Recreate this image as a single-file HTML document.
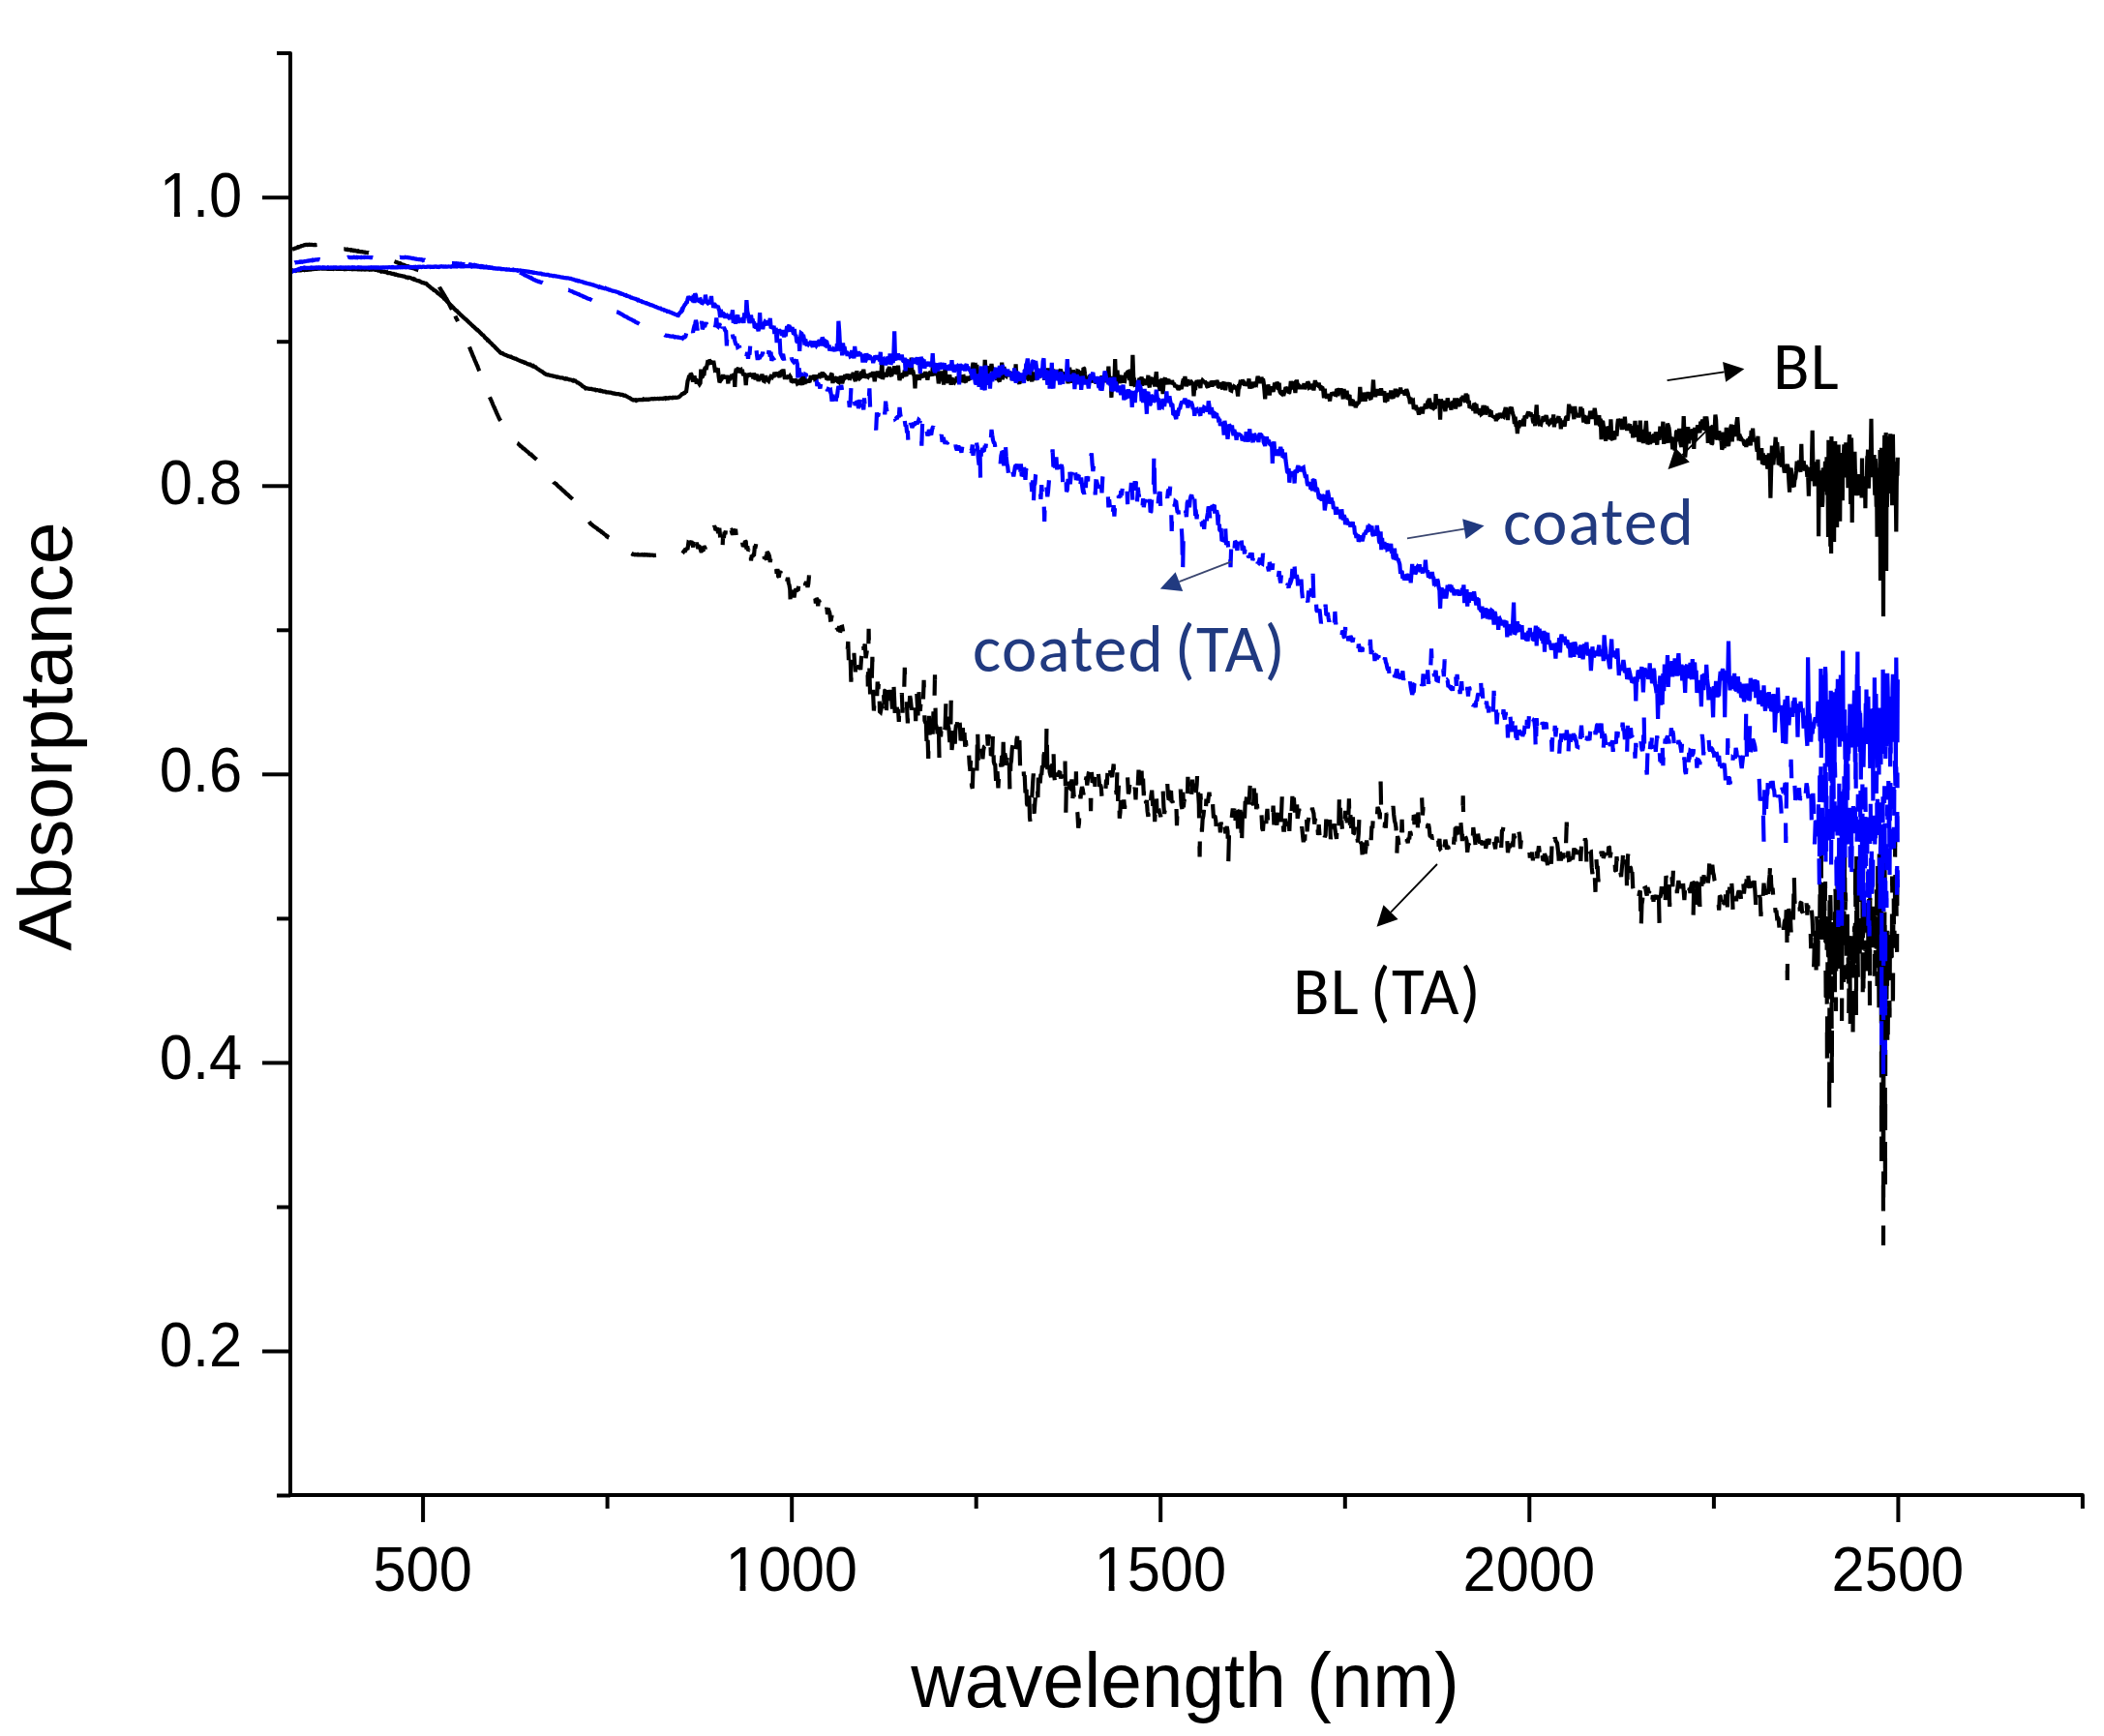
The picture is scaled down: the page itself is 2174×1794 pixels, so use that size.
<!DOCTYPE html>
<html><head><meta charset="utf-8"><title>Absorptance vs wavelength</title><style>
html,body{margin:0;padding:0;background:#fff;}
body{width:2174px;height:1794px;overflow:hidden;}
svg{display:block;filter:blur(0.6px);}
.lib{font-family:"Liberation Sans",Arial,sans-serif;}
.cal{font-family:Carlito,Calibri,"Liberation Sans",sans-serif;letter-spacing:1.3px;word-spacing:-6.3px;font-kerning:normal;}
</style></head><body>
<svg xmlns="http://www.w3.org/2000/svg" width="2174" height="1794" viewBox="0 0 2174 1794">
<rect width="2174" height="1794" fill="#fff"/>
<path d="M301.0,258.0 L301.8,257.9 L302.5,257.6 L303.3,257.1 L304.0,256.9 L304.8,256.6 L305.6,256.5 L306.3,256.1 L307.1,255.9 L307.8,255.3 L308.6,255.5 L309.4,255.0 L310.1,254.8 L310.9,254.5 L311.6,254.1 L312.4,254.0 L313.2,253.8 L313.9,253.4 L314.7,253.1 L315.4,253.1 L316.2,252.9 L317.0,252.8 L317.7,253.1 L318.5,252.9 L319.2,252.7 L320.0,252.9 L320.8,252.9 L321.5,252.8 L322.3,252.8 L323.0,253.0 L323.8,253.1 L324.6,253.0 L325.3,252.9 L326.1,253.1 L326.8,253.1 L327.6,253.0 L328.4,253.1 L329.1,253.2 L329.9,253.0 L330.6,253.0 L331.4,253.3 L332.2,253.4 L332.9,253.7 L333.7,253.4 L334.4,253.6 L335.2,253.7 L336.0,253.7 L336.7,254.1 L337.5,254.3 L338.2,254.3 L339.0,254.7 L339.8,254.7 L340.5,254.8 L341.3,254.9 L342.0,255.2 L342.8,254.9 L343.6,255.4 L344.3,255.5 L345.1,255.2 L345.8,255.7 L346.6,255.7 L347.4,256.0 L348.1,256.0 L348.9,256.1 L349.6,256.3 L350.4,256.3 L351.2,256.6 L351.9,256.6 L352.7,256.9 L353.4,256.8 L354.2,257.2 L355.0,257.3 L355.7,257.3 L356.5,257.5 L357.2,257.7 L358.0,257.9 L358.8,257.6 L359.5,258.1 L360.3,258.1 L361.0,258.2 L361.8,258.1 L362.6,258.6 L363.3,258.3 L364.1,258.7 L364.8,259.0 L365.6,258.7 L366.4,259.0 L367.1,258.9 L367.9,259.3 L368.6,259.6 L369.4,259.8 L370.2,259.4 L370.9,259.7 L371.7,260.0 L372.4,260.2 L373.2,260.2 L374.0,260.1 L374.7,260.4 L375.5,260.5 L376.2,260.6 L377.0,260.6 L377.8,260.9 L378.5,261.0 L379.3,261.1 L380.0,261.2 L380.8,261.1 L381.6,261.4 L382.3,261.8 L383.1,261.7 L383.8,261.6 L384.6,262.1 L385.4,262.2 L386.1,262.7 L386.9,262.7 L387.6,262.9 L388.4,263.0 L389.2,263.7 L389.9,264.2 L390.7,264.0 L391.4,264.3 L392.2,264.7 L393.0,264.8 L393.7,265.2 L394.5,265.4 L395.2,265.8 L396.0,266.2 L396.8,266.3 L397.5,266.8 L398.3,266.8 L399.0,267.2 L399.8,267.1 L400.6,267.5 L401.3,268.1 L402.1,268.2 L402.8,268.7 L403.6,268.9 L404.4,269.3 L405.1,269.5 L405.9,269.8 L406.6,270.0 L407.4,270.1 L408.2,270.4 L408.9,270.7 L409.7,270.9 L410.4,271.3 L411.2,271.6 L412.0,272.0 L412.7,272.2 L413.5,272.2 L414.2,272.8 L415.0,273.1 L415.8,273.5 L416.5,273.7 L417.3,273.8 L418.0,274.1 L418.8,274.8 L419.6,274.8 L420.3,275.3 L421.1,275.6 L421.8,275.4 L422.6,275.9 L423.4,276.2 L424.1,276.5 L424.9,276.7 L425.6,276.9 L426.4,277.2 L427.2,277.2 L427.9,277.6 L428.7,277.8 L429.4,278.2 L430.2,278.3 L431.0,278.7 L431.7,279.0 L432.5,279.2 L433.2,279.5 L434.0,279.7 L434.8,279.9 L435.5,280.1 L436.3,280.4 L437.0,280.7 L437.8,280.9 L438.6,281.5 L439.3,281.8 L440.1,282.7 L440.8,283.0 L441.6,283.6 L442.4,284.2 L443.1,284.8 L443.9,285.5 L444.6,285.9 L445.4,286.4 L446.2,287.0 L446.9,287.9 L447.7,288.3 L448.4,288.7 L449.2,289.4 L450.0,289.7 L450.7,291.5 L451.5,292.2 L452.2,293.8 L453.0,295.1 L453.8,296.0 L454.5,297.6 L455.3,298.9 L456.0,300.1 L456.8,301.4 L457.6,302.7 L458.3,303.9 L459.1,305.2 L459.8,306.4 L460.6,307.8 L461.4,308.8 L462.1,310.4 L462.9,311.7 L463.6,313.1 L464.4,314.9 L465.2,316.6 L465.9,318.0 L466.7,319.3 L467.4,321.0 L468.2,322.3 L469.0,323.9 L469.7,325.5 L470.5,326.6" fill="none" stroke="#000" stroke-width="4.2" stroke-linejoin="miter" stroke-miterlimit="2" stroke-dasharray="27 29" stroke-dashoffset="54.98"/>
<path d="M470.5,326.6 L471.2,328.5 L472.0,329.8 L472.8,331.6 L473.5,333.1 L474.3,334.7 L475.0,336.5 L475.8,338.4 L476.6,340.2 L477.3,341.6 L478.1,343.4 L478.8,344.9 L479.6,346.3 L480.4,348.3 L481.1,350.0 L481.9,351.5 L482.6,353.3 L483.4,355.0 L484.2,356.6 L484.9,358.3 L485.7,360.3 L486.4,362.1 L487.2,363.9 L488.0,365.9 L488.7,367.8 L489.5,369.3 L490.2,371.2 L491.0,373.1 L491.8,374.8 L492.5,376.7 L493.3,378.2 L494.0,380.2 L494.8,382.3 L495.6,384.1 L496.3,385.8 L497.1,388.0 L497.8,390.0 L498.6,391.8 L499.4,393.6 L500.1,395.8 L500.9,397.4 L501.6,399.6 L502.4,401.4 L503.2,403.2 L503.9,405.5 L504.7,407.3 L505.4,409.0 L506.2,411.0 L507.0,412.6 L507.7,414.1 L508.5,416.0 L509.2,417.8 L510.0,419.6 L510.8,421.2 L511.5,422.9 L512.3,424.7 L513.0,426.3 L513.8,428.2 L514.6,429.8 L515.3,431.5 L516.1,433.2 L516.8,434.0 L517.6,435.1 L518.4,436.4 L519.1,437.3 L519.9,438.2 L520.6,439.3 L521.4,440.2 L522.2,441.4 L522.9,442.3 L523.7,443.4 L524.4,444.2 L525.2,445.6 L526.0,446.4 L526.7,447.2 L527.5,448.5 L528.2,449.5 L529.0,450.6 L529.8,451.4 L530.5,452.7 L531.3,454.2 L532.0,454.5 L532.8,455.8 L533.6,456.7 L534.3,457.8 L535.1,458.2 L535.8,458.9 L536.6,459.8 L537.4,460.4 L538.1,461.3 L538.9,461.6 L539.6,462.3 L540.4,463.4 L541.2,463.5 L541.9,464.1 L542.7,464.8 L543.4,465.5 L544.2,466.2 L545.0,466.8 L545.7,467.3 L546.5,468.1 L547.2,469.1 L548.0,469.5 L548.8,469.5 L549.5,470.6 L550.3,471.1 L551.0,471.9 L551.8,472.5 L552.6,473.4 L553.3,473.9 L554.1,474.5 L554.8,475.1 L555.6,475.7 L556.4,476.5 L557.1,477.7 L557.9,478.7 L558.6,479.6 L559.4,480.9 L560.2,481.7 L560.9,482.8 L561.7,483.7 L562.4,484.8 L563.2,485.8 L564.0,486.5 L564.7,488.1 L565.5,489.1 L566.2,490.0 L567.0,491.3 L567.8,492.2 L568.5,493.3 L569.3,493.9 L570.0,495.3 L570.8,496.4 L571.6,497.6 L572.3,498.6 L573.1,499.2 L573.8,499.5 L574.6,500.0 L575.4,501.1 L576.1,501.7 L576.9,502.6 L577.6,503.1 L578.4,503.8 L579.2,504.3 L579.9,505.2 L580.7,505.8 L581.4,506.6 L582.2,507.3 L583.0,507.9 L583.7,508.7 L584.5,509.3 L585.2,510.1 L586.0,510.7 L586.8,511.3 L587.5,512.0 L588.3,513.0 L589.0,513.4 L589.8,514.3 L590.6,514.9 L591.3,515.4 L592.1,516.1 L592.8,516.9 L593.6,517.9 L594.4,519.0 L595.1,519.8 L595.9,521.0 L596.6,522.1 L597.4,523.5 L598.2,523.9 L598.9,525.4 L599.7,526.3 L600.4,527.6 L601.2,528.5 L602.0,529.7 L602.7,531.0 L603.5,531.8 L604.2,532.9 L605.0,534.0 L605.8,534.9 L606.5,536.2 L607.3,537.1 L608.0,538.1 L608.8,539.3 L609.6,540.3 L610.3,541.4 L611.1,541.8 L611.8,542.3 L612.6,543.2 L613.4,543.7 L614.1,544.3 L614.9,544.8 L615.6,545.3 L616.4,545.8 L617.2,546.4 L617.9,547.2 L618.7,547.6 L619.4,548.0 L620.2,548.8 L621.0,549.1 L621.7,550.0 L622.5,550.3 L623.2,550.9 L624.0,551.7 L624.8,552.2 L625.5,552.6 L626.3,553.5 L627.0,554.3 L627.8,554.3 L628.6,555.4 L629.3,555.6 L630.1,556.2 L630.8,556.9 L631.6,557.2 L632.4,558.1 L633.1,558.5 L633.9,558.9 L634.6,559.5 L635.4,559.8 L636.2,560.5 L636.9,561.3 L637.7,561.4 L638.4,562.1 L639.2,562.7 L640.0,563.4 L640.7,564.0 L641.5,564.2 L642.2,564.7 L643.0,565.4 L643.8,565.8 L644.5,566.4 L645.3,567.1 L646.0,567.7 L646.8,568.0 L647.6,568.5 L648.3,569.1 L649.1,569.3 L649.8,570.1 L650.6,570.5 L651.4,571.5 L652.1,571.8 L652.9,572.2 L653.6,572.7 L654.4,572.6 L655.2,573.1 L655.9,573.3 L656.7,573.0 L657.4,573.2 L658.2,573.3 L659.0,572.9 L659.7,573.3 L660.5,573.4 L661.2,573.3 L662.0,573.3 L662.8,573.4 L663.5,573.1 L664.3,573.4 L665.0,573.6 L665.8,573.2 L666.6,573.6 L667.3,573.4 L668.1,573.2 L668.8,573.5 L669.6,573.4 L670.4,573.6 L671.1,573.4 L671.9,573.8 L672.6,573.6 L673.4,573.7 L674.2,573.6 L674.9,573.7 L675.7,574.0 L676.4,573.8 L677.2,573.8 L678.0,573.7 L678.7,574.1 L679.5,574.0 L680.2,573.9 L681.0,574.0 L681.8,573.8 L682.5,573.8 L683.3,573.9 L684.0,574.1 L684.8,574.0 L685.6,573.9 L686.3,574.1 L687.1,574.1 L687.8,574.0 L688.6,574.2 L689.4,574.0 L690.1,574.0 L690.9,574.1 L691.6,574.0 L692.4,574.1 L693.2,573.8 L693.9,574.2 L694.7,573.9 L695.4,574.0 L696.2,573.8 L697.0,574.1 L697.7,574.2 L698.5,574.2 L699.2,574.1 L700.0,573.8 L700.8,573.9 L701.5,573.9 L702.3,573.9 L703.0,574.1 L703.8,573.2 L704.6,572.4 L705.3,571.7 L706.1,570.3 L706.8,569.4 L707.6,568.3 L708.4,568.7 L709.1,567.5 L709.9,566.8 L710.6,566.6 L711.4,560.8 L712.2,561.2 L712.9,562.1 L713.7,560.1 L714.4,559.3 L715.2,562.1 L716.0,562.0 L716.7,574.1 L717.5,559.7 L718.2,559.6 L719.0,563.2 L719.8,560.9 L720.5,563.6 L721.3,567.0 L722.0,564.4 L722.8,564.9 L723.6,567.2 L724.3,569.3 L725.1,569.3 L725.8,568.7 L726.6,569.5 L727.4,564.4 L728.1,565.5 L728.9,567.0 L729.6,563.3 L730.4,560.7 L731.2,558.8 L731.9,557.0 L732.7,556.1 L733.4,551.7 L734.2,552.4 L735.0,554.0 L735.7,550.1 L736.5,550.3 L737.2,547.1 L738.0,543.5 L738.8,545.0 L739.5,548.1 L740.3,546.8 L741.0,545.4 L741.8,549.4 L742.6,549.4 L743.3,545.8 L744.1,554.5 L744.8,558.4 L745.6,554.7 L746.4,570.0 L747.1,552.7 L747.9,556.0 L748.6,549.7 L749.4,552.3 L750.2,545.1 L750.9,541.5 L751.7,543.5 L752.4,551.6 L753.2,545.4 L754.0,549.4 L754.7,548.4 L755.5,548.0 L756.2,550.3 L757.0,552.6 L757.8,546.4 L758.5,550.7 L759.3,550.4 L760.0,546.7 L760.8,554.3 L761.6,555.8 L762.3,550.1 L763.1,557.5 L763.8,554.9 L764.6,555.6 L765.4,560.7 L766.1,558.8 L766.9,559.9 L767.6,563.5 L768.4,563.7 L769.2,563.6 L769.9,559.2 L770.7,559.9 L771.4,567.6 L772.2,564.5 L773.0,568.9 L773.7,568.2 L774.5,572.4 L775.2,561.8 L776.0,579.4 L776.8,573.6 L777.5,575.3 L778.3,573.7 L779.0,574.6 L779.8,565.5 L780.6,565.4 L781.3,562.0 L782.1,561.4 L782.8,563.1 L783.6,557.3 L784.4,559.4 L785.1,559.0 L785.9,562.3 L786.6,562.6 L787.4,563.1 L788.2,566.5 L788.9,569.3 L789.7,575.7 L790.4,575.6 L791.2,577.3 L792.0,578.0 L792.7,570.3 L793.5,571.3 L794.2,572.6 L795.0,575.0 L795.8,580.9 L796.5,576.0 L797.3,578.1 L798.0,575.1 L798.8,571.8 L799.6,574.5 L800.3,584.9 L801.1,585.6 L801.8,584.7 L802.6,592.7 L803.4,588.0 L804.1,595.4 L804.9,596.5 L805.6,591.2 L806.4,590.3 L807.2,595.1 L807.9,591.1 L808.7,596.9 L809.4,593.5 L810.2,599.8 L811.0,598.7 L811.7,597.9 L812.5,597.3 L813.2,600.7 L814.0,596.8 L814.8,602.4 L815.5,604.4 L816.3,609.5 L817.0,630.7 L817.8,616.0 L818.6,612.0 L819.3,610.0 L820.1,615.6 L820.8,615.6 L821.6,610.5 L822.4,608.6 L823.1,610.9 L823.9,609.4 L824.6,610.4 L825.4,603.4 L826.2,604.0 L826.9,608.7 L827.7,607.2 L828.4,604.0 L829.2,604.2 L830.0,595.9 L830.7,598.5 L831.5,599.3 L832.2,605.0 L833.0,600.8 L833.8,603.5 L834.5,606.9 L835.3,603.3 L836.0,594.5 L836.8,608.1 L837.6,605.9 L838.3,608.6 L839.1,612.4 L839.8,613.0 L840.6,613.1 L841.4,615.2 L842.1,616.5 L842.9,623.4 L843.6,618.3 L844.4,619.3 L845.2,626.2 L845.9,620.1 L846.7,621.8 L847.4,625.2 L848.2,622.0 L849.0,619.5 L849.7,625.1 L850.5,626.9 L851.2,629.0 L852.0,628.1 L852.8,632.0 L853.5,633.3 L854.3,627.9 L855.0,634.7 L855.8,632.4 L856.6,631.6 L857.3,633.5 L858.1,640.6 L858.8,640.5 L859.6,636.0 L860.4,643.5 L861.1,645.8 L861.9,648.4 L862.6,649.5 L863.4,647.7 L864.2,656.0 L864.9,649.1 L865.7,650.3 L866.4,651.8 L867.2,647.1 L868.0,653.3 L868.7,652.1 L869.5,647.9 L870.2,647.7 L871.0,651.8 L871.8,661.9 L872.5,660.3 L873.3,664.3 L874.0,664.5 L874.8,668.2 L875.6,674.1 L876.3,663.0 L877.1,688.1 L877.8,673.5 L878.6,676.7 L879.4,704.6 L880.1,686.2 L880.9,688.1 L881.6,682.2 L882.4,674.9 L883.2,687.5 L883.9,694.4 L884.7,678.3 L885.4,683.0 L886.2,677.5 L887.0,681.4 L887.7,691.4 L888.5,687.7 L889.2,692.1 L890.0,679.8 L890.8,674.8 L891.5,658.4 L892.3,668.6 L893.0,668.2 L893.8,665.6 L894.6,680.2 L895.3,675.9 L896.1,670.4 L896.8,709.4 L897.6,649.9 L898.4,693.7 L899.1,718.5 L899.9,723.5 L900.6,710.8 L901.4,678.7 L902.2,717.9 L902.9,734.5 L903.7,722.6 L904.4,716.4 L905.2,719.3 L906.0,725.7 L906.7,704.6 L907.5,712.0 L908.2,701.3 L909.0,735.4 L909.8,736.1 L910.5,732.6 L911.3,726.6 L912.0,733.4 L912.8,711.9 L913.6,728.2 L914.3,713.7 L915.1,713.2 L915.8,738.9 L916.6,713.1 L917.4,718.6 L918.1,708.3 L918.9,716.8 L919.6,709.5 L920.4,723.9 L921.2,720.5 L921.9,732.7 L922.7,719.1 L923.4,706.8 L924.2,724.9 L925.0,745.0 L925.7,732.5 L926.5,727.5 L927.2,735.7 L928.0,732.9 L928.8,745.9 L929.5,724.7 L930.3,727.7 L931.0,725.8 L931.8,716.2 L932.6,736.7 L933.3,715.4 L934.1,719.2 L934.8,689.8 L935.6,713.5 L936.4,713.9 L937.1,730.6 L937.9,747.4 L938.6,722.4 L939.4,731.3 L940.2,719.2 L940.9,723.0 L941.7,731.1 L942.4,738.2 L943.2,730.2 L944.0,732.9 L944.7,733.2 L945.5,725.7 L946.2,745.3 L947.0,710.2 L947.8,727.1 L948.5,739.4 L949.3,710.5 L950.0,730.2 L950.8,734.8 L951.6,724.3 L952.3,736.1 L953.1,735.2 L953.8,728.5 L954.6,702.9 L955.4,744.7 L956.1,746.6 L956.9,747.8 L957.6,770.5 L958.4,755.5 L959.2,784.0 L959.9,739.9 L960.7,760.8 L961.4,753.2 L962.2,751.9 L963.0,744.1 L963.7,758.6 L964.5,735.4 L965.2,741.6 L966.0,697.2 L966.8,748.1 L967.5,750.5 L968.3,754.4 L969.0,762.3 L969.8,746.6 L970.6,786.7 L971.3,751.0 L972.1,761.5 L972.8,749.5 L973.6,749.2 L974.4,753.8 L975.1,762.7 L975.9,754.9 L976.6,751.9 L977.4,726.5 L978.2,743.4 L978.9,736.2 L979.7,750.3 L980.4,752.8 L981.2,765.1 L982.0,772.3 L982.7,723.8 L983.5,775.0 L984.2,768.3 L985.0,762.9 L985.8,759.3 L986.5,774.1 L987.3,755.1 L988.0,748.8 L988.8,750.9 L989.6,737.1 L990.3,749.1 L991.1,744.1 L991.8,748.2 L992.6,765.4 L993.4,743.6 L994.1,765.6 L994.9,752.2 L995.6,770.1 L996.4,754.4 L997.2,771.7 L997.9,765.2 L998.7,774.4 L999.4,772.5 L1000.2,764.9 L1001.0,776.9 L1001.7,789.5 L1002.5,796.8 L1003.2,783.2 L1004.0,812.0 L1004.8,814.8 L1005.5,794.0 L1006.3,790.3 L1007.0,788.1 L1007.8,799.3 L1008.6,798.7 L1009.3,803.3 L1010.1,749.7 L1010.8,786.8 L1011.6,783.3 L1012.4,772.9 L1013.1,781.4 L1013.9,781.0 L1014.6,773.8 L1015.4,784.3 L1016.2,775.1 L1016.9,771.6 L1017.7,770.9 L1018.4,765.5 L1019.2,750.5 L1020.0,758.2 L1020.7,770.6 L1021.5,759.3 L1022.2,766.9 L1023.0,756.9 L1023.8,779.4 L1024.5,779.6 L1025.3,778.8 L1026.0,756.1 L1026.8,787.1 L1027.6,789.8 L1028.3,790.5 L1029.1,807.3 L1029.8,787.9 L1030.6,798.4 L1031.4,814.4 L1032.1,802.0 L1032.9,805.7 L1033.6,786.0 L1034.4,792.6 L1035.2,781.0 L1035.9,801.4 L1036.7,766.7 L1037.4,795.6 L1038.2,778.4 L1039.0,782.4 L1039.7,790.7 L1040.5,783.3 L1041.2,789.6 L1042.0,776.5 L1042.8,788.4 L1043.5,820.7 L1044.3,789.6 L1045.0,786.1 L1045.8,773.2 L1046.6,768.6 L1047.3,770.1 L1048.1,767.4 L1048.8,774.4 L1049.6,782.2 L1050.4,764.4 L1051.1,760.9 L1051.9,778.9 L1052.6,784.6 L1053.4,765.0 L1054.2,797.4 L1054.9,796.6 L1055.7,791.0 L1056.4,794.3 L1057.2,789.5 L1058.0,801.9 L1058.7,801.1 L1059.5,819.3 L1060.2,801.5 L1061.0,830.7 L1061.8,832.9 L1062.5,808.1 L1063.3,818.0 L1064.0,845.1 L1064.8,850.9 L1065.6,825.0 L1066.3,823.7 L1067.1,809.8 L1067.8,799.4 L1068.6,840.9 L1069.4,829.1 L1070.1,821.2 L1070.9,806.6 L1071.6,807.5 L1072.4,824.2 L1073.2,789.6 L1073.9,804.3 L1074.7,809.4 L1075.4,800.0 L1076.2,800.9 L1077.0,791.1 L1077.7,807.6 L1078.5,780.6 L1079.2,777.6 L1080.0,790.0 L1080.8,798.8 L1081.5,746.9 L1082.3,795.2 L1083.0,782.7 L1083.8,777.5 L1084.6,797.6 L1085.3,800.7 L1086.1,803.2 L1086.8,791.7 L1087.6,789.4 L1088.4,769.9 L1089.1,800.2 L1089.9,806.7 L1090.6,805.7 L1091.4,790.1 L1092.2,801.1 L1092.9,798.7 L1093.7,802.6 L1094.4,797.9 L1095.2,797.2 L1096.0,804.4 L1096.7,802.2 L1097.5,804.1 L1098.2,797.8 L1099.0,806.0 L1099.8,801.9 L1100.5,786.6 L1101.3,840.5 L1102.0,801.5 L1102.8,812.0 L1103.6,806.2 L1104.3,809.2 L1105.1,814.1 L1105.8,814.8 L1106.6,813.6 L1107.4,805.4 L1108.1,834.6 L1108.9,810.9 L1109.6,822.3 L1110.4,831.8 L1111.2,831.6 L1111.9,797.4 L1112.7,836.7 L1113.4,840.4 L1114.2,855.7 L1115.0,850.4 L1115.7,818.8 L1116.5,825.3 L1117.2,817.8 L1118.0,813.1 L1118.8,816.0 L1119.5,821.5 L1120.3,801.9 L1121.0,798.7 L1121.8,806.5 L1122.6,802.6 L1123.3,811.6 L1124.1,804.1 L1124.8,798.9 L1125.6,796.7 L1126.4,803.4 L1127.1,838.3 L1127.9,796.9 L1128.6,808.7 L1129.4,807.6 L1130.2,806.3 L1130.9,803.0 L1131.7,817.0 L1132.4,808.1 L1133.2,809.4 L1134.0,798.7 L1134.7,797.5 L1135.5,805.8 L1136.2,812.7 L1137.0,810.8 L1137.8,813.8 L1138.5,823.5 L1139.3,819.0 L1140.0,809.4 L1140.8,813.4 L1141.6,811.4 L1142.3,817.0 L1143.1,805.7 L1143.8,811.2 L1144.6,793.9 L1145.4,807.1 L1146.1,804.5 L1146.9,796.3 L1147.6,799.6 L1148.4,800.8 L1149.2,803.0 L1149.9,796.3 L1150.7,789.6 L1151.4,813.4 L1152.2,809.4 L1153.0,815.6 L1153.7,820.9 L1154.5,793.3 L1155.2,828.0 L1156.0,810.2 L1156.8,845.7 L1157.5,839.4 L1158.3,814.5 L1159.0,833.2 L1159.8,833.4 L1160.6,835.5 L1161.3,826.4 L1162.1,835.8 L1162.8,825.3 L1163.6,823.5 L1164.4,820.4 L1165.1,803.4 L1165.9,820.4 L1166.6,818.3 L1167.4,809.0 L1168.2,816.2 L1168.9,813.9 L1169.7,806.9 L1170.4,809.9 L1171.2,810.3 L1172.0,816.1 L1172.7,813.8 L1173.5,826.4 L1174.2,807.2 L1175.0,820.6 L1175.8,810.1 L1176.5,795.6 L1177.3,823.4 L1178.0,817.0 L1178.8,813.4 L1179.6,796.6 L1180.3,823.6 L1181.1,804.6 L1181.8,822.2 L1182.6,808.1 L1183.4,820.7 L1184.1,830.3 L1184.9,827.0 L1185.6,838.2 L1186.4,844.0 L1187.2,830.3 L1187.9,838.3 L1188.7,835.2 L1189.4,822.4 L1190.2,816.7 L1191.0,829.6 L1191.7,845.6 L1192.5,829.4 L1193.2,849.2 L1194.0,832.8 L1194.8,819.2 L1195.5,839.7 L1196.3,837.6 L1197.0,838.5 L1197.8,838.0 L1198.6,841.2 L1199.3,844.2 L1200.1,829.9 L1200.8,824.8 L1201.6,815.5 L1202.4,833.1 L1203.1,841.0 L1203.9,836.3 L1204.6,831.7 L1205.4,825.4 L1206.2,809.3 L1206.9,822.0 L1207.7,826.6 L1208.4,811.0 L1209.2,831.3 L1210.0,817.0 L1210.7,829.1 L1211.5,827.7 L1212.2,831.3 L1213.0,827.2 L1213.8,826.7 L1214.5,833.4 L1215.3,826.8 L1216.0,853.2 L1216.8,831.6 L1217.6,829.8 L1218.3,830.6 L1219.1,826.4 L1219.8,815.7 L1220.6,831.9 L1221.4,836.0 L1222.1,810.0 L1222.9,834.4 L1223.6,825.9 L1224.4,835.2 L1225.2,838.1 L1225.9,838.5 L1226.7,837.2 L1227.4,802.9 L1228.2,823.0 L1229.0,826.0 L1229.7,830.2 L1230.5,831.0 L1231.2,821.3 L1232.0,805.7 L1232.8,823.6 L1233.5,808.4 L1234.3,808.3 L1235.0,805.4 L1235.8,819.1 L1236.6,811.2 L1237.3,795.8 L1238.1,819.3 L1238.8,831.5 L1239.6,885.5 L1240.4,820.1 L1241.1,830.5 L1241.9,859.7 L1242.6,846.7 L1243.4,843.1 L1244.2,835.4 L1244.9,848.0 L1245.7,844.1 L1246.4,825.7 L1247.2,828.7 L1248.0,829.4 L1248.7,823.9 L1249.5,818.7 L1250.2,826.4 L1251.0,825.0 L1251.8,822.0 L1252.5,816.0 L1253.3,834.9 L1254.0,845.4 L1254.8,843.6 L1255.6,844.1 L1256.3,848.2 L1257.1,862.7 L1257.8,865.1 L1258.6,858.3 L1259.4,861.7 L1260.1,850.6 L1260.9,860.3 L1261.6,849.6 L1262.4,854.9 L1263.2,855.8 L1263.9,854.2 L1264.7,842.8 L1265.4,852.9 L1266.2,861.4 L1267.0,857.6 L1267.7,854.0 L1268.5,859.0 L1269.2,892.9 L1270.0,860.5 L1270.8,847.5 L1271.5,852.8 L1272.3,848.7 L1273.0,842.6 L1273.8,835.5 L1274.6,843.5 L1275.3,835.7 L1276.1,857.2 L1276.8,840.1 L1277.6,839.6 L1278.4,839.2 L1279.1,857.1 L1279.9,836.5 L1280.6,842.3 L1281.4,837.2 L1282.2,841.0 L1282.9,877.9 L1283.7,847.1 L1284.4,826.5 L1285.2,835.2 L1286.0,845.7 L1286.7,828.1 L1287.5,828.9 L1288.2,821.7 L1289.0,809.1 L1289.8,823.5 L1290.5,831.2 L1291.3,817.5 L1292.0,806.6 L1292.8,822.7 L1293.6,822.3 L1294.3,830.6 L1295.1,831.3 L1295.8,814.6 L1296.6,829.3 L1297.4,813.5 L1298.1,836.2 L1298.9,830.8 L1299.6,840.3 L1300.4,844.0 L1301.2,838.7 L1301.9,845.1 L1302.7,844.7 L1303.4,839.6 L1304.2,856.2 L1305.0,858.6 L1305.7,847.9 L1306.5,859.0 L1307.2,852.0 L1308.0,856.9 L1308.8,843.0 L1309.5,835.9 L1310.3,856.3 L1311.0,856.6 L1311.8,852.4 L1312.6,850.5 L1313.3,851.0 L1314.1,850.5 L1314.8,845.7 L1315.6,832.7 L1316.4,852.5 L1317.1,835.4 L1317.9,845.0 L1318.6,846.7 L1319.4,852.6 L1320.2,839.7 L1320.9,861.1 L1321.7,856.4 L1322.4,855.9 L1323.2,858.1 L1324.0,841.4 L1324.7,823.3 L1325.5,849.4 L1326.2,857.6 L1327.0,857.6 L1327.8,846.0 L1328.5,850.3 L1329.3,853.7 L1330.0,838.0 L1330.8,845.8 L1331.6,844.5 L1332.3,858.9 L1333.1,839.4 L1333.8,852.9 L1334.6,838.2 L1335.4,822.8 L1336.1,849.8 L1336.9,824.4 L1337.6,835.8 L1338.4,844.4 L1339.2,828.9 L1339.9,825.8 L1340.7,845.8 L1341.4,841.9 L1342.2,835.8 L1343.0,840.5 L1343.7,848.9 L1344.5,861.7 L1345.2,854.3 L1346.0,862.5 L1346.8,870.2 L1347.5,866.7 L1348.3,866.7 L1349.0,844.7 L1349.8,840.1 L1350.6,859.4 L1351.3,850.9 L1352.1,845.9 L1352.8,837.4 L1353.6,832.7 L1354.4,835.5 L1355.1,843.4 L1355.9,834.8 L1356.6,838.0 L1357.4,840.5 L1358.2,851.6 L1358.9,846.3 L1359.7,849.7 L1360.4,863.3 L1361.2,853.5 L1362.0,862.7 L1362.7,852.1 L1363.5,863.6 L1364.2,862.5 L1365.0,862.8 L1365.8,857.5 L1366.5,852.5 L1367.3,857.1 L1368.0,854.9 L1368.8,865.2 L1369.6,863.3 L1370.3,846.7 L1371.1,860.1 L1371.8,851.8 L1372.6,859.5 L1373.4,853.4 L1374.1,847.2 L1374.9,867.1 L1375.6,863.9 L1376.4,851.9 L1377.2,847.0 L1377.9,856.9 L1378.7,851.4 L1379.4,856.4 L1380.2,862.3 L1381.0,866.8 L1381.7,851.0 L1382.5,861.6 L1383.2,857.7 L1384.0,816.0 L1384.8,832.6 L1385.5,850.4 L1386.3,848.0 L1387.0,858.5 L1387.8,854.5 L1388.6,850.1 L1389.3,857.6 L1390.1,837.8 L1390.8,847.8 L1391.6,845.0 L1392.4,860.7 L1393.1,852.2 L1393.9,825.3 L1394.6,858.7 L1395.4,842.1 L1396.2,855.9 L1396.9,848.3 L1397.7,834.4 L1398.4,861.8 L1399.2,861.2 L1400.0,854.7 L1400.7,873.9 L1401.5,867.3 L1402.2,864.6 L1403.0,870.4 L1403.8,861.5 L1404.5,843.8 L1405.3,868.8 L1406.0,870.8 L1406.8,871.7 L1407.6,883.3 L1408.3,862.0 L1409.1,858.5 L1409.8,874.7 L1410.6,882.3 L1411.4,875.8 L1412.1,868.4 L1412.9,875.7 L1413.6,876.7 L1414.4,876.3 L1415.2,862.4 L1415.9,858.3 L1416.7,868.1 L1417.4,853.6 L1418.2,856.0 L1419.0,841.4 L1419.7,848.9 L1420.5,850.2 L1421.2,845.4 L1422.0,847.3 L1422.8,844.2 L1423.5,834.0 L1424.3,836.0 L1425.0,837.7 L1425.8,846.4 L1426.6,807.6 L1427.3,847.3 L1428.1,849.3 L1428.8,851.4 L1429.6,857.4 L1430.4,857.5 L1431.1,849.8 L1431.9,855.6 L1432.6,840.4 L1433.4,841.6 L1434.2,842.9 L1434.9,839.3 L1435.7,844.5 L1436.4,847.4 L1437.2,840.3 L1438.0,839.9 L1438.7,840.0 L1439.5,833.0 L1440.2,841.7 L1441.0,848.3 L1441.8,851.0 L1442.5,855.3 L1443.3,884.5 L1444.0,864.0 L1444.8,867.0 L1445.6,876.8 L1446.3,870.1 L1447.1,874.5 L1447.8,871.3 L1448.6,846.9 L1449.4,869.2 L1450.1,867.8 L1450.9,871.5 L1451.6,868.5 L1452.4,868.5 L1453.2,874.7 L1453.9,867.1 L1454.7,871.3 L1455.4,865.8 L1456.2,867.2 L1457.0,859.3 L1457.7,861.2 L1458.5,870.4 L1459.2,859.8 L1460.0,857.8 L1460.8,842.1 L1461.5,852.1 L1462.3,841.9 L1463.0,843.4 L1463.8,850.3 L1464.6,863.4 L1465.3,839.5 L1466.1,850.4 L1466.8,848.7 L1467.6,847.6 L1468.4,840.8 L1469.1,823.0 L1469.9,842.5 L1470.6,834.6 L1471.4,838.6 L1472.2,841.4 L1472.9,841.5 L1473.7,849.4 L1474.4,859.9 L1475.2,853.0 L1476.0,851.5 L1476.7,855.4 L1477.5,863.5 L1478.2,864.8 L1479.0,862.5 L1479.8,866.9 L1480.5,866.1 L1481.3,865.4 L1482.0,871.1 L1482.8,861.6 L1483.6,865.3 L1484.3,866.2 L1485.1,865.1 L1485.8,863.5 L1486.6,874.9 L1487.4,866.8 L1488.1,877.3 L1488.9,878.8 L1489.6,879.4 L1490.4,875.0 L1491.2,879.4 L1491.9,866.3 L1492.7,875.2 L1493.4,867.6 L1494.2,872.4 L1495.0,877.8 L1495.7,874.8 L1496.5,875.6 L1497.2,882.0 L1498.0,879.9 L1498.8,879.9 L1499.5,879.5 L1500.3,886.5 L1501.0,880.1 L1501.8,876.0 L1502.6,865.0 L1503.3,869.7 L1504.1,840.2 L1504.8,863.1 L1505.6,853.8 L1506.4,866.0 L1507.1,856.5 L1507.9,861.6 L1508.6,860.4 L1509.4,850.3 L1510.2,859.2 L1510.9,869.1 L1511.7,822.3 L1512.4,859.3 L1513.2,866.0 L1514.0,864.3 L1514.7,866.0 L1515.5,868.8 L1516.2,880.8 L1517.0,873.7 L1517.8,872.1 L1518.5,870.9 L1519.3,873.8 L1520.0,871.7 L1520.8,861.6 L1521.6,869.4 L1522.3,855.0 L1523.1,862.3 L1523.8,865.2 L1524.6,874.2 L1525.4,853.9 L1526.1,858.3 L1526.9,865.2 L1527.6,864.7 L1528.4,869.5 L1529.2,871.0 L1529.9,868.7 L1530.7,871.0 L1531.4,872.6 L1532.2,868.6 L1533.0,876.2 L1533.7,860.6 L1534.5,865.8 L1535.2,876.8 L1536.0,872.2 L1536.8,867.2 L1537.5,871.4 L1538.3,872.6 L1539.0,866.4 L1539.8,872.6 L1540.6,869.2 L1541.3,870.4 L1542.1,872.0 L1542.8,878.6 L1543.6,869.5 L1544.4,873.2 L1545.1,877.4 L1545.9,867.9 L1546.6,864.7 L1547.4,872.7 L1548.2,868.6 L1548.9,866.4 L1549.7,866.3 L1550.4,859.9 L1551.2,876.0 L1552.0,857.3 L1552.7,858.9 L1553.5,854.2 L1554.2,859.2 L1555.0,869.2 L1555.8,864.6 L1556.5,869.8 L1557.3,867.9 L1558.0,881.1 L1558.8,876.1 L1559.6,871.5 L1560.3,881.5 L1561.1,876.5 L1561.8,880.1 L1562.6,867.0 L1563.4,875.4 L1564.1,861.6 L1564.9,866.1 L1565.6,861.8 L1566.4,871.9 L1567.2,866.5 L1567.9,868.4 L1568.7,865.5 L1569.4,859.3 L1570.2,863.8 L1571.0,877.1 L1571.7,868.9 L1572.5,872.4 L1573.2,869.1 L1574.0,874.5 L1574.8,875.8 L1575.5,876.5 L1576.3,876.6 L1577.0,873.3 L1577.8,873.0 L1578.6,875.3 L1579.3,877.4 L1580.1,876.5 L1580.8,886.5 L1581.6,881.5 L1582.4,883.1 L1583.1,880.8 L1583.9,889.3 L1584.6,880.2 L1585.4,877.2 L1586.2,879.3 L1586.9,885.6 L1587.7,876.8 L1588.4,887.1 L1589.2,880.8 L1590.0,874.2 L1590.7,880.3 L1591.5,890.0 L1592.2,878.8 L1593.0,877.3 L1593.8,885.9 L1594.5,889.6 L1595.3,888.3 L1596.0,882.2 L1596.8,884.7 L1597.6,885.6 L1598.3,889.7 L1599.1,894.2 L1599.8,883.5 L1600.6,888.7 L1601.4,879.4 L1602.1,881.2 L1602.9,892.8 L1603.6,869.6 L1604.4,872.9 L1605.2,864.9 L1605.9,872.3 L1606.7,865.2 L1607.4,869.0 L1608.2,870.0 L1609.0,871.5 L1609.7,877.2 L1610.5,885.6 L1611.2,899.2 L1612.0,879.9 L1612.8,889.0 L1613.5,886.8 L1614.3,882.3 L1615.0,887.2 L1615.8,879.6 L1616.6,882.6 L1617.3,889.1 L1618.1,871.5 L1618.8,849.6 L1619.6,886.4 L1620.4,879.7 L1621.1,888.8 L1621.9,888.6 L1622.6,885.1 L1623.4,893.6 L1624.2,879.2 L1624.9,888.8 L1625.7,882.6 L1626.4,876.4 L1627.2,879.7 L1628.0,877.4 L1628.7,883.1 L1629.5,870.4 L1630.2,878.3 L1631.0,878.1 L1631.8,872.6 L1632.5,877.2 L1633.3,889.8 L1634.0,874.0 L1634.8,884.5 L1635.6,880.2 L1636.3,881.4 L1637.1,874.1 L1637.8,866.5 L1638.6,868.8 L1639.4,893.2 L1640.1,874.2 L1640.9,875.2 L1641.6,874.6 L1642.4,878.9 L1643.2,880.8 L1643.9,880.5 L1644.7,896.2 L1645.4,903.2 L1646.2,889.6 L1647.0,898.5 L1647.7,903.5 L1648.5,921.8 L1649.2,884.3 L1650.0,896.4 L1650.8,896.5 L1651.5,911.4 L1652.3,889.5 L1653.0,886.1 L1653.8,887.5 L1654.6,879.6 L1655.3,885.1 L1656.1,879.8 L1656.8,886.8 L1657.6,884.4 L1658.4,881.3 L1659.1,875.0 L1659.9,891.0 L1660.6,886.9 L1661.4,884.5 L1662.2,874.9 L1662.9,875.7 L1663.7,886.3 L1664.4,881.4 L1665.2,873.5 L1666.0,880.2 L1666.7,883.2 L1667.5,884.3 L1668.2,883.7 L1669.0,899.5 L1669.8,900.3 L1670.5,885.1 L1671.3,893.8 L1672.0,901.1 L1672.8,905.0 L1673.6,909.3 L1674.3,900.8 L1675.1,906.2 L1675.8,897.7 L1676.6,889.5 L1677.4,875.2 L1678.1,881.7 L1678.9,878.3 L1679.6,884.7 L1680.4,887.0 L1681.2,926.8 L1681.9,885.2 L1682.7,881.1 L1683.4,903.3 L1684.2,895.7 L1685.0,896.8 L1685.7,901.8 L1686.5,901.0 L1687.2,917.1 L1688.0,920.0 L1688.8,929.9 L1689.5,929.3 L1690.3,929.1 L1691.0,931.6 L1691.8,923.5 L1692.6,923.3 L1693.3,926.7 L1694.1,922.0 L1694.8,920.5 L1695.6,962.5 L1696.4,934.7 L1697.1,930.5 L1697.9,919.5 L1698.6,929.5 L1699.4,917.8 L1700.2,917.5 L1700.9,922.4 L1701.7,925.6 L1702.4,917.1 L1703.2,920.4 L1704.0,923.1 L1704.7,915.2 L1705.5,924.2 L1706.2,925.5 L1707.0,934.1 L1707.8,925.2 L1708.5,931.7 L1709.3,925.1 L1710.0,928.2 L1710.8,929.2 L1711.6,923.8 L1712.3,929.6 L1713.1,925.4 L1713.8,917.1 L1714.6,955.5 L1715.4,926.2 L1716.1,925.2 L1716.9,916.3 L1717.6,920.8 L1718.4,923.7 L1719.2,914.8 L1719.9,936.1 L1720.7,933.6 L1721.4,905.2 L1722.2,907.7 L1723.0,902.1 L1723.7,910.1 L1724.5,904.6 L1725.2,937.0 L1726.0,906.0 L1726.8,905.2 L1727.5,906.7 L1728.3,916.2 L1729.0,896.5 L1729.8,899.5 L1730.6,899.1 L1731.3,908.1 L1732.1,907.6 L1732.8,923.1 L1733.6,915.9 L1734.4,910.0 L1735.1,914.7 L1735.9,918.1 L1736.6,912.7 L1737.4,901.0 L1738.2,910.8 L1738.9,910.1 L1739.7,921.0 L1740.4,930.0 L1741.2,917.2 L1742.0,912.7 L1742.7,915.6 L1743.5,910.7 L1744.2,915.3 L1745.0,922.3 L1745.8,917.6 L1746.5,923.1 L1747.3,916.2 L1748.0,913.1 L1748.8,912.8 L1749.6,947.5 L1750.3,912.0 L1751.1,920.9 L1751.8,919.5 L1752.6,909.1 L1753.4,921.6 L1754.1,934.6 L1754.9,934.0 L1755.6,907.3 L1756.4,936.9 L1757.2,924.3 L1757.9,929.0 L1758.7,905.7 L1759.4,911.7 L1760.2,913.2 L1761.0,896.7 L1761.7,890.5 L1762.5,892.4 L1763.2,899.5 L1764.0,904.4 L1764.8,912.4 L1765.5,906.5 L1766.3,890.7 L1767.0,886.9 L1767.8,901.1 L1768.6,907.0 L1769.3,893.6 L1770.1,901.4 L1770.8,904.3 L1771.6,910.0 L1772.4,912.3 L1773.1,919.9 L1773.9,926.6 L1774.6,924.6 L1775.4,931.4 L1776.2,940.6 L1776.9,925.7 L1777.7,926.5 L1778.4,935.5 L1779.2,942.9 L1780.0,933.5 L1780.7,938.3 L1781.5,929.9 L1782.2,935.2 L1783.0,924.5 L1783.8,928.5 L1784.5,948.5 L1785.3,920.0 L1786.0,922.9 L1786.8,920.1 L1787.6,911.5 L1788.3,921.7 L1789.1,910.5 L1789.8,919.8 L1790.6,941.7 L1791.4,932.1 L1792.1,933.5 L1792.9,932.2 L1793.6,939.0 L1794.4,926.0 L1795.2,927.9 L1795.9,922.9 L1796.7,920.4 L1797.4,922.3 L1798.2,920.8 L1799.0,929.2 L1799.7,932.3 L1800.5,921.2 L1801.2,910.1 L1802.0,923.6 L1802.8,915.2 L1803.5,914.0 L1804.3,914.5 L1805.0,904.1 L1805.8,892.2 L1806.6,908.3 L1807.3,911.6 L1808.1,917.9 L1808.8,910.8 L1809.6,916.2 L1810.4,922.4 L1811.1,928.8 L1811.9,913.6 L1812.6,910.2 L1813.4,920.7 L1814.2,935.0 L1814.9,920.7 L1815.7,925.2 L1816.4,922.3 L1817.2,919.5 L1818.0,925.9 L1818.7,928.1 L1819.5,947.0 L1820.2,925.1 L1821.0,919.0 L1821.8,925.7 L1822.5,912.7 L1823.3,920.6 L1824.0,923.0 L1824.8,922.9 L1825.6,912.7 L1826.3,909.5 L1827.1,925.2 L1827.8,911.4 L1828.6,903.7 L1829.4,886.2 L1830.1,912.6 L1830.9,920.9 L1831.6,917.6 L1832.4,928.5 L1833.2,920.8 L1833.9,934.9 L1834.7,943.1 L1835.4,940.6 L1836.2,948.7 L1837.0,948.4 L1837.7,949.7 L1838.5,958.6 L1839.2,951.7 L1840.0,957.4 L1840.8,952.9 L1841.5,956.7 L1842.3,953.5 L1843.0,960.9 L1843.8,953.0 L1844.6,950.0 L1845.3,951.6 L1846.1,929.1 L1846.8,1013.0 L1847.6,925.0 L1848.4,940.1 L1849.1,943.5 L1849.9,945.9 L1850.6,963.5 L1851.4,946.0 L1852.2,951.7 L1852.9,955.0 L1853.7,900.8 L1854.4,931.7 L1855.2,938.5 L1856.0,932.3 L1856.7,931.6 L1857.5,934.7 L1858.2,934.7 L1859.0,929.4 L1859.8,941.7 L1860.5,932.9 L1861.3,932.2 L1862.0,942.1 L1862.8,943.1 L1863.6,933.8 L1864.3,942.4 L1865.1,944.8 L1865.8,940.6 L1866.6,933.5 L1867.4,945.6 L1868.1,935.6 L1868.9,941.1 L1869.6,950.2 L1870.4,948.7 L1871.2,980.3 L1871.9,940.2 L1872.7,951.1 L1873.4,968.5 L1874.2,999.1 L1875.0,966.6 L1875.7,953.7 L1876.5,1010.2 L1877.2,946.8 L1878.0,969.1 L1878.4,1000.7 L1878.8,946.4 L1879.1,947.2 L1879.5,970.2 L1879.9,940.4 L1880.3,949.0 L1880.7,903.4 L1881.0,925.2 L1881.4,890.9 L1881.8,881.7 L1882.2,981.7 L1882.6,942.0 L1882.9,960.2 L1883.3,903.6 L1883.7,937.9 L1884.1,936.2 L1884.5,920.3 L1884.8,967.8 L1885.2,930.5 L1885.6,950.5 L1886.0,911.0 L1886.4,994.0 L1886.7,1045.0 L1887.1,977.4 L1887.5,936.8 L1887.9,1100.0 L1888.3,1010.4 L1888.6,965.8 L1889.0,987.6 L1889.4,988.1 L1889.8,951.8 L1890.2,1149.0 L1890.5,930.5 L1890.9,999.2 L1891.3,925.0 L1891.7,943.6 L1892.1,1003.8 L1892.4,1005.2 L1892.8,1120.0 L1893.2,948.0 L1893.6,981.5 L1894.0,995.3 L1894.3,959.2 L1894.7,1002.0 L1895.1,969.5 L1895.5,963.6 L1895.9,1036.1 L1896.2,915.9 L1896.6,921.8 L1897.0,1045.1 L1897.4,961.5 L1897.8,997.9 L1898.1,990.7 L1898.5,899.9 L1898.9,1002.2 L1899.3,958.0 L1899.7,958.6 L1900.0,930.0 L1900.4,1004.7 L1900.8,961.1 L1901.2,964.9 L1901.6,980.3 L1901.9,980.0 L1902.3,960.4 L1902.7,925.0 L1903.1,1055.1 L1903.5,938.9 L1903.8,949.6 L1904.2,951.4 L1904.6,876.6 L1905.0,1015.0 L1905.4,942.2 L1905.7,927.7 L1906.1,881.5 L1906.5,951.5 L1906.9,922.6 L1907.3,937.3 L1907.6,961.7 L1908.0,1000.4 L1908.4,951.7 L1908.8,936.4 L1909.2,1011.9 L1909.5,978.2 L1909.9,1002.6 L1910.3,1047.0 L1910.7,978.6 L1911.1,970.3 L1911.4,988.0 L1911.8,1059.0 L1912.2,993.0 L1912.6,1009.6 L1913.0,968.9 L1913.3,967.5 L1913.7,1001.4 L1914.1,979.5 L1914.5,1073.2 L1914.9,1010.7 L1915.2,989.2 L1915.6,993.5 L1916.0,958.8 L1916.4,957.3 L1916.8,994.1 L1917.1,889.4 L1917.5,962.1 L1917.9,1051.0 L1918.3,884.4 L1918.7,995.6 L1919.0,890.5 L1919.4,963.9 L1919.8,1009.2 L1920.2,1007.8 L1920.6,930.8 L1920.9,918.8 L1921.3,914.4 L1921.7,985.6 L1922.1,949.1 L1922.5,963.2 L1922.8,973.5 L1923.2,990.6 L1923.6,989.2 L1924.0,979.8 L1924.4,927.2 L1924.7,1033.2 L1925.1,897.9 L1925.5,1030.9 L1925.9,973.6 L1926.3,986.9 L1926.6,974.3 L1927.0,975.9 L1927.4,982.7 L1927.8,968.7 L1928.2,935.8 L1928.5,995.1 L1928.9,943.0 L1929.3,1003.6 L1929.7,952.0 L1930.1,933.1 L1930.4,978.8 L1930.8,987.8 L1931.2,928.9 L1931.6,951.2 L1932.0,1039.0 L1932.3,928.0 L1932.7,932.8 L1933.1,966.4 L1933.5,920.2 L1933.9,878.6 L1934.2,905.8 L1934.6,974.9 L1935.0,985.8 L1935.4,985.6 L1935.8,980.7 L1936.1,928.1 L1936.5,992.9 L1936.9,1008.8 L1937.3,946.4 L1937.7,1000.3 L1938.0,955.7 L1938.4,974.1 L1938.8,980.4 L1939.2,919.1 L1939.6,1018.9 L1939.9,1008.8 L1940.3,892.5 L1940.7,989.8 L1941.1,982.5 L1941.5,1041.2 L1941.8,882.5 L1942.2,1006.2 L1942.6,1028.8 L1943.0,942.0 L1943.4,858.5 L1943.7,946.6 L1944.1,1200.0 L1944.5,981.5 L1944.9,933.0 L1945.3,987.9 L1945.6,1001.2 L1946.0,1287.0 L1946.4,1038.3 L1946.8,946.2 L1947.2,980.2 L1947.5,878.8 L1947.9,1230.0 L1948.3,991.0 L1948.7,1015.6 L1949.1,979.5 L1949.4,1032.8 L1949.8,961.8 L1950.2,1076.8 L1950.6,1086.5 L1951.0,1026.3 L1951.3,1019.7 L1951.7,985.9 L1952.1,967.6 L1952.5,1051.4 L1952.9,961.4 L1953.2,982.8 L1953.6,960.6 L1954.0,990.3 L1954.4,954.8 L1954.8,995.0 L1955.1,905.5 L1955.5,946.8 L1955.9,1048.0 L1956.3,952.9 L1956.7,924.4 L1957.0,969.5 L1957.4,958.2 L1957.8,979.7 L1958.2,866.8 L1958.6,947.4 L1958.9,899.3 L1959.3,912.6 L1959.7,957.4 L1960.1,983.9 L1960.5,892.6 L1960.8,905.2" fill="none" stroke="#000" stroke-width="4.2" stroke-linejoin="miter" stroke-miterlimit="2" stroke-dasharray="27 29" stroke-dashoffset="20.88"/>
<path d="M301.0,272.0 L301.8,272.1 L302.5,271.9 L303.3,271.8 L304.0,271.8 L304.8,271.3 L305.6,271.3 L306.3,271.1 L307.1,271.1 L307.8,271.2 L308.6,270.9 L309.4,270.9 L310.1,270.5 L310.9,270.7 L311.6,270.4 L312.4,270.7 L313.2,270.5 L313.9,270.4 L314.7,270.1 L315.4,270.1 L316.2,270.0 L317.0,269.7 L317.7,269.6 L318.5,269.6 L319.2,269.4 L320.0,269.3 L320.8,269.2 L321.5,269.1 L322.3,269.2 L323.0,268.7 L323.8,269.0 L324.6,268.7 L325.3,268.6 L326.1,268.3 L326.8,268.4 L327.6,268.3 L328.4,268.3 L329.1,268.0 L329.9,268.0 L330.6,268.2 L331.4,268.0 L332.2,267.8 L332.9,267.9 L333.7,267.7 L334.4,267.8 L335.2,267.7 L336.0,267.5 L336.7,267.3 L337.5,267.4 L338.2,267.5 L339.0,267.3 L339.8,267.4 L340.5,267.4 L341.3,267.2 L342.0,267.4 L342.8,267.4 L343.6,267.3 L344.3,267.2 L345.1,267.2 L345.8,267.3 L346.6,266.9 L347.4,266.8 L348.1,266.9 L348.9,266.6 L349.6,266.5 L350.4,266.5 L351.2,266.6 L351.9,266.6 L352.7,266.3 L353.4,266.2 L354.2,266.3 L355.0,266.3 L355.7,266.3 L356.5,266.3 L357.2,266.4 L358.0,266.2 L358.8,266.2 L359.5,265.9 L360.3,265.8 L361.0,266.0 L361.8,266.1 L362.6,266.1 L363.3,266.1 L364.1,266.1 L364.8,266.1 L365.6,265.7 L366.4,265.9 L367.1,266.1 L367.9,266.1 L368.6,265.8 L369.4,266.2 L370.2,265.9 L370.9,266.0 L371.7,266.0 L372.4,266.1 L373.2,265.8 L374.0,266.1 L374.7,266.0 L375.5,265.9 L376.2,266.0 L377.0,265.7 L377.8,265.9 L378.5,266.0 L379.3,265.9 L380.0,266.0 L380.8,266.0 L381.6,266.0 L382.3,266.2 L383.1,266.0 L383.8,266.0 L384.6,266.1 L385.4,266.3 L386.1,265.9 L386.9,266.1 L387.6,265.8 L388.4,266.2 L389.2,266.1 L389.9,266.2 L390.7,266.0 L391.4,265.8 L392.2,266.1 L393.0,266.1 L393.7,265.9 L394.5,265.8 L395.2,266.1 L396.0,266.0 L396.8,266.4 L397.5,265.9 L398.3,265.9 L399.0,266.0 L399.8,265.8 L400.6,265.9 L401.3,266.2 L402.1,266.0 L402.8,265.9 L403.6,265.8 L404.4,266.1 L405.1,266.1 L405.9,266.0 L406.6,265.9 L407.4,266.0 L408.2,266.1 L408.9,265.9 L409.7,266.1 L410.4,265.7 L411.2,265.8 L412.0,266.0 L412.7,266.0 L413.5,265.8 L414.2,266.0 L415.0,266.2 L415.8,266.1 L416.5,266.0 L417.3,266.1 L418.0,266.1 L418.8,265.8 L419.6,266.0 L420.3,266.2 L421.1,266.0 L421.8,266.3 L422.6,266.4 L423.4,266.4 L424.1,266.5 L424.9,266.8 L425.6,266.9 L426.4,267.1 L427.2,266.9 L427.9,267.2 L428.7,267.4 L429.4,267.7 L430.2,267.7 L431.0,267.9 L431.7,268.0 L432.5,268.1 L433.2,268.0 L434.0,268.2 L434.8,268.3 L435.5,268.1 L436.3,268.4 L437.0,269.0 L437.8,268.7 L438.6,268.6 L439.3,269.0 L440.1,269.4 L440.8,269.3 L441.6,269.5 L442.4,269.5 L443.1,269.7 L443.9,270.0 L444.6,270.1 L445.4,270.0 L446.2,270.2 L446.9,270.3 L447.7,270.2 L448.4,270.3 L449.2,270.4 L450.0,270.3 L450.7,270.7 L451.5,270.6 L452.2,270.6 L453.0,270.5 L453.8,270.6 L454.5,271.1 L455.3,270.7 L456.0,271.0 L456.8,271.0 L457.6,271.2 L458.3,271.3 L459.1,271.1 L459.8,271.3 L460.6,271.4 L461.4,271.5 L462.1,271.5 L462.9,271.5 L463.6,271.8 L464.4,271.9 L465.2,271.9 L465.9,271.7 L466.7,272.0 L467.4,272.0 L468.2,272.1 L469.0,272.4 L469.7,272.2 L470.5,272.3 L471.2,272.2 L472.0,272.4 L472.8,272.4 L473.5,272.8 L474.3,272.6 L475.0,272.6 L475.8,273.0 L476.6,272.6 L477.3,273.0 L478.1,273.1 L478.8,273.1 L479.6,273.0 L480.4,273.1" fill="none" stroke="#0000ff" stroke-width="4.2" stroke-linejoin="miter" stroke-miterlimit="2" stroke-dasharray="27 29" stroke-dashoffset="52.25"/>
<path d="M480.4,273.1 L481.1,273.2 L481.9,273.4 L482.6,273.0 L483.4,273.3 L484.2,273.5 L484.9,273.5 L485.7,273.3 L486.4,273.6 L487.2,273.6 L488.0,273.9 L488.7,274.1 L489.5,274.0 L490.2,273.7 L491.0,274.1 L491.8,274.1 L492.5,274.5 L493.3,274.8 L494.0,274.7 L494.8,275.0 L495.6,275.1 L496.3,275.1 L497.1,274.9 L497.8,275.2 L498.6,275.1 L499.4,275.6 L500.1,275.6 L500.9,275.9 L501.6,275.8 L502.4,275.6 L503.2,276.1 L503.9,276.3 L504.7,276.5 L505.4,276.2 L506.2,276.3 L507.0,276.6 L507.7,276.6 L508.5,276.6 L509.2,276.8 L510.0,277.5 L510.8,277.1 L511.5,277.1 L512.3,277.3 L513.0,277.5 L513.8,277.8 L514.6,277.9 L515.3,278.0 L516.1,278.0 L516.8,278.1 L517.6,278.1 L518.4,278.1 L519.1,278.8 L519.9,278.5 L520.6,278.8 L521.4,278.7 L522.2,278.9 L522.9,279.0 L523.7,278.9 L524.4,279.2 L525.2,279.4 L526.0,279.6 L526.7,279.7 L527.5,279.9 L528.2,279.9 L529.0,279.9 L529.8,279.8 L530.5,280.1 L531.3,280.5 L532.0,280.4 L532.8,280.6 L533.6,280.6 L534.3,280.7 L535.1,281.2 L535.8,281.0 L536.6,281.5 L537.4,281.8 L538.1,282.0 L538.9,282.1 L539.6,282.8 L540.4,283.0 L541.2,283.3 L541.9,284.2 L542.7,284.5 L543.4,284.8 L544.2,285.1 L545.0,285.5 L545.7,285.9 L546.5,286.3 L547.2,286.6 L548.0,287.1 L548.8,287.0 L549.5,287.9 L550.3,288.1 L551.0,288.7 L551.8,289.1 L552.6,289.2 L553.3,289.8 L554.1,290.2 L554.8,290.3 L555.6,290.7 L556.4,291.1 L557.1,291.0 L557.9,291.5 L558.6,291.8 L559.4,291.9 L560.2,291.9 L560.9,292.3 L561.7,292.8 L562.4,293.0 L563.2,293.0 L564.0,293.1 L564.7,293.5 L565.5,293.7 L566.2,293.8 L567.0,294.0 L567.8,294.4 L568.5,294.7 L569.3,294.4 L570.0,295.1 L570.8,295.2 L571.6,295.5 L572.3,295.6 L573.1,295.9 L573.8,296.3 L574.6,295.8 L575.4,296.7 L576.1,296.7 L576.9,296.6 L577.6,296.7 L578.4,297.3 L579.2,297.4 L579.9,297.9 L580.7,298.0 L581.4,298.1 L582.2,298.5 L583.0,298.6 L583.7,298.9 L584.5,299.1 L585.2,299.3 L586.0,299.6 L586.8,299.8 L587.5,299.7 L588.3,300.1 L589.0,300.4 L589.8,300.7 L590.6,300.9 L591.3,301.3 L592.1,301.8 L592.8,302.1 L593.6,302.6 L594.4,302.6 L595.1,303.0 L595.9,303.3 L596.6,303.7 L597.4,303.9 L598.2,304.1 L598.9,304.7 L599.7,305.2 L600.4,305.5 L601.2,305.5 L602.0,306.0 L602.7,306.6 L603.5,306.6 L604.2,307.0 L605.0,307.3 L605.8,307.8 L606.5,308.1 L607.3,308.6 L608.0,308.7 L608.8,309.0 L609.6,309.1 L610.3,309.6 L611.1,309.9 L611.8,310.3 L612.6,310.5 L613.4,311.2 L614.1,311.2 L614.9,311.8 L615.6,311.9 L616.4,312.5 L617.2,313.0 L617.9,313.0 L618.7,313.5 L619.4,313.8 L620.2,314.2 L621.0,314.6 L621.7,314.8 L622.5,315.2 L623.2,315.5 L624.0,315.8 L624.8,316.1 L625.5,316.8 L626.3,316.9 L627.0,317.5 L627.8,317.8 L628.6,317.9 L629.3,318.6 L630.1,318.7 L630.8,319.2 L631.6,319.7 L632.4,319.7 L633.1,320.1 L633.9,320.4 L634.6,321.2 L635.4,321.2 L636.2,321.4 L636.9,322.1 L637.7,322.3 L638.4,322.8 L639.2,323.0 L640.0,323.3 L640.7,323.9 L641.5,324.3 L642.2,324.6 L643.0,325.1 L643.8,325.5 L644.5,326.2 L645.3,326.6 L646.0,327.0 L646.8,327.2 L647.6,327.5 L648.3,328.2 L649.1,328.6 L649.8,329.1 L650.6,329.4 L651.4,329.8 L652.1,330.2 L652.9,330.5 L653.6,330.9 L654.4,331.5 L655.2,331.6 L655.9,332.2 L656.7,332.8 L657.4,333.1 L658.2,333.5 L659.0,333.7 L659.7,334.3 L660.5,334.7 L661.2,335.2 L662.0,335.5 L662.8,335.8 L663.5,336.4 L664.3,336.5 L665.0,336.7 L665.8,337.0 L666.6,337.4 L667.3,337.6 L668.1,338.3 L668.8,338.5 L669.6,338.7 L670.4,338.9 L671.1,339.2 L671.9,339.6 L672.6,340.2 L673.4,340.5 L674.2,340.6 L674.9,341.0 L675.7,341.0 L676.4,341.8 L677.2,341.9 L678.0,342.5 L678.7,342.6 L679.5,342.9 L680.2,343.3 L681.0,343.5 L681.8,344.1 L682.5,344.3 L683.3,344.6 L684.0,345.0 L684.8,345.2 L685.6,345.6 L686.3,345.9 L687.1,346.5 L687.8,346.5 L688.6,346.8 L689.4,346.8 L690.1,346.9 L690.9,347.0 L691.6,347.4 L692.4,347.3 L693.2,347.6 L693.9,347.5 L694.7,347.6 L695.4,347.5 L696.2,348.0 L697.0,348.4 L697.7,348.1 L698.5,348.5 L699.2,348.5 L700.0,348.4 L700.8,348.8 L701.5,348.6 L702.3,348.9 L703.0,349.2 L703.8,349.2 L704.6,349.1 L705.3,349.6 L706.1,348.6 L706.8,348.7 L707.6,348.4 L708.4,347.5 L709.1,344.6 L709.9,341.5 L710.6,346.1 L711.4,340.0 L712.2,338.3 L712.9,334.9 L713.7,340.2 L714.4,342.2 L715.2,341.6 L716.0,343.7 L716.7,339.9 L717.5,336.6 L718.2,335.0 L719.0,330.8 L719.8,334.1 L720.5,341.5 L721.3,332.9 L722.0,335.9 L722.8,340.6 L723.6,344.9 L724.3,337.8 L725.1,331.8 L725.8,340.3 L726.6,338.2 L727.4,335.0 L728.1,337.8 L728.9,335.0 L729.6,333.3 L730.4,336.8 L731.2,335.1 L731.9,332.6 L732.7,334.6 L733.4,333.7 L734.2,337.4 L735.0,335.8 L735.7,335.0 L736.5,338.3 L737.2,337.9 L738.0,342.6 L738.8,338.2 L739.5,335.9 L740.3,328.5 L741.0,337.0 L741.8,337.6 L742.6,335.4 L743.3,334.3 L744.1,336.8 L744.8,337.2 L745.6,335.6 L746.4,325.9 L747.1,341.0 L747.9,338.1 L748.6,340.0 L749.4,341.7 L750.2,342.5 L750.9,357.5 L751.7,338.7 L752.4,341.7 L753.2,341.8 L754.0,343.5 L754.7,339.7 L755.5,339.7 L756.2,339.9 L757.0,346.4 L757.8,350.1 L758.5,347.7 L759.3,352.2 L760.0,354.9 L760.8,356.7 L761.6,355.1 L762.3,358.8 L763.1,358.4 L763.8,357.2 L764.6,360.6 L765.4,361.2 L766.1,358.6 L766.9,362.0 L767.6,366.0 L768.4,358.8 L769.2,364.7 L769.9,366.3 L770.7,365.6 L771.4,367.3 L772.2,364.0 L773.0,370.7 L773.7,365.3 L774.5,366.5 L775.2,357.3 L776.0,365.4 L776.8,364.3 L777.5,358.8 L778.3,360.3 L779.0,363.5 L779.8,360.6 L780.6,361.2 L781.3,359.4 L782.1,367.1 L782.8,371.9 L783.6,367.3 L784.4,369.7 L785.1,369.6 L785.9,367.9 L786.6,367.6 L787.4,366.7 L788.2,363.7 L788.9,370.8 L789.7,371.0 L790.4,365.5 L791.2,369.1 L792.0,363.5 L792.7,365.3 L793.5,368.9 L794.2,364.1 L795.0,364.2 L795.8,368.5 L796.5,363.7 L797.3,372.8 L798.0,371.1 L798.8,370.4 L799.6,371.6 L800.3,368.1 L801.1,367.8 L801.8,371.5 L802.6,371.3 L803.4,369.1 L804.1,368.3 L804.9,367.0 L805.6,349.8 L806.4,365.0 L807.2,366.9 L807.9,368.4 L808.7,367.3 L809.4,367.4 L810.2,371.7 L811.0,378.2 L811.7,381.6 L812.5,379.3 L813.2,375.4 L814.0,377.6 L814.8,378.2 L815.5,377.0 L816.3,375.6 L817.0,376.6 L817.8,369.8 L818.6,372.1 L819.3,373.3 L820.1,374.2 L820.8,373.2 L821.6,372.9 L822.4,373.4 L823.1,373.3 L823.9,376.6 L824.6,398.3 L825.4,378.6 L826.2,385.1 L826.9,387.0 L827.7,385.1 L828.4,388.9 L829.2,391.4 L830.0,390.2 L830.7,390.5 L831.5,391.7 L832.2,386.9 L833.0,387.3 L833.8,391.8 L834.5,391.2 L835.3,393.7 L836.0,389.5 L836.8,393.4 L837.6,393.5 L838.3,395.7 L839.1,389.3 L839.8,390.2 L840.6,391.4 L841.4,391.1 L842.1,388.2 L842.9,389.6 L843.6,392.7 L844.4,399.0 L845.2,395.5 L845.9,397.8 L846.7,398.4 L847.4,401.4 L848.2,396.1 L849.0,401.8 L849.7,402.6 L850.5,407.8 L851.2,405.0 L852.0,400.8 L852.8,402.2 L853.5,398.6 L854.3,401.6 L855.0,404.0 L855.8,402.0 L856.6,402.3 L857.3,403.8 L858.1,403.3 L858.8,407.8 L859.6,414.8 L860.4,409.1 L861.1,407.9 L861.9,414.8 L862.6,426.1 L863.4,416.3 L864.2,410.9 L864.9,409.9 L865.7,403.3 L866.4,399.2 L867.2,401.0 L868.0,402.5 L868.7,399.5 L869.5,399.5 L870.2,404.3 L871.0,407.5 L871.8,410.5 L872.5,413.6 L873.3,417.6 L874.0,416.9 L874.8,416.4 L875.6,415.2 L876.3,419.7 L877.1,413.8 L877.8,420.7 L878.6,416.9 L879.4,401.2 L880.1,416.9 L880.9,415.8 L881.6,409.2 L882.4,412.4 L883.2,416.7 L883.9,416.5 L884.7,418.9 L885.4,414.2 L886.2,415.2 L887.0,421.9 L887.7,418.9 L888.5,414.7 L889.2,400.5 L890.0,417.9 L890.8,418.9 L891.5,418.1 L892.3,423.5 L893.0,411.3 L893.8,421.0 L894.6,420.2 L895.3,414.9 L896.1,417.6 L896.8,421.3 L897.6,416.1 L898.4,401.3 L899.1,421.0 L899.9,423.8 L900.6,425.2 L901.4,424.3 L902.2,426.3 L902.9,427.9 L903.7,426.3 L904.4,426.9 L905.2,444.7 L906.0,426.3 L906.7,429.7 L907.5,429.1 L908.2,424.2 L909.0,427.1 L909.8,422.0 L910.5,425.6 L911.3,422.4 L912.0,424.6 L912.8,423.8 L913.6,420.7 L914.3,428.3 L915.1,414.7 L915.8,420.8 L916.6,426.4 L917.4,425.3 L918.1,431.8 L918.9,427.0 L919.6,428.2 L920.4,426.9 L921.2,429.0 L921.9,426.6 L922.7,426.4 L923.4,428.2 L924.2,429.4 L925.0,432.9 L925.7,432.4 L926.5,431.6 L927.2,431.6 L928.0,429.8 L928.8,431.3 L929.5,421.0 L930.3,428.5 L931.0,431.7 L931.8,439.1 L932.6,444.2 L933.3,432.4 L934.1,432.2 L934.8,434.8 L935.6,440.5 L936.4,439.3 L937.1,447.3 L937.9,445.1 L938.6,460.8 L939.4,443.0 L940.2,443.2 L940.9,437.2 L941.7,439.2 L942.4,442.0 L943.2,440.0 L944.0,436.7 L944.7,438.6 L945.5,438.2 L946.2,436.0 L947.0,436.9 L947.8,438.1 L948.5,436.3 L949.3,433.8 L950.0,434.4 L950.8,434.8 L951.6,430.9 L952.3,460.6 L953.1,436.8 L953.8,433.5 L954.6,436.6 L955.4,447.1 L956.1,444.7 L956.9,449.1 L957.6,445.6 L958.4,450.5 L959.2,447.8 L959.9,444.1 L960.7,445.7 L961.4,448.1 L962.2,449.5 L963.0,444.5 L963.7,441.9 L964.5,440.7 L965.2,444.4 L966.0,445.3 L966.8,442.9 L967.5,442.3 L968.3,444.8 L969.0,444.3 L969.8,444.8 L970.6,441.0 L971.3,445.2 L972.1,452.1 L972.8,449.1 L973.6,456.8 L974.4,453.6 L975.1,453.6 L975.9,456.5 L976.6,458.4 L977.4,455.9 L978.2,458.7 L978.9,457.4 L979.7,462.4 L980.4,458.2 L981.2,460.3 L982.0,457.1 L982.7,458.2 L983.5,462.0 L984.2,460.4 L985.0,462.1 L985.8,463.6 L986.5,464.6 L987.3,459.8 L988.0,463.1 L988.8,465.4 L989.6,462.3 L990.3,460.9 L991.1,462.5 L991.8,465.1 L992.6,464.0 L993.4,467.7 L994.1,462.9 L994.9,458.8 L995.6,460.2 L996.4,463.3 L997.2,464.2 L997.9,468.3 L998.7,464.8 L999.4,466.0 L1000.2,461.7 L1001.0,461.0 L1001.7,465.5 L1002.5,466.0 L1003.2,465.6 L1004.0,465.9 L1004.8,459.6 L1005.5,470.9 L1006.3,463.2 L1007.0,469.4 L1007.8,468.8 L1008.6,452.3 L1009.3,459.4 L1010.1,463.1 L1010.8,473.2 L1011.6,480.4 L1012.4,457.1 L1013.1,497.2 L1013.9,465.2 L1014.6,466.7 L1015.4,462.9 L1016.2,465.7 L1016.9,465.3 L1017.7,460.7 L1018.4,462.8 L1019.2,455.7 L1020.0,452.3 L1020.7,453.9 L1021.5,448.7 L1022.2,448.7 L1023.0,457.8 L1023.8,454.3 L1024.5,443.9 L1025.3,450.0 L1026.0,454.5 L1026.8,457.3 L1027.6,457.9 L1028.3,461.6 L1029.1,458.1 L1029.8,460.4 L1030.6,461.6 L1031.4,471.7 L1032.1,473.3 L1032.9,481.3 L1033.6,480.0 L1034.4,470.9 L1035.2,467.6 L1035.9,467.3 L1036.7,468.5 L1037.4,484.5 L1038.2,463.7 L1039.0,460.4 L1039.7,471.9 L1040.5,479.5 L1041.2,482.0 L1042.0,489.5 L1042.8,482.3 L1043.5,480.7 L1044.3,482.5 L1045.0,476.4 L1045.8,479.0 L1046.6,488.7 L1047.3,492.3 L1048.1,487.4 L1048.8,482.5 L1049.6,480.7 L1050.4,485.0 L1051.1,475.1 L1051.9,490.4 L1052.6,492.8 L1053.4,488.5 L1054.2,489.4 L1054.9,479.4 L1055.7,492.1 L1056.4,490.9 L1057.2,470.2 L1058.0,481.7 L1058.7,487.2 L1059.5,495.8 L1060.2,484.2 L1061.0,491.8 L1061.8,503.4 L1062.5,500.9 L1063.3,499.6 L1064.0,500.0 L1064.8,503.5 L1065.6,498.9 L1066.3,508.2 L1067.1,496.4 L1067.8,523.6 L1068.6,501.5 L1069.4,499.8 L1070.1,490.7 L1070.9,487.6 L1071.6,487.9 L1072.4,486.7 L1073.2,494.1 L1073.9,498.5 L1074.7,506.3 L1075.4,515.8 L1076.2,501.1 L1077.0,510.2 L1077.7,503.5 L1078.5,514.6 L1079.2,539.0 L1080.0,507.3 L1080.8,500.9 L1081.5,504.7 L1082.3,513.2 L1083.0,508.0 L1083.8,497.8 L1084.6,488.5 L1085.3,487.8 L1086.1,479.9 L1086.8,474.0 L1087.6,464.4 L1088.4,482.5 L1089.1,480.9 L1089.9,480.7 L1090.6,497.8 L1091.4,472.4 L1092.2,485.4 L1092.9,477.2 L1093.7,485.2 L1094.4,474.4 L1095.2,484.5 L1096.0,481.9 L1096.7,480.4 L1097.5,483.3 L1098.2,499.5 L1099.0,497.2 L1099.8,493.4 L1100.5,497.9 L1101.3,489.7 L1102.0,508.2 L1102.8,506.0 L1103.6,494.9 L1104.3,497.9 L1105.1,478.0 L1105.8,500.2 L1106.6,491.4 L1107.4,488.5 L1108.1,490.6 L1108.9,474.9 L1109.6,481.1 L1110.4,484.0 L1111.2,488.5 L1111.9,496.1 L1112.7,492.7 L1113.4,489.9 L1114.2,496.5 L1115.0,488.5 L1115.7,507.9 L1116.5,499.3 L1117.2,493.5 L1118.0,501.1 L1118.8,506.8 L1119.5,506.5 L1120.3,510.9 L1121.0,489.8 L1121.8,504.0 L1122.6,492.3 L1123.3,494.9 L1124.1,497.4 L1124.8,479.3 L1125.6,476.3 L1126.4,480.2 L1127.1,471.5 L1127.9,468.4 L1128.6,479.8 L1129.4,486.9 L1130.2,480.4 L1130.9,489.5 L1131.7,511.5 L1132.4,497.3 L1133.2,497.4 L1134.0,500.6 L1134.7,504.7 L1135.5,500.2 L1136.2,503.9 L1137.0,514.2 L1137.8,500.9 L1138.5,509.3 L1139.3,493.6 L1140.0,489.8 L1140.8,489.1 L1141.6,497.7 L1142.3,499.8 L1143.1,506.1 L1143.8,506.6 L1144.6,507.3 L1145.4,524.4 L1146.1,516.3 L1146.9,524.1 L1147.6,514.5 L1148.4,528.3 L1149.2,531.4 L1149.9,528.9 L1150.7,522.1 L1151.4,533.6 L1152.2,521.2 L1153.0,514.2 L1153.7,510.7 L1154.5,516.6 L1155.2,510.2 L1156.0,514.6 L1156.8,511.7 L1157.5,514.1 L1158.3,507.3 L1159.0,512.1 L1159.8,503.7 L1160.6,498.4 L1161.3,497.4 L1162.1,497.5 L1162.8,503.0 L1163.6,497.9 L1164.4,503.6 L1165.1,521.2 L1165.9,494.3 L1166.6,503.8 L1167.4,503.4 L1168.2,508.3 L1168.9,499.0 L1169.7,502.2 L1170.4,517.7 L1171.2,497.2 L1172.0,504.8 L1172.7,497.2 L1173.5,506.8 L1174.2,492.2 L1175.0,518.3 L1175.8,503.7 L1176.5,510.0 L1177.3,514.6 L1178.0,512.5 L1178.8,522.3 L1179.6,530.3 L1180.3,525.8 L1181.1,515.2 L1181.8,524.2 L1182.6,518.9 L1183.4,516.6 L1184.1,518.2 L1184.9,527.6 L1185.6,521.0 L1186.4,525.5 L1187.2,520.7 L1187.9,515.9 L1188.7,529.5 L1189.4,528.6 L1190.2,516.1 L1191.0,522.7 L1191.7,515.8 L1192.5,464.1 L1193.2,506.6 L1194.0,513.8 L1194.8,515.2 L1195.5,512.0 L1196.3,526.5 L1197.0,514.8 L1197.8,510.6 L1198.6,508.2 L1199.3,525.5 L1200.1,514.6 L1200.8,514.4 L1201.6,510.5 L1202.4,508.8 L1203.1,509.4 L1203.9,512.2 L1204.6,512.2 L1205.4,511.1 L1206.2,514.8 L1206.9,507.5 L1207.7,505.6 L1208.4,512.3 L1209.2,502.8 L1210.0,520.8 L1210.7,549.0 L1211.5,522.8 L1212.2,515.3 L1213.0,519.6 L1213.8,523.2 L1214.5,518.0 L1215.3,518.6 L1216.0,525.1 L1216.8,530.0 L1217.6,527.5 L1218.3,539.2 L1219.1,549.0 L1219.8,543.3 L1220.6,542.1 L1221.4,555.3 L1222.1,594.3 L1222.9,545.0 L1223.6,543.0 L1224.4,536.5 L1225.2,527.7 L1225.9,534.2 L1226.7,519.7 L1227.4,517.8 L1228.2,502.1 L1229.0,524.3 L1229.7,516.3 L1230.5,512.8 L1231.2,511.3 L1232.0,515.4 L1232.8,512.7 L1233.5,527.6 L1234.3,515.0 L1235.0,529.8 L1235.8,529.4 L1236.6,536.3 L1237.3,525.7 L1238.1,525.6 L1238.8,527.4 L1239.6,523.1 L1240.4,528.1 L1241.1,534.6 L1241.9,542.4 L1242.6,542.5 L1243.4,538.3 L1244.2,546.8 L1244.9,537.3 L1245.7,529.7 L1246.4,545.0 L1247.2,534.5 L1248.0,529.8 L1248.7,523.6 L1249.5,525.6 L1250.2,535.3 L1251.0,523.8 L1251.8,534.8 L1252.5,521.9 L1253.3,527.7 L1254.0,522.7 L1254.8,521.9 L1255.6,543.9 L1256.3,528.9 L1257.1,527.4 L1257.8,530.8 L1258.6,542.5 L1259.4,522.1 L1260.1,547.2 L1260.9,549.0 L1261.6,545.9 L1262.4,557.7 L1263.2,558.0 L1263.9,547.0 L1264.7,553.4 L1265.4,557.5 L1266.2,546.3 L1267.0,562.8 L1267.7,562.0 L1268.5,559.3 L1269.2,566.4 L1270.0,558.3 L1270.8,563.1 L1271.5,586.3 L1272.3,561.2 L1273.0,564.3 L1273.8,558.4 L1274.6,568.1 L1275.3,569.2 L1276.1,559.2 L1276.8,560.0 L1277.6,562.9 L1278.4,568.9 L1279.1,558.9 L1279.9,556.3 L1280.6,558.9 L1281.4,564.5 L1282.2,552.9 L1282.9,560.5 L1283.7,568.9 L1284.4,564.9 L1285.2,565.7 L1286.0,572.4 L1286.7,564.7 L1287.5,580.3 L1288.2,574.5 L1289.0,571.9 L1289.8,574.8 L1290.5,575.0 L1291.3,574.8 L1292.0,571.4 L1292.8,576.3 L1293.6,571.1 L1294.3,579.1 L1295.1,576.5 L1295.8,579.7 L1296.6,580.9 L1297.4,587.9 L1298.1,584.2 L1298.9,590.0 L1299.6,580.9 L1300.4,581.6 L1301.2,579.0 L1301.9,576.6 L1302.7,581.7 L1303.4,581.9 L1304.2,582.4 L1305.0,571.8 L1305.7,578.8 L1306.5,573.0 L1307.2,573.0 L1308.0,570.8 L1308.8,575.1 L1309.5,582.5 L1310.3,587.2 L1311.0,590.3 L1311.8,581.1 L1312.6,583.2 L1313.3,587.1 L1314.1,586.9 L1314.8,586.9 L1315.6,578.6 L1316.4,584.4 L1317.1,587.2 L1317.9,585.9 L1318.6,584.8 L1319.4,583.3 L1320.2,587.3 L1320.9,595.9 L1321.7,590.1 L1322.4,597.9 L1323.2,602.5 L1324.0,593.5 L1324.7,602.4 L1325.5,603.2 L1326.2,608.0 L1327.0,602.9 L1327.8,603.9 L1328.5,602.8 L1329.3,606.7 L1330.0,605.1 L1330.8,605.6 L1331.6,607.3 L1332.3,603.7 L1333.1,600.5 L1333.8,601.1 L1334.6,598.7 L1335.4,587.8 L1336.1,602.1 L1336.9,594.3 L1337.6,585.2 L1338.4,597.5 L1339.2,595.9 L1339.9,594.1 L1340.7,599.2 L1341.4,610.0 L1342.2,599.0 L1343.0,602.5 L1343.7,608.9 L1344.5,598.5 L1345.2,611.1 L1346.0,618.8 L1346.8,619.0 L1347.5,619.9 L1348.3,618.2 L1349.0,619.2 L1349.8,630.4 L1350.6,619.4 L1351.3,622.4 L1352.1,610.5 L1352.8,615.3 L1353.6,614.9 L1354.4,613.7 L1355.1,604.6 L1355.9,612.5 L1356.6,592.8 L1357.4,619.7 L1358.2,616.8 L1358.9,626.1 L1359.7,618.0 L1360.4,630.6 L1361.2,632.2 L1362.0,630.7 L1362.7,630.9 L1363.5,629.7 L1364.2,636.3 L1365.0,644.3 L1365.8,640.7 L1366.5,638.6 L1367.3,640.3 L1368.0,634.0 L1368.8,638.3 L1369.6,624.6 L1370.3,634.6 L1371.1,635.2 L1371.8,633.1 L1372.6,638.3 L1373.4,642.6 L1374.1,639.2 L1374.9,646.7 L1375.6,643.1 L1376.4,648.2 L1377.2,645.5 L1377.9,648.4 L1378.7,646.6 L1379.4,632.0 L1380.2,645.3 L1381.0,639.5 L1381.7,645.5 L1382.5,647.6 L1383.2,646.1 L1384.0,647.9 L1384.8,653.8 L1385.5,656.3 L1386.3,658.6 L1387.0,651.7 L1387.8,653.0 L1388.6,658.2 L1389.3,658.8 L1390.1,648.0 L1390.8,663.4 L1391.6,660.6 L1392.4,651.8 L1393.1,662.4 L1393.9,657.4 L1394.6,659.7 L1395.4,657.3 L1396.2,658.8 L1396.9,661.2 L1397.7,663.5 L1398.4,659.0 L1399.2,663.5 L1400.0,661.5 L1400.7,663.3 L1401.5,663.2 L1402.2,666.0 L1403.0,676.8 L1403.8,665.7 L1404.5,668.1 L1405.3,673.5 L1406.0,671.7 L1406.8,668.7 L1407.6,673.6 L1408.3,666.3 L1409.1,670.2 L1409.8,673.5 L1410.6,671.8 L1411.4,668.4 L1412.1,669.6 L1412.9,669.8 L1413.6,671.1 L1414.4,670.4 L1415.2,673.2 L1415.9,660.9 L1416.7,676.0 L1417.4,672.6 L1418.2,674.6 L1419.0,660.2 L1419.7,672.0 L1420.5,683.0 L1421.2,678.5 L1422.0,676.2 L1422.8,681.3 L1423.5,678.8 L1424.3,679.6 L1425.0,674.6 L1425.8,679.2 L1426.6,683.1 L1427.3,678.5 L1428.1,680.3 L1428.8,677.2 L1429.6,683.7 L1430.4,681.8 L1431.1,679.5 L1431.9,684.4 L1432.6,686.0 L1433.4,690.1 L1434.2,692.7 L1434.9,689.0 L1435.7,699.8 L1436.4,693.6 L1437.2,687.6 L1438.0,689.9 L1438.7,690.4 L1439.5,691.0 L1440.2,690.0 L1441.0,699.9 L1441.8,698.4 L1442.5,695.2 L1443.3,691.3 L1444.0,695.9 L1444.8,700.9 L1445.6,691.1 L1446.3,709.0 L1447.1,698.7 L1447.8,698.8 L1448.6,701.5 L1449.4,693.3 L1450.1,702.8 L1450.9,699.8 L1451.6,703.6 L1452.4,698.0 L1453.2,706.2 L1453.9,710.3 L1454.7,708.8 L1455.4,707.2 L1456.2,707.2 L1457.0,704.5 L1457.7,709.9 L1458.5,714.3 L1459.2,717.8 L1460.0,715.1 L1460.8,714.5 L1461.5,706.3 L1462.3,704.9 L1463.0,699.1 L1463.8,701.3 L1464.6,698.6 L1465.3,701.5 L1466.1,704.9 L1466.8,701.7 L1467.6,700.9 L1468.4,705.1 L1469.1,708.6 L1469.9,707.1 L1470.6,696.4 L1471.4,710.6 L1472.2,702.3 L1472.9,698.6 L1473.7,703.0 L1474.4,708.0 L1475.2,692.4 L1476.0,706.8 L1476.7,700.6 L1477.5,706.8 L1478.2,690.6 L1479.0,670.4 L1479.8,690.1 L1480.5,699.9 L1481.3,693.1 L1482.0,699.1 L1482.8,696.1 L1483.6,692.8 L1484.3,702.9 L1485.1,703.4 L1485.8,703.6 L1486.6,693.8 L1487.4,694.6 L1488.1,695.7 L1488.9,693.2 L1489.6,692.4 L1490.4,701.4 L1491.2,691.7 L1491.9,699.1 L1492.7,681.3 L1493.4,706.9 L1494.2,703.0 L1495.0,702.5 L1495.7,703.3 L1496.5,709.9 L1497.2,709.0 L1498.0,710.0 L1498.8,708.3 L1499.5,712.2 L1500.3,710.2 L1501.0,713.9 L1501.8,702.7 L1502.6,709.5 L1503.3,704.8 L1504.1,696.6 L1504.8,708.9 L1505.6,696.9 L1506.4,705.0 L1507.1,695.6 L1507.9,709.7 L1508.6,717.0 L1509.4,709.8 L1510.2,704.2 L1510.9,715.3 L1511.7,718.7 L1512.4,717.3 L1513.2,715.1 L1514.0,716.0 L1514.7,712.8 L1515.5,721.0 L1516.2,709.8 L1517.0,719.6 L1517.8,710.1 L1518.5,711.3 L1519.3,725.0 L1520.0,718.1 L1520.8,722.8 L1521.6,727.0 L1522.3,729.6 L1523.1,728.5 L1523.8,727.8 L1524.6,731.1 L1525.4,723.9 L1526.1,724.5 L1526.9,718.5 L1527.6,716.3 L1528.4,720.6 L1529.2,709.7 L1529.9,699.1 L1530.7,715.8 L1531.4,710.8 L1532.2,721.6 L1533.0,713.5 L1533.7,713.6 L1534.5,721.9 L1535.2,731.5 L1536.0,724.6 L1536.8,732.3 L1537.5,729.7 L1538.3,736.4 L1539.0,724.6 L1539.8,728.3 L1540.6,725.1 L1541.3,729.2 L1542.1,727.5 L1542.8,736.7 L1543.6,713.9 L1544.4,734.4 L1545.1,727.1 L1545.9,733.1 L1546.6,748.4 L1547.4,736.1 L1548.2,730.7 L1548.9,737.9 L1549.7,737.2 L1550.4,736.2 L1551.2,737.3 L1552.0,736.5 L1552.7,743.1 L1553.5,733.1 L1554.2,740.0 L1555.0,743.5 L1555.8,735.9 L1556.5,752.4 L1557.3,742.9 L1558.0,762.3 L1558.8,742.0 L1559.6,749.1 L1560.3,737.2 L1561.1,748.0 L1561.8,756.3 L1562.6,747.3 L1563.4,738.4 L1564.1,743.8 L1564.9,754.6 L1565.6,749.1 L1566.4,762.5 L1567.2,756.6 L1567.9,767.0 L1568.7,754.5 L1569.4,747.1 L1570.2,756.9 L1571.0,759.5 L1571.7,758.3 L1572.5,755.6 L1573.2,760.9 L1574.0,758.1 L1574.8,757.4 L1575.5,750.3 L1576.3,744.0 L1577.0,758.3 L1577.8,743.8 L1578.6,752.6 L1579.3,749.8 L1580.1,736.0 L1580.8,737.7 L1581.6,743.3 L1582.4,747.4 L1583.1,739.9 L1583.9,745.8 L1584.6,744.5 L1585.4,745.3 L1586.2,753.0 L1586.9,779.6 L1587.7,742.0 L1588.4,753.8 L1589.2,749.1 L1590.0,748.5 L1590.7,743.3 L1591.5,753.2 L1592.2,750.4 L1593.0,749.5 L1593.8,746.6 L1594.5,747.8 L1595.3,753.6 L1596.0,746.8 L1596.8,748.3 L1597.6,746.8 L1598.3,755.0 L1599.1,753.2 L1599.8,753.5 L1600.6,765.5 L1601.4,760.9 L1602.1,758.7 L1602.9,760.2 L1603.6,776.7 L1604.4,757.2 L1605.2,768.5 L1605.9,762.0 L1606.7,750.0 L1607.4,761.4 L1608.2,752.5 L1609.0,755.6 L1609.7,753.1 L1610.5,758.7 L1611.2,778.6 L1612.0,764.5 L1612.8,766.8 L1613.5,750.9 L1614.3,762.5 L1615.0,765.3 L1615.8,764.3 L1616.6,757.8 L1617.3,763.1 L1618.1,764.1 L1618.8,754.5 L1619.6,760.4 L1620.4,785.1 L1621.1,759.3 L1621.9,760.6 L1622.6,759.7 L1623.4,780.5 L1624.2,760.7 L1624.9,762.2 L1625.7,758.2 L1626.4,760.4 L1627.2,760.9 L1628.0,765.1 L1628.7,765.6 L1629.5,771.5 L1630.2,771.8 L1631.0,760.5 L1631.8,754.1 L1632.5,765.4 L1633.3,757.5 L1634.0,749.7 L1634.8,761.0 L1635.6,763.6 L1636.3,751.2 L1637.1,754.5 L1637.8,758.7 L1638.6,760.6 L1639.4,765.8 L1640.1,760.9 L1640.9,765.4 L1641.6,760.9 L1642.4,765.0 L1643.2,755.3 L1643.9,756.8 L1644.7,756.9 L1645.4,749.8 L1646.2,749.4 L1647.0,743.3 L1647.7,746.4 L1648.5,759.1 L1649.2,755.5 L1650.0,749.6 L1650.8,748.2 L1651.5,750.2 L1652.3,757.3 L1653.0,741.7 L1653.8,754.5 L1654.6,747.6 L1655.3,763.2 L1656.1,749.9 L1656.8,772.8 L1657.6,758.5 L1658.4,760.9 L1659.1,769.8 L1659.9,761.4 L1660.6,765.3 L1661.4,764.3 L1662.2,757.2 L1662.9,764.3 L1663.7,771.1 L1664.4,769.2 L1665.2,769.5 L1666.0,765.2 L1666.7,776.9 L1667.5,765.2 L1668.2,776.5 L1669.0,766.9 L1669.8,768.4 L1670.5,755.9 L1671.3,762.3 L1672.0,754.9 L1672.8,758.1 L1673.6,763.3 L1674.3,755.3 L1675.1,753.5 L1675.8,757.2 L1676.6,746.7 L1677.4,755.3 L1678.1,753.5 L1678.9,764.2 L1679.6,755.9 L1680.4,768.3 L1681.2,777.0 L1681.9,747.3 L1682.7,756.6 L1683.4,748.4 L1684.2,762.9 L1685.0,752.1 L1685.7,760.8 L1686.5,760.4 L1687.2,755.3 L1688.0,753.9 L1688.8,769.5 L1689.5,783.6 L1690.3,767.9 L1691.0,775.2 L1691.8,768.7 L1692.6,768.3 L1693.3,765.7 L1694.1,774.8 L1694.8,769.5 L1695.6,766.6 L1696.4,774.2 L1697.1,775.8 L1697.9,772.1 L1698.6,736.0 L1699.4,786.1 L1700.2,785.4 L1700.9,792.1 L1701.7,800.5 L1702.4,778.6 L1703.2,763.9 L1704.0,773.4 L1704.7,776.3 L1705.5,766.3 L1706.2,773.8 L1707.0,760.1 L1707.8,765.7 L1708.5,768.5 L1709.3,773.5 L1710.0,765.0 L1710.8,776.9 L1711.6,766.1 L1712.3,760.3 L1713.1,771.4 L1713.8,781.5 L1714.6,774.5 L1715.4,787.1 L1716.1,778.8 L1716.9,790.8 L1717.6,768.5 L1718.4,791.3 L1719.2,765.5 L1719.9,773.0 L1720.7,763.5 L1721.4,768.3 L1722.2,762.7 L1723.0,760.3 L1723.7,764.3 L1724.5,765.7 L1725.2,779.3 L1726.0,767.8 L1726.8,752.3 L1727.5,756.5 L1728.3,755.4 L1729.0,759.3 L1729.8,769.0 L1730.6,762.4 L1731.3,761.9 L1732.1,759.5 L1732.8,770.2 L1733.6,773.4 L1734.4,764.9 L1735.1,768.1 L1735.9,768.5 L1736.6,772.6 L1737.4,777.6 L1738.2,765.8 L1738.9,778.1 L1739.7,788.7 L1740.4,782.4 L1741.2,797.1 L1742.0,799.9 L1742.7,788.1 L1743.5,788.9 L1744.2,799.4 L1745.0,781.3 L1745.8,781.8 L1746.5,775.7 L1747.3,776.2 L1748.0,781.2 L1748.8,780.2 L1749.6,778.5 L1750.3,769.8 L1751.1,785.4 L1751.8,780.6 L1752.6,780.7 L1753.4,793.5 L1754.1,785.0 L1754.9,785.3 L1755.6,786.1 L1756.4,790.1 L1757.2,776.3 L1757.9,777.6 L1758.7,758.9 L1759.4,764.7 L1760.2,780.4 L1761.0,771.2 L1761.7,767.4 L1762.5,763.4 L1763.2,761.2 L1764.0,763.0 L1764.8,767.7 L1765.5,763.2 L1766.3,774.4 L1767.0,776.4 L1767.8,772.5 L1768.6,773.3 L1769.3,774.2 L1770.1,777.2 L1770.8,777.6 L1771.6,785.1 L1772.4,767.7 L1773.1,775.8 L1773.9,779.1 L1774.6,782.2 L1775.4,786.6 L1776.2,780.8 L1776.9,790.6 L1777.7,796.9 L1778.4,781.2 L1779.2,793.8 L1780.0,791.7 L1780.7,790.4 L1781.5,789.0 L1782.2,794.4 L1783.0,807.6 L1783.8,800.1 L1784.5,798.5 L1785.3,763.0 L1786.0,811.0 L1786.8,803.1 L1787.6,810.1 L1788.3,806.2 L1789.1,799.6 L1789.8,803.3 L1790.6,782.7 L1791.4,783.2 L1792.1,782.3 L1792.9,783.5 L1793.6,772.8 L1794.4,776.9 L1795.2,787.9 L1795.9,779.6 L1796.7,788.2 L1797.4,783.0 L1798.2,781.2 L1799.0,789.1 L1799.7,794.0 L1800.5,786.9 L1801.2,780.2 L1802.0,783.5 L1802.8,785.5 L1803.5,786.5 L1804.3,731.8 L1805.0,789.9 L1805.8,793.7 L1806.6,786.8 L1807.3,772.4 L1808.1,750.2 L1808.8,778.5 L1809.6,773.8 L1810.4,766.2 L1811.1,763.8 L1811.9,765.8 L1812.6,768.4 L1813.4,771.9 L1814.2,780.1 L1814.9,781.4 L1815.7,786.3 L1816.4,794.4 L1817.2,794.8 L1818.0,810.9 L1818.7,827.5 L1819.5,824.1 L1820.2,818.5 L1821.0,825.8 L1821.8,835.8 L1822.5,870.5 L1823.3,816.2 L1824.0,821.6 L1824.8,841.0 L1825.6,822.3 L1826.3,819.9 L1827.1,798.0 L1827.8,805.5 L1828.6,801.9 L1829.4,801.4 L1830.1,811.9 L1830.9,811.4 L1831.6,807.0 L1832.4,814.7 L1833.2,816.9 L1833.9,824.8 L1834.7,816.2 L1835.4,823.9 L1836.2,817.2 L1837.0,824.1 L1837.7,821.8 L1838.5,823.7 L1839.2,822.1 L1840.0,830.0 L1840.8,842.8 L1841.5,813.7 L1842.3,817.1 L1843.0,816.6 L1843.8,815.5 L1844.6,809.1 L1845.3,871.0 L1846.1,804.2 L1846.8,801.7 L1847.6,807.6 L1848.4,807.5 L1849.1,805.3 L1849.9,804.4 L1850.6,784.9 L1851.4,811.6 L1852.2,804.5 L1852.9,810.0 L1853.7,814.7 L1854.4,811.2 L1855.2,826.9 L1856.0,821.3 L1856.7,811.1 L1857.5,830.7 L1858.2,830.2 L1859.0,814.2 L1859.8,826.8 L1860.5,824.8 L1861.3,825.4 L1862.0,814.7 L1862.8,820.4 L1863.6,821.4 L1864.3,821.1 L1865.1,814.8 L1865.8,819.5 L1866.6,809.3 L1867.4,813.5 L1868.1,822.3 L1868.9,826.4 L1869.6,823.9 L1870.4,809.7 L1871.2,811.6 L1871.9,850.8 L1872.7,849.3 L1873.4,819.8 L1874.2,840.5 L1875.0,872.5 L1875.7,852.1 L1876.5,833.1 L1877.2,848.0 L1878.0,864.3 L1878.4,837.8 L1878.8,828.3 L1879.1,856.2 L1879.5,880.9 L1879.9,914.1 L1880.3,787.1 L1880.7,837.6 L1881.0,833.0 L1881.4,792.2 L1881.8,822.7 L1882.2,810.4 L1882.6,800.8 L1882.9,814.3 L1883.3,887.3 L1883.7,798.5 L1884.1,817.1 L1884.5,829.1 L1884.8,799.4 L1885.2,793.0 L1885.6,782.9 L1886.0,816.0 L1886.4,895.5 L1886.7,788.2 L1887.1,879.8 L1887.5,817.9 L1887.9,817.3 L1888.3,878.0 L1888.6,869.9 L1889.0,872.4 L1889.4,848.8 L1889.8,878.9 L1890.2,825.1 L1890.5,858.4 L1890.9,878.4 L1891.3,793.6 L1891.7,804.8 L1892.1,893.5 L1892.4,822.1 L1892.8,791.6 L1893.2,766.2 L1893.6,866.9 L1894.0,841.5 L1894.3,779.5 L1894.7,826.4 L1895.1,838.7 L1895.5,855.0 L1895.9,787.8 L1896.2,801.1 L1896.6,862.6 L1897.0,866.5 L1897.4,893.0 L1897.8,928.4 L1898.1,846.5 L1898.5,860.5 L1898.9,883.0 L1899.3,958.0 L1899.7,883.4 L1900.0,930.0 L1900.4,802.5 L1900.8,887.9 L1901.2,905.5 L1901.6,916.9 L1901.9,836.1 L1902.3,931.4 L1902.7,828.2 L1903.1,958.5 L1903.5,917.1 L1903.8,850.4 L1904.2,813.8 L1904.6,924.7 L1905.0,854.6 L1905.4,794.4 L1905.7,854.3 L1906.1,798.8 L1906.5,894.0 L1906.9,803.1 L1907.3,764.6 L1907.6,875.7 L1908.0,829.3 L1908.4,852.7 L1908.8,863.2 L1909.2,780.1 L1909.5,833.4 L1909.9,870.3 L1910.3,876.2 L1910.7,859.1 L1911.1,834.7 L1911.4,845.6 L1911.8,896.5 L1912.2,883.7 L1912.6,829.7 L1913.0,842.6 L1913.3,905.0 L1913.7,859.6 L1914.1,840.2 L1914.5,856.8 L1914.9,827.7 L1915.2,866.4 L1915.6,862.1 L1916.0,869.3 L1916.4,870.8 L1916.8,869.0 L1917.1,822.0 L1917.5,768.5 L1917.9,859.1 L1918.3,841.9 L1918.7,869.7 L1919.0,838.9 L1919.4,849.2 L1919.8,820.7 L1920.2,868.6 L1920.6,860.5 L1920.9,935.0 L1921.3,878.4 L1921.7,926.6 L1922.1,846.8 L1922.5,815.5 L1922.8,912.5 L1923.2,891.3 L1923.6,930.6 L1924.0,849.0 L1924.4,810.6 L1924.7,932.4 L1925.1,886.9 L1925.5,856.2 L1925.9,957.9 L1926.3,883.1 L1926.6,853.0 L1927.0,898.7 L1927.4,813.5 L1927.8,855.9 L1928.2,901.4 L1928.5,887.9 L1928.9,879.3 L1929.3,882.2 L1929.7,836.5 L1930.1,915.2 L1930.4,956.8 L1930.8,898.2 L1931.2,936.0 L1931.6,967.6 L1932.0,884.3 L1932.3,868.5 L1932.7,823.4 L1933.1,874.7 L1933.5,918.0 L1933.9,879.8 L1934.2,923.7 L1934.6,851.4 L1935.0,930.7 L1935.4,853.7 L1935.8,842.7 L1936.1,860.3 L1936.5,846.3 L1936.9,848.2 L1937.3,872.5 L1937.7,845.9 L1938.0,866.2 L1938.4,820.6 L1938.8,820.3 L1939.2,796.8 L1939.6,874.2 L1939.9,816.3 L1940.3,863.9 L1940.7,853.9 L1941.1,859.0 L1941.5,852.2 L1941.8,815.3 L1942.2,892.6 L1942.6,940.8 L1943.0,875.9 L1943.4,872.0 L1943.7,840.6 L1944.1,1080.0 L1944.5,853.5 L1944.9,905.6 L1945.3,899.9 L1945.6,823.2 L1946.0,1121.0 L1946.4,889.4 L1946.8,860.3 L1947.2,812.3 L1947.5,864.2 L1947.9,1090.0 L1948.3,873.1 L1948.7,880.7 L1949.1,907.0 L1949.4,938.0 L1949.8,850.6 L1950.2,831.6 L1950.6,851.2 L1951.0,837.2 L1951.3,807.1 L1951.7,855.7 L1952.1,829.7 L1952.5,904.0 L1952.9,832.1 L1953.2,772.6 L1953.6,847.0 L1954.0,877.8 L1954.4,838.6 L1954.8,826.2 L1955.1,824.5 L1955.5,820.2 L1955.9,872.6 L1956.3,842.7 L1956.7,813.1 L1957.0,876.8 L1957.4,798.8 L1957.8,786.0 L1958.2,800.6 L1958.6,820.4 L1958.9,792.8 L1959.3,793.3 L1959.7,814.7 L1960.1,937.9 L1960.5,798.6 L1960.8,917.1" fill="none" stroke="#0000ff" stroke-width="4.2" stroke-linejoin="miter" stroke-miterlimit="2" stroke-dasharray="27 29" stroke-dashoffset="52.45"/>
<path d="M301.0,280.3 L301.8,279.5 L302.5,280.0 L303.3,279.8 L304.0,279.9 L304.8,279.7 L305.6,279.9 L306.3,279.5 L307.1,279.4 L307.8,279.5 L308.6,279.4 L309.4,279.2 L310.1,279.2 L310.9,279.3 L311.6,279.2 L312.4,278.9 L313.2,278.9 L313.9,278.6 L314.7,279.1 L315.4,278.7 L316.2,278.9 L317.0,278.7 L317.7,278.9 L318.5,278.7 L319.2,278.5 L320.0,278.6 L320.8,278.2 L321.5,278.4 L322.3,277.9 L323.0,278.2 L323.8,278.2 L324.6,278.0 L325.3,277.8 L326.1,277.7 L326.8,277.7 L327.6,277.9 L328.4,277.8 L329.1,277.5 L329.9,277.3 L330.6,277.6 L331.4,277.3 L332.2,277.5 L332.9,277.4 L333.7,277.7 L334.4,277.6 L335.2,277.7 L336.0,277.6 L336.7,277.5 L337.5,277.7 L338.2,277.9 L339.0,277.7 L339.8,277.8 L340.5,277.7 L341.3,277.9 L342.0,277.8 L342.8,277.9 L343.6,277.8 L344.3,278.0 L345.1,277.7 L345.8,277.7 L346.6,277.7 L347.4,277.9 L348.1,277.7 L348.9,277.7 L349.6,278.0 L350.4,278.0 L351.2,278.0 L351.9,277.5 L352.7,277.8 L353.4,277.8 L354.2,277.7 L355.0,277.9 L355.7,278.2 L356.5,277.9 L357.2,277.9 L358.0,278.1 L358.8,278.0 L359.5,278.0 L360.3,277.9 L361.0,278.0 L361.8,278.1 L362.6,277.8 L363.3,277.8 L364.1,278.3 L364.8,278.2 L365.6,278.0 L366.4,278.0 L367.1,278.1 L367.9,278.0 L368.6,278.1 L369.4,278.4 L370.2,278.2 L370.9,278.4 L371.7,278.2 L372.4,278.3 L373.2,278.5 L374.0,278.1 L374.7,278.2 L375.5,278.3 L376.2,278.4 L377.0,278.6 L377.8,278.4 L378.5,278.1 L379.3,278.3 L380.0,278.2 L380.8,278.3 L381.6,278.7 L382.3,278.3 L383.1,278.5 L383.8,278.3 L384.6,278.6 L385.4,278.5 L386.1,278.5 L386.9,278.5 L387.6,278.8 L388.4,278.7 L389.2,278.9 L389.9,279.0 L390.7,279.6 L391.4,279.5 L392.2,279.6 L393.0,279.8 L393.7,280.5 L394.5,280.2 L395.2,280.6 L396.0,280.7 L396.8,280.8 L397.5,280.9 L398.3,281.1 L399.0,281.3 L399.8,281.2 L400.6,282.1 L401.3,282.0 L402.1,282.1 L402.8,282.2 L403.6,282.3 L404.4,282.7 L405.1,282.8 L405.9,283.0 L406.6,282.9 L407.4,283.4 L408.2,283.8 L408.9,283.6 L409.7,284.0 L410.4,284.0 L411.2,284.4 L412.0,284.6 L412.7,284.6 L413.5,284.7 L414.2,285.0 L415.0,285.1 L415.8,285.2 L416.5,285.5 L417.3,285.7 L418.0,285.7 L418.8,286.0 L419.6,286.6 L420.3,286.5 L421.1,286.6 L421.8,287.1 L422.6,286.8 L423.4,286.8 L424.1,287.1 L424.9,287.4 L425.6,288.0 L426.4,288.3 L427.2,288.1 L427.9,288.9 L428.7,288.8 L429.4,289.3 L430.2,289.6 L431.0,289.9 L431.7,290.1 L432.5,290.4 L433.2,290.4 L434.0,290.9 L434.8,291.3 L435.5,291.6 L436.3,292.1 L437.0,292.1 L437.8,292.3 L438.6,292.7 L439.3,292.8 L440.1,292.9 L440.8,293.3 L441.6,294.5 L442.4,295.0 L443.1,295.6 L443.9,296.1 L444.6,296.8 L445.4,297.6 L446.2,298.0 L446.9,298.4 L447.7,299.1 L448.4,300.0 L449.2,300.2 L450.0,300.6 L450.7,301.2 L451.5,302.0 L452.2,302.9 L453.0,303.4 L453.8,303.9 L454.5,304.4 L455.3,305.2 L456.0,305.8 L456.8,306.4 L457.6,307.0 L458.3,307.7 L459.1,308.9 L459.8,309.0 L460.6,310.1 L461.4,310.7 L462.1,311.7 L462.9,312.3 L463.6,313.2 L464.4,314.0 L465.2,314.7 L465.9,315.6 L466.7,316.0 L467.4,317.1 L468.2,317.7 L469.0,318.5 L469.7,319.5 L470.5,320.1 L471.2,321.0 L472.0,321.2 L472.8,322.1 L473.5,323.1 L474.3,323.5 L475.0,324.3 L475.8,325.3 L476.6,325.9 L477.3,326.3 L478.1,327.2 L478.8,327.9 L479.6,328.6 L480.4,329.2 L481.1,330.0 L481.9,330.4 L482.6,331.4 L483.4,331.9 L484.2,332.8 L484.9,333.5 L485.7,334.0 L486.4,334.9 L487.2,335.6 L488.0,336.2 L488.7,337.1 L489.5,337.6 L490.2,338.3 L491.0,339.1 L491.8,339.7 L492.5,340.6 L493.3,340.8 L494.0,341.8 L494.8,342.2 L495.6,343.2 L496.3,344.0 L497.1,344.6 L497.8,345.5 L498.6,346.1 L499.4,346.4 L500.1,347.4 L500.9,348.6 L501.6,349.3 L502.4,349.9 L503.2,350.4 L503.9,351.7 L504.7,351.8 L505.4,352.9 L506.2,353.6 L507.0,354.4 L507.7,354.9 L508.5,355.8 L509.2,356.8 L510.0,357.3 L510.8,357.9 L511.5,358.9 L512.3,359.6 L513.0,360.4 L513.8,361.0 L514.6,362.0 L515.3,362.6 L516.1,363.2 L516.8,364.2 L517.6,364.8 L518.4,365.1 L519.1,365.1 L519.9,365.6 L520.6,366.1 L521.4,366.5 L522.2,366.7 L522.9,367.0 L523.7,367.4 L524.4,367.7 L525.2,368.1 L526.0,368.2 L526.7,368.4 L527.5,368.9 L528.2,368.8 L529.0,369.4 L529.8,369.7 L530.5,370.0 L531.3,370.4 L532.0,370.7 L532.8,370.7 L533.6,371.2 L534.3,371.5 L535.1,371.9 L535.8,372.2 L536.6,372.4 L537.4,372.9 L538.1,373.3 L538.9,373.4 L539.6,373.8 L540.4,373.8 L541.2,374.3 L541.9,374.8 L542.7,374.7 L543.4,375.2 L544.2,375.5 L545.0,376.1 L545.7,376.4 L546.5,376.4 L547.2,376.8 L548.0,376.7 L548.8,377.6 L549.5,377.8 L550.3,378.3 L551.0,378.0 L551.8,378.8 L552.6,379.2 L553.3,379.3 L554.1,380.1 L554.8,380.7 L555.6,381.3 L556.4,381.7 L557.1,382.1 L557.9,382.8 L558.6,383.2 L559.4,383.6 L560.2,384.0 L560.9,384.7 L561.7,385.2 L562.4,385.9 L563.2,386.1 L564.0,386.9 L564.7,387.1 L565.5,387.4 L566.2,387.2 L567.0,387.4 L567.8,387.7 L568.5,388.0 L569.3,388.1 L570.0,388.3 L570.8,388.4 L571.6,388.7 L572.3,388.8 L573.1,388.8 L573.8,389.1 L574.6,389.2 L575.4,389.7 L576.1,389.5 L576.9,389.7 L577.6,389.9 L578.4,390.2 L579.2,390.4 L579.9,390.5 L580.7,390.4 L581.4,390.5 L582.2,390.9 L583.0,391.2 L583.7,391.5 L584.5,391.1 L585.2,391.6 L586.0,391.5 L586.8,391.8 L587.5,392.0 L588.3,392.4 L589.0,392.3 L589.8,392.5 L590.6,392.7 L591.3,393.1 L592.1,393.5 L592.8,393.0 L593.6,393.4 L594.4,393.5 L595.1,394.3 L595.9,394.7 L596.6,395.4 L597.4,395.5 L598.2,396.2 L598.9,396.7 L599.7,397.1 L600.4,397.8 L601.2,398.2 L602.0,399.2 L602.7,399.5 L603.5,399.8 L604.2,400.4 L605.0,401.3 L605.8,401.1 L606.5,401.4 L607.3,401.5 L608.0,401.7 L608.8,401.8 L609.6,401.8 L610.3,401.9 L611.1,401.9 L611.8,402.3 L612.6,402.4 L613.4,402.5 L614.1,402.7 L614.9,402.7 L615.6,403.3 L616.4,403.1 L617.2,403.1 L617.9,403.3 L618.7,403.5 L619.4,403.8 L620.2,403.5 L621.0,404.1 L621.7,404.0 L622.5,404.2 L623.2,404.6 L624.0,404.7 L624.8,404.6 L625.5,404.8 L626.3,405.3 L627.0,405.3 L627.8,405.4 L628.6,405.4 L629.3,405.7 L630.1,405.7 L630.8,405.7 L631.6,405.8 L632.4,406.2 L633.1,406.3 L633.9,406.6 L634.6,406.5 L635.4,406.9 L636.2,406.8 L636.9,407.1 L637.7,407.2 L638.4,407.2 L639.2,407.2 L640.0,407.5 L640.7,407.6 L641.5,408.0 L642.2,407.9 L643.0,407.9 L643.8,408.2 L644.5,408.7 L645.3,408.8 L646.0,408.7 L646.8,409.2 L647.6,409.7 L648.3,410.0 L649.1,410.5 L649.8,410.9 L650.6,411.2 L651.4,411.7 L652.1,412.2 L652.9,412.7 L653.6,412.9 L654.4,413.5 L655.2,413.3 L655.9,413.3 L656.7,413.2 L657.4,413.9 L658.2,413.5 L659.0,413.4 L659.7,413.3 L660.5,413.1 L661.2,413.1 L662.0,413.1 L662.8,413.1 L663.5,413.0 L664.3,413.1 L665.0,412.4 L665.8,412.7 L666.6,412.9 L667.3,412.7 L668.1,412.7 L668.8,412.9 L669.6,412.6 L670.4,412.8 L671.1,412.5 L671.9,412.5 L672.6,412.2 L673.4,412.1 L674.2,412.2 L674.9,412.3 L675.7,412.2 L676.4,412.0 L677.2,412.2 L678.0,412.1 L678.7,412.0 L679.5,411.9 L680.2,412.2 L681.0,412.1 L681.8,411.9 L682.5,411.8 L683.3,411.8 L684.0,412.0 L684.8,412.1 L685.6,411.6 L686.3,411.5 L687.1,411.3 L687.8,411.9 L688.6,411.3 L689.4,411.5 L690.1,411.4 L690.9,411.5 L691.6,411.1 L692.4,411.0 L693.2,411.2 L693.9,411.2 L694.7,411.3 L695.4,410.8 L696.2,410.9 L697.0,410.9 L697.7,410.7 L698.5,410.8 L699.2,410.9 L700.0,410.8 L700.8,410.5 L701.5,410.3 L702.3,409.7 L703.0,409.0 L703.8,408.3 L704.6,407.3 L705.3,407.0 L706.1,406.8 L706.8,406.0 L707.6,406.0 L708.4,404.9 L709.1,404.5 L709.9,398.6 L710.6,393.5 L711.4,391.5 L712.2,388.0 L712.9,389.2 L713.7,386.1 L714.4,386.8 L715.2,389.7 L716.0,394.6 L716.7,391.5 L717.5,388.3 L718.2,392.6 L719.0,391.4 L719.8,396.6 L720.5,393.4 L721.3,394.0 L722.0,395.8 L722.8,397.1 L723.6,395.8 L724.3,381.6 L725.1,389.8 L725.8,389.4 L726.6,387.0 L727.4,388.1 L728.1,381.4 L728.9,379.4 L729.6,382.0 L730.4,378.1 L731.2,374.2 L731.9,374.3 L732.7,373.2 L733.4,373.1 L734.2,375.1 L735.0,374.9 L735.7,374.4 L736.5,374.7 L737.2,373.0 L738.0,377.3 L738.8,382.4 L739.5,382.1 L740.3,382.0 L741.0,384.7 L741.8,380.4 L742.6,388.9 L743.3,393.7 L744.1,393.9 L744.8,392.7 L745.6,391.9 L746.4,389.7 L747.1,387.5 L747.9,389.8 L748.6,388.5 L749.4,391.2 L750.2,389.7 L750.9,388.2 L751.7,390.7 L752.4,396.4 L753.2,387.9 L754.0,392.5 L754.7,391.1 L755.5,389.3 L756.2,387.2 L757.0,388.2 L757.8,387.5 L758.5,387.5 L759.3,399.8 L760.0,384.8 L760.8,381.0 L761.6,382.9 L762.3,381.2 L763.1,380.2 L763.8,385.2 L764.6,382.4 L765.4,382.0 L766.1,385.7 L766.9,381.8 L767.6,386.4 L768.4,387.8 L769.2,385.9 L769.9,387.3 L770.7,398.0 L771.4,389.9 L772.2,388.9 L773.0,388.3 L773.7,386.0 L774.5,387.1 L775.2,387.0 L776.0,387.9 L776.8,388.1 L777.5,386.0 L778.3,391.5 L779.0,385.5 L779.8,388.8 L780.6,392.3 L781.3,388.3 L782.1,387.1 L782.8,389.1 L783.6,393.9 L784.4,391.2 L785.1,389.5 L785.9,391.8 L786.6,390.3 L787.4,386.6 L788.2,391.6 L788.9,393.5 L789.7,393.9 L790.4,391.1 L791.2,388.0 L792.0,394.1 L792.7,391.0 L793.5,393.0 L794.2,393.7 L795.0,391.6 L795.8,390.3 L796.5,388.7 L797.3,388.8 L798.0,389.6 L798.8,388.3 L799.6,390.1 L800.3,384.7 L801.1,386.7 L801.8,388.7 L802.6,386.8 L803.4,386.7 L804.1,384.7 L804.9,388.3 L805.6,390.0 L806.4,383.5 L807.2,388.3 L807.9,382.3 L808.7,386.2 L809.4,381.6 L810.2,387.9 L811.0,391.9 L811.7,388.3 L812.5,391.4 L813.2,390.4 L814.0,389.4 L814.8,387.9 L815.5,390.2 L816.3,388.8 L817.0,389.9 L817.8,395.0 L818.6,394.3 L819.3,393.8 L820.1,395.5 L820.8,391.5 L821.6,395.8 L822.4,391.9 L823.1,394.3 L823.9,396.4 L824.6,395.9 L825.4,396.0 L826.2,394.0 L826.9,393.1 L827.7,392.5 L828.4,395.6 L829.2,397.8 L830.0,389.3 L830.7,393.5 L831.5,396.8 L832.2,393.8 L833.0,395.3 L833.8,393.6 L834.5,392.2 L835.3,395.1 L836.0,393.5 L836.8,393.5 L837.6,389.9 L838.3,389.9 L839.1,391.6 L839.8,390.2 L840.6,391.9 L841.4,387.5 L842.1,391.2 L842.9,390.6 L843.6,389.3 L844.4,390.6 L845.2,388.9 L845.9,388.6 L846.7,389.0 L847.4,385.8 L848.2,388.5 L849.0,390.2 L849.7,384.3 L850.5,389.7 L851.2,386.5 L852.0,387.4 L852.8,388.7 L853.5,389.3 L854.3,392.2 L855.0,388.7 L855.8,393.1 L856.6,389.0 L857.3,389.9 L858.1,390.2 L858.8,386.9 L859.6,385.9 L860.4,396.0 L861.1,390.8 L861.9,391.6 L862.6,389.2 L863.4,394.7 L864.2,390.7 L864.9,389.8 L865.7,394.5 L866.4,394.9 L867.2,389.7 L868.0,393.9 L868.7,388.6 L869.5,391.4 L870.2,396.2 L871.0,393.4 L871.8,391.6 L872.5,391.0 L873.3,387.2 L874.0,389.8 L874.8,390.0 L875.6,386.4 L876.3,389.6 L877.1,390.6 L877.8,390.0 L878.6,390.6 L879.4,389.1 L880.1,386.9 L880.9,389.7 L881.6,384.8 L882.4,387.7 L883.2,392.2 L883.9,393.9 L884.7,390.4 L885.4,383.2 L886.2,392.6 L887.0,390.5 L887.7,388.4 L888.5,390.7 L889.2,390.0 L890.0,385.3 L890.8,384.8 L891.5,390.7 L892.3,381.7 L893.0,388.8 L893.8,387.6 L894.6,388.8 L895.3,390.4 L896.1,389.0 L896.8,389.5 L897.6,387.8 L898.4,387.4 L899.1,389.5 L899.9,387.3 L900.6,385.4 L901.4,388.1 L902.2,384.2 L902.9,387.1 L903.7,394.2 L904.4,389.9 L905.2,388.0 L906.0,386.9 L906.7,383.8 L907.5,387.3 L908.2,386.9 L909.0,389.1 L909.8,389.3 L910.5,388.6 L911.3,369.7 L912.0,391.9 L912.8,388.5 L913.6,386.8 L914.3,385.4 L915.1,387.2 L915.8,389.3 L916.6,387.4 L917.4,382.4 L918.1,382.2 L918.9,379.0 L919.6,386.0 L920.4,387.6 L921.2,388.7 L921.9,385.2 L922.7,386.8 L923.4,381.3 L924.2,378.7 L925.0,382.9 L925.7,381.3 L926.5,378.5 L927.2,387.2 L928.0,377.8 L928.8,387.1 L929.5,393.1 L930.3,388.9 L931.0,386.2 L931.8,390.7 L932.6,388.0 L933.3,385.5 L934.1,386.6 L934.8,382.6 L935.6,387.3 L936.4,388.6 L937.1,385.8 L937.9,384.0 L938.6,387.1 L939.4,379.4 L940.2,384.8 L940.9,379.0 L941.7,369.6 L942.4,386.8 L943.2,382.6 L944.0,386.5 L944.7,388.8 L945.5,401.4 L946.2,388.3 L947.0,391.1 L947.8,392.8 L948.5,387.0 L949.3,392.7 L950.0,388.7 L950.8,389.5 L951.6,387.0 L952.3,390.7 L953.1,385.6 L953.8,388.4 L954.6,388.5 L955.4,389.7 L956.1,384.0 L956.9,390.0 L957.6,387.8 L958.4,392.6 L959.2,386.9 L959.9,386.1 L960.7,387.6 L961.4,386.4 L962.2,386.5 L963.0,388.6 L963.7,379.5 L964.5,381.4 L965.2,384.3 L966.0,387.9 L966.8,385.7 L967.5,382.9 L968.3,386.8 L969.0,387.7 L969.8,396.4 L970.6,392.0 L971.3,388.6 L972.1,383.5 L972.8,388.2 L973.6,388.3 L974.4,391.7 L975.1,397.4 L975.9,390.4 L976.6,379.0 L977.4,390.6 L978.2,388.5 L978.9,394.1 L979.7,395.3 L980.4,393.1 L981.2,387.4 L982.0,392.5 L982.7,397.8 L983.5,390.5 L984.2,392.1 L985.0,394.9 L985.8,395.4 L986.5,393.5 L987.3,393.8 L988.0,392.8 L988.8,389.6 L989.6,391.0 L990.3,392.0 L991.1,387.2 L991.8,391.8 L992.6,391.7 L993.4,393.4 L994.1,393.5 L994.9,389.1 L995.6,389.0 L996.4,395.0 L997.2,394.0 L997.9,395.0 L998.7,392.3 L999.4,389.0 L1000.2,393.4 L1001.0,390.3 L1001.7,391.2 L1002.5,391.1 L1003.2,389.4 L1004.0,387.6 L1004.8,379.6 L1005.5,374.8 L1006.3,379.8 L1007.0,377.6 L1007.8,377.3 L1008.6,384.7 L1009.3,376.8 L1010.1,386.4 L1010.8,387.6 L1011.6,393.9 L1012.4,388.9 L1013.1,393.5 L1013.9,384.5 L1014.6,386.0 L1015.4,391.9 L1016.2,384.2 L1016.9,393.2 L1017.7,371.8 L1018.4,381.4 L1019.2,394.3 L1020.0,382.5 L1020.7,394.3 L1021.5,378.7 L1022.2,379.8 L1023.0,382.8 L1023.8,381.6 L1024.5,376.0 L1025.3,382.7 L1026.0,384.1 L1026.8,386.5 L1027.6,380.7 L1028.3,385.8 L1029.1,388.9 L1029.8,393.0 L1030.6,388.1 L1031.4,389.1 L1032.1,393.1 L1032.9,394.4 L1033.6,385.4 L1034.4,388.6 L1035.2,374.5 L1035.9,392.2 L1036.7,387.3 L1037.4,379.0 L1038.2,387.4 L1039.0,387.8 L1039.7,388.5 L1040.5,386.2 L1041.2,389.3 L1042.0,383.9 L1042.8,385.9 L1043.5,385.8 L1044.3,387.7 L1045.0,384.0 L1045.8,393.1 L1046.6,388.2 L1047.3,385.4 L1048.1,389.1 L1048.8,391.9 L1049.6,376.3 L1050.4,395.7 L1051.1,390.8 L1051.9,389.5 L1052.6,394.1 L1053.4,396.9 L1054.2,388.8 L1054.9,386.5 L1055.7,389.8 L1056.4,391.8 L1057.2,394.8 L1058.0,392.4 L1058.7,388.5 L1059.5,381.6 L1060.2,386.6 L1061.0,387.1 L1061.8,390.1 L1062.5,391.9 L1063.3,392.5 L1064.0,386.6 L1064.8,376.8 L1065.6,391.0 L1066.3,394.3 L1067.1,386.0 L1067.8,384.7 L1068.6,390.7 L1069.4,387.7 L1070.1,392.9 L1070.9,387.6 L1071.6,390.2 L1072.4,383.5 L1073.2,386.9 L1073.9,390.8 L1074.7,384.8 L1075.4,381.7 L1076.2,389.7 L1077.0,386.1 L1077.7,388.2 L1078.5,386.2 L1079.2,392.8 L1080.0,387.2 L1080.8,388.2 L1081.5,389.7 L1082.3,388.5 L1083.0,380.5 L1083.8,389.5 L1084.6,382.9 L1085.3,387.5 L1086.1,384.7 L1086.8,385.5 L1087.6,383.2 L1088.4,381.9 L1089.1,386.2 L1089.9,386.2 L1090.6,388.8 L1091.4,386.8 L1092.2,382.0 L1092.9,388.6 L1093.7,392.3 L1094.4,387.0 L1095.2,384.0 L1096.0,381.5 L1096.7,385.8 L1097.5,389.0 L1098.2,389.5 L1099.0,386.1 L1099.8,386.3 L1100.5,390.2 L1101.3,385.7 L1102.0,384.8 L1102.8,390.1 L1103.6,396.3 L1104.3,388.9 L1105.1,379.9 L1105.8,384.6 L1106.6,390.4 L1107.4,391.8 L1108.1,395.7 L1108.9,382.3 L1109.6,387.9 L1110.4,384.4 L1111.2,388.3 L1111.9,384.8 L1112.7,390.3 L1113.4,383.3 L1114.2,383.6 L1115.0,386.7 L1115.7,390.3 L1116.5,385.6 L1117.2,385.4 L1118.0,383.8 L1118.8,391.8 L1119.5,380.1 L1120.3,380.9 L1121.0,386.3 L1121.8,391.5 L1122.6,394.0 L1123.3,393.0 L1124.1,393.9 L1124.8,392.0 L1125.6,389.8 L1126.4,387.7 L1127.1,393.3 L1127.9,388.4 L1128.6,393.6 L1129.4,395.1 L1130.2,390.6 L1130.9,391.6 L1131.7,391.6 L1132.4,396.4 L1133.2,394.7 L1134.0,391.8 L1134.7,395.0 L1135.5,399.1 L1136.2,394.2 L1137.0,393.2 L1137.8,390.8 L1138.5,388.6 L1139.3,391.6 L1140.0,391.6 L1140.8,390.1 L1141.6,395.2 L1142.3,389.9 L1143.1,387.7 L1143.8,391.4 L1144.6,392.8 L1145.4,378.6 L1146.1,392.7 L1146.9,396.8 L1147.6,388.9 L1148.4,410.9 L1149.2,392.2 L1149.9,391.0 L1150.7,396.0 L1151.4,395.2 L1152.2,371.1 L1153.0,394.0 L1153.7,399.0 L1154.5,382.6 L1155.2,392.8 L1156.0,393.5 L1156.8,392.6 L1157.5,396.1 L1158.3,389.8 L1159.0,388.1 L1159.8,393.4 L1160.6,395.0 L1161.3,393.7 L1162.1,393.9 L1162.8,388.3 L1163.6,385.1 L1164.4,387.7 L1165.1,384.5 L1165.9,384.1 L1166.6,389.3 L1167.4,392.8 L1168.2,388.8 L1168.9,398.9 L1169.7,395.1 L1170.4,366.9 L1171.2,389.7 L1172.0,391.8 L1172.7,397.5 L1173.5,397.2 L1174.2,394.0 L1175.0,396.9 L1175.8,402.2 L1176.5,398.3 L1177.3,390.6 L1178.0,392.2 L1178.8,392.6 L1179.6,389.5 L1180.3,398.6 L1181.1,393.1 L1181.8,392.9 L1182.6,392.1 L1183.4,395.7 L1184.1,396.2 L1184.9,396.0 L1185.6,397.3 L1186.4,387.8 L1187.2,397.7 L1187.9,400.4 L1188.7,390.4 L1189.4,391.2 L1190.2,394.6 L1191.0,396.8 L1191.7,392.1 L1192.5,390.5 L1193.2,399.6 L1194.0,391.3 L1194.8,384.2 L1195.5,394.5 L1196.3,396.1 L1197.0,398.7 L1197.8,399.3 L1198.6,403.9 L1199.3,393.5 L1200.1,392.8 L1200.8,391.9 L1201.6,407.2 L1202.4,395.5 L1203.1,391.8 L1203.9,390.6 L1204.6,396.9 L1205.4,395.0 L1206.2,397.0 L1206.9,393.2 L1207.7,393.3 L1208.4,396.6 L1209.2,394.4 L1210.0,396.7 L1210.7,394.8 L1211.5,394.7 L1212.2,397.2 L1213.0,395.9 L1213.8,398.3 L1214.5,400.1 L1215.3,398.0 L1216.0,399.8 L1216.8,400.9 L1217.6,402.8 L1218.3,401.3 L1219.1,401.0 L1219.8,398.3 L1220.6,402.1 L1221.4,399.0 L1222.1,394.8 L1222.9,391.5 L1223.6,396.6 L1224.4,389.0 L1225.2,394.1 L1225.9,399.1 L1226.7,396.9 L1227.4,392.0 L1228.2,397.6 L1229.0,396.4 L1229.7,393.5 L1230.5,396.1 L1231.2,395.0 L1232.0,395.9 L1232.8,398.1 L1233.5,409.4 L1234.3,399.6 L1235.0,402.9 L1235.8,396.1 L1236.6,393.2 L1237.3,394.4 L1238.1,398.8 L1238.8,393.2 L1239.6,395.9 L1240.4,401.2 L1241.1,392.3 L1241.9,394.9 L1242.6,393.2 L1243.4,394.0 L1244.2,395.7 L1244.9,393.4 L1245.7,397.1 L1246.4,396.4 L1247.2,399.4 L1248.0,400.2 L1248.7,397.0 L1249.5,397.4 L1250.2,395.1 L1251.0,397.5 L1251.8,393.6 L1252.5,399.7 L1253.3,393.2 L1254.0,398.4 L1254.8,393.5 L1255.6,396.7 L1256.3,393.3 L1257.1,394.6 L1257.8,394.6 L1258.6,399.2 L1259.4,399.8 L1260.1,400.7 L1260.9,395.1 L1261.6,397.7 L1262.4,400.0 L1263.2,402.3 L1263.9,396.2 L1264.7,394.8 L1265.4,398.7 L1266.2,403.2 L1267.0,397.3 L1267.7,397.1 L1268.5,395.7 L1269.2,397.2 L1270.0,397.0 L1270.8,397.2 L1271.5,403.3 L1272.3,403.7 L1273.0,400.0 L1273.8,399.8 L1274.6,401.9 L1275.3,399.5 L1276.1,400.0 L1276.8,401.7 L1277.6,400.0 L1278.4,403.9 L1279.1,409.5 L1279.9,399.4 L1280.6,399.6 L1281.4,395.6 L1282.2,396.2 L1282.9,397.5 L1283.7,392.2 L1284.4,396.6 L1285.2,393.7 L1286.0,398.6 L1286.7,395.9 L1287.5,398.7 L1288.2,396.8 L1289.0,397.0 L1289.8,397.2 L1290.5,391.3 L1291.3,401.7 L1292.0,395.7 L1292.8,399.8 L1293.6,400.7 L1294.3,397.4 L1295.1,394.8 L1295.8,400.1 L1296.6,394.8 L1297.4,396.5 L1298.1,397.1 L1298.9,393.3 L1299.6,388.8 L1300.4,391.3 L1301.2,394.5 L1301.9,390.7 L1302.7,396.2 L1303.4,389.8 L1304.2,392.6 L1305.0,391.4 L1305.7,395.2 L1306.5,403.9 L1307.2,412.4 L1308.0,401.2 L1308.8,401.2 L1309.5,407.3 L1310.3,397.3 L1311.0,401.4 L1311.8,408.6 L1312.6,399.3 L1313.3,402.8 L1314.1,403.0 L1314.8,402.8 L1315.6,404.8 L1316.4,400.7 L1317.1,395.6 L1317.9,401.1 L1318.6,398.9 L1319.4,395.0 L1320.2,396.4 L1320.9,403.0 L1321.7,395.7 L1322.4,404.7 L1323.2,406.2 L1324.0,406.8 L1324.7,403.3 L1325.5,405.7 L1326.2,409.0 L1327.0,405.8 L1327.8,403.2 L1328.5,400.3 L1329.3,401.4 L1330.0,404.4 L1330.8,399.9 L1331.6,406.2 L1332.3,405.6 L1333.1,401.1 L1333.8,394.0 L1334.6,398.0 L1335.4,402.5 L1336.1,396.8 L1336.9,396.2 L1337.6,398.2 L1338.4,406.1 L1339.2,396.7 L1339.9,392.5 L1340.7,399.5 L1341.4,400.1 L1342.2,401.4 L1343.0,399.5 L1343.7,400.4 L1344.5,397.9 L1345.2,402.1 L1346.0,398.9 L1346.8,400.3 L1347.5,396.2 L1348.3,402.3 L1349.0,398.7 L1349.8,396.5 L1350.6,397.8 L1351.3,394.4 L1352.1,395.9 L1352.8,400.3 L1353.6,399.7 L1354.4,400.5 L1355.1,400.1 L1355.9,397.1 L1356.6,398.2 L1357.4,403.4 L1358.2,397.4 L1358.9,393.1 L1359.7,397.7 L1360.4,396.6 L1361.2,397.7 L1362.0,398.4 L1362.7,395.7 L1363.5,400.7 L1364.2,399.8 L1365.0,403.2 L1365.8,400.5 L1366.5,400.9 L1367.3,403.9 L1368.0,411.2 L1368.8,401.7 L1369.6,411.0 L1370.3,408.7 L1371.1,411.8 L1371.8,407.2 L1372.6,409.5 L1373.4,409.4 L1374.1,414.6 L1374.9,407.8 L1375.6,408.7 L1376.4,405.5 L1377.2,408.5 L1377.9,405.1 L1378.7,406.7 L1379.4,407.9 L1380.2,408.1 L1381.0,403.4 L1381.7,403.2 L1382.5,409.2 L1383.2,404.0 L1384.0,406.2 L1384.8,405.0 L1385.5,401.3 L1386.3,406.0 L1387.0,406.3 L1387.8,412.4 L1388.6,402.0 L1389.3,406.7 L1390.1,410.7 L1390.8,407.9 L1391.6,403.7 L1392.4,412.6 L1393.1,411.9 L1393.9,409.4 L1394.6,409.6 L1395.4,419.4 L1396.2,414.4 L1396.9,414.0 L1397.7,413.2 L1398.4,416.8 L1399.2,419.4 L1400.0,414.8 L1400.7,421.4 L1401.5,416.6 L1402.2,417.8 L1403.0,416.7 L1403.8,416.3 L1404.5,414.8 L1405.3,399.9 L1406.0,409.8 L1406.8,414.6 L1407.6,408.2 L1408.3,411.2 L1409.1,405.8 L1409.8,408.4 L1410.6,414.7 L1411.4,410.8 L1412.1,407.5 L1412.9,408.3 L1413.6,405.1 L1414.4,411.4 L1415.2,409.0 L1415.9,411.6 L1416.7,411.4 L1417.4,407.6 L1418.2,405.1 L1419.0,392.5 L1419.7,405.7 L1420.5,406.5 L1421.2,410.2 L1422.0,403.0 L1422.8,406.9 L1423.5,402.1 L1424.3,406.9 L1425.0,406.9 L1425.8,406.1 L1426.6,403.1 L1427.3,403.1 L1428.1,408.8 L1428.8,405.7 L1429.6,406.0 L1430.4,404.4 L1431.1,415.5 L1431.9,413.8 L1432.6,409.8 L1433.4,414.6 L1434.2,409.0 L1434.9,406.2 L1435.7,408.5 L1436.4,411.0 L1437.2,403.4 L1438.0,410.5 L1438.7,410.5 L1439.5,411.5 L1440.2,408.4 L1441.0,408.2 L1441.8,401.7 L1442.5,406.6 L1443.3,409.8 L1444.0,408.3 L1444.8,407.4 L1445.6,402.7 L1446.3,405.7 L1447.1,400.7 L1447.8,404.9 L1448.6,406.3 L1449.4,403.6 L1450.1,406.6 L1450.9,405.4 L1451.6,408.4 L1452.4,405.3 L1453.2,402.2 L1453.9,404.1 L1454.7,406.5 L1455.4,409.9 L1456.2,411.4 L1457.0,417.2 L1457.7,414.2 L1458.5,413.4 L1459.2,414.7 L1460.0,414.2 L1460.8,422.9 L1461.5,421.3 L1462.3,420.2 L1463.0,418.9 L1463.8,424.2 L1464.6,421.2 L1465.3,425.1 L1466.1,428.6 L1466.8,423.6 L1467.6,423.6 L1468.4,424.2 L1469.1,420.7 L1469.9,427.6 L1470.6,420.5 L1471.4,422.5 L1472.2,420.7 L1472.9,417.2 L1473.7,422.3 L1474.4,418.9 L1475.2,415.5 L1476.0,415.5 L1476.7,411.9 L1477.5,414.7 L1478.2,420.8 L1479.0,421.1 L1479.8,416.1 L1480.5,420.9 L1481.3,421.9 L1482.0,421.2 L1482.8,422.3 L1483.6,407.2 L1484.3,418.4 L1485.1,414.6 L1485.8,412.8 L1486.6,414.8 L1487.4,417.2 L1488.1,433.6 L1488.9,412.5 L1489.6,415.6 L1490.4,415.8 L1491.2,422.0 L1491.9,413.9 L1492.7,421.3 L1493.4,425.0 L1494.2,418.6 L1495.0,421.0 L1495.7,411.4 L1496.5,415.4 L1497.2,420.4 L1498.0,418.7 L1498.8,419.2 L1499.5,423.6 L1500.3,416.8 L1501.0,415.8 L1501.8,415.5 L1502.6,417.6 L1503.3,411.5 L1504.1,422.6 L1504.8,411.9 L1505.6,413.4 L1506.4,417.9 L1507.1,419.7 L1507.9,417.6 L1508.6,419.4 L1509.4,412.7 L1510.2,411.2 L1510.9,414.4 L1511.7,408.7 L1512.4,412.5 L1513.2,413.5 L1514.0,415.7 L1514.7,406.6 L1515.5,413.7 L1516.2,407.7 L1517.0,417.1 L1517.8,413.9 L1518.5,421.5 L1519.3,420.6 L1520.0,420.8 L1520.8,421.0 L1521.6,420.2 L1522.3,424.3 L1523.1,416.9 L1523.8,417.7 L1524.6,427.2 L1525.4,417.5 L1526.1,424.2 L1526.9,422.3 L1527.6,425.7 L1528.4,426.6 L1529.2,428.4 L1529.9,422.0 L1530.7,427.9 L1531.4,427.4 L1532.2,421.7 L1533.0,422.1 L1533.7,419.0 L1534.5,426.6 L1535.2,426.7 L1536.0,420.1 L1536.8,422.5 L1537.5,424.3 L1538.3,425.8 L1539.0,423.0 L1539.8,430.9 L1540.6,424.2 L1541.3,430.7 L1542.1,429.5 L1542.8,431.2 L1543.6,429.2 L1544.4,432.3 L1545.1,431.6 L1545.9,435.1 L1546.6,430.9 L1547.4,427.8 L1548.2,431.5 L1548.9,430.9 L1549.7,427.0 L1550.4,428.8 L1551.2,429.6 L1552.0,428.4 L1552.7,430.0 L1553.5,430.5 L1554.2,426.6 L1555.0,424.0 L1555.8,420.9 L1556.5,428.7 L1557.3,426.4 L1558.0,434.1 L1558.8,424.6 L1559.6,424.9 L1560.3,422.1 L1561.1,422.0 L1561.8,420.8 L1562.6,425.2 L1563.4,428.3 L1564.1,430.5 L1564.9,437.9 L1565.6,430.6 L1566.4,439.3 L1567.2,439.5 L1567.9,448.1 L1568.7,438.0 L1569.4,442.1 L1570.2,436.4 L1571.0,434.8 L1571.7,440.0 L1572.5,437.9 L1573.2,439.5 L1574.0,432.8 L1574.8,440.6 L1575.5,429.6 L1576.3,430.5 L1577.0,432.1 L1577.8,429.9 L1578.6,427.1 L1579.3,425.5 L1580.1,428.9 L1580.8,427.6 L1581.6,426.3 L1582.4,431.0 L1583.1,428.2 L1583.9,434.8 L1584.6,437.3 L1585.4,434.7 L1586.2,440.1 L1586.9,428.6 L1587.7,418.4 L1588.4,433.3 L1589.2,429.2 L1590.0,435.6 L1590.7,438.3 L1591.5,438.1 L1592.2,438.5 L1593.0,434.5 L1593.8,436.1 L1594.5,430.2 L1595.3,432.7 L1596.0,435.3 L1596.8,431.3 L1597.6,429.4 L1598.3,432.0 L1599.1,438.1 L1599.8,437.0 L1600.6,438.1 L1601.4,437.1 L1602.1,433.6 L1602.9,437.8 L1603.6,432.1 L1604.4,438.2 L1605.2,428.3 L1605.9,441.3 L1606.7,434.9 L1607.4,436.7 L1608.2,435.5 L1609.0,433.8 L1609.7,433.0 L1610.5,430.2 L1611.2,436.9 L1612.0,432.4 L1612.8,443.4 L1613.5,434.9 L1614.3,436.9 L1615.0,438.4 L1615.8,437.2 L1616.6,440.8 L1617.3,434.9 L1618.1,431.5 L1618.8,430.7 L1619.6,434.6 L1620.4,429.7 L1621.1,417.7 L1621.9,423.2 L1622.6,419.9 L1623.4,423.5 L1624.2,426.4 L1624.9,424.8 L1625.7,428.0 L1626.4,433.1 L1627.2,420.0 L1628.0,427.4 L1628.7,428.1 L1629.5,429.8 L1630.2,428.2 L1631.0,431.3 L1631.8,427.1 L1632.5,428.8 L1633.3,420.4 L1634.0,427.9 L1634.8,422.3 L1635.6,430.5 L1636.3,436.4 L1637.1,429.2 L1637.8,432.1 L1638.6,434.1 L1639.4,437.6 L1640.1,435.4 L1640.9,437.7 L1641.6,429.7 L1642.4,431.5 L1643.2,424.7 L1643.9,428.1 L1644.7,427.7 L1645.4,432.9 L1646.2,428.6 L1647.0,427.9 L1647.7,421.8 L1648.5,427.5 L1649.2,439.3 L1650.0,431.5 L1650.8,429.3 L1651.5,433.5 L1652.3,429.1 L1653.0,440.6 L1653.8,432.7 L1654.6,454.1 L1655.3,436.0 L1656.1,435.1 L1656.8,440.1 L1657.6,446.5 L1658.4,441.4 L1659.1,455.9 L1659.9,441.1 L1660.6,442.2 L1661.4,451.9 L1662.2,448.6 L1662.9,453.7 L1663.7,452.8 L1664.4,433.3 L1665.2,450.2 L1666.0,453.3 L1666.7,453.1 L1667.5,448.8 L1668.2,454.3 L1669.0,445.5 L1669.8,447.0 L1670.5,450.6 L1671.3,438.9 L1672.0,433.0 L1672.8,434.9 L1673.6,438.7 L1674.3,432.9 L1675.1,436.7 L1675.8,444.1 L1676.6,434.3 L1677.4,443.1 L1678.1,440.7 L1678.9,430.6 L1679.6,439.7 L1680.4,442.7 L1681.2,444.5 L1681.9,441.6 L1682.7,443.1 L1683.4,439.6 L1684.2,438.5 L1685.0,443.3 L1685.7,447.8 L1686.5,440.2 L1687.2,452.3 L1688.0,440.2 L1688.8,444.2 L1689.5,434.8 L1690.3,451.7 L1691.0,447.9 L1691.8,443.4 L1692.6,439.5 L1693.3,456.5 L1694.1,452.5 L1694.8,434.5 L1695.6,449.7 L1696.4,443.9 L1697.1,451.9 L1697.9,458.1 L1698.6,447.4 L1699.4,454.2 L1700.2,444.2 L1700.9,434.9 L1701.7,449.4 L1702.4,459.2 L1703.2,457.5 L1704.0,446.3 L1704.7,458.3 L1705.5,457.3 L1706.2,453.7 L1707.0,449.3 L1707.8,457.6 L1708.5,450.9 L1709.3,448.8 L1710.0,457.4 L1710.8,446.3 L1711.6,454.6 L1712.3,459.6 L1713.1,446.3 L1713.8,452.0 L1714.6,454.6 L1715.4,440.7 L1716.1,448.9 L1716.9,448.6 L1717.6,448.5 L1718.4,435.7 L1719.2,459.0 L1719.9,444.3 L1720.7,448.5 L1721.4,452.3 L1722.2,458.0 L1723.0,437.6 L1723.7,439.8 L1724.5,442.1 L1725.2,448.1 L1726.0,457.4 L1726.8,451.8 L1727.5,454.7 L1728.3,464.2 L1729.0,452.1 L1729.8,454.8 L1730.6,465.6 L1731.3,455.1 L1732.1,446.3 L1732.8,445.0 L1733.6,456.1 L1734.4,454.0 L1735.1,442.9 L1735.9,454.7 L1736.6,458.9 L1737.4,461.9 L1738.2,444.8 L1738.9,455.4 L1739.7,430.0 L1740.4,446.9 L1741.2,472.6 L1742.0,463.3 L1742.7,457.3 L1743.5,445.7 L1744.2,441.2 L1745.0,458.3 L1745.8,448.8 L1746.5,443.7 L1747.3,453.7 L1748.0,453.1 L1748.8,443.4 L1749.6,445.3 L1750.3,463.9 L1751.1,441.8 L1751.8,455.6 L1752.6,443.3 L1753.4,445.7 L1754.1,439.1 L1754.9,444.3 L1755.6,443.5 L1756.4,447.4 L1757.2,435.6 L1757.9,442.8 L1758.7,435.3 L1759.4,433.9 L1760.2,443.9 L1761.0,443.3 L1761.7,430.3 L1762.5,443.4 L1763.2,430.6 L1764.0,437.4 L1764.8,458.0 L1765.5,440.9 L1766.3,446.2 L1767.0,451.9 L1767.8,456.3 L1768.6,459.0 L1769.3,458.2 L1770.1,439.4 L1770.8,454.1 L1771.6,446.2 L1772.4,428.6 L1773.1,433.5 L1773.9,452.4 L1774.6,454.1 L1775.4,448.2 L1776.2,445.2 L1776.9,450.5 L1777.7,455.2 L1778.4,452.7 L1779.2,464.5 L1780.0,462.2 L1780.7,446.5 L1781.5,463.1 L1782.2,456.2 L1783.0,461.4 L1783.8,441.9 L1784.5,461.4 L1785.3,448.9 L1786.0,461.1 L1786.8,452.7 L1787.6,450.3 L1788.3,441.8 L1789.1,438.9 L1789.8,456.4 L1790.6,440.9 L1791.4,439.7 L1792.1,450.6 L1792.9,447.2 L1793.6,451.0 L1794.4,437.0 L1795.2,431.2 L1795.9,440.6 L1796.7,455.3 L1797.4,448.7 L1798.2,453.3 L1799.0,455.2 L1799.7,454.1 L1800.5,455.6 L1801.2,454.2 L1802.0,458.4 L1802.8,459.9 L1803.5,457.6 L1804.3,461.9 L1805.0,456.9 L1805.8,455.3 L1806.6,453.5 L1807.3,459.7 L1808.1,451.3 L1808.8,460.5 L1809.6,444.8 L1810.4,456.7 L1811.1,442.7 L1811.9,455.6 L1812.6,453.3 L1813.4,455.4 L1814.2,452.9 L1814.9,461.5 L1815.7,466.7 L1816.4,450.7 L1817.2,475.5 L1818.0,467.1 L1818.7,471.4 L1819.5,471.3 L1820.2,463.0 L1821.0,479.6 L1821.8,468.3 L1822.5,480.5 L1823.3,478.1 L1824.0,472.9 L1824.8,470.3 L1825.6,474.3 L1826.3,484.7 L1827.1,477.9 L1827.8,468.5 L1828.6,477.0 L1829.4,514.7 L1830.1,487.0 L1830.9,460.6 L1831.6,478.4 L1832.4,480.1 L1833.2,469.5 L1833.9,462.8 L1834.7,451.7 L1835.4,473.0 L1836.2,457.0 L1837.0,468.4 L1837.7,480.4 L1838.5,476.6 L1839.2,480.8 L1840.0,468.2 L1840.8,482.6 L1841.5,461.2 L1842.3,481.2 L1843.0,481.6 L1843.8,488.6 L1844.6,484.5 L1845.3,487.1 L1846.1,481.7 L1846.8,480.0 L1847.6,483.6 L1848.4,497.5 L1849.1,508.6 L1849.9,485.7 L1850.6,483.7 L1851.4,492.0 L1852.2,491.2 L1852.9,502.0 L1853.7,503.1 L1854.4,495.9 L1855.2,494.0 L1856.0,486.5 L1856.7,476.6 L1857.5,486.7 L1858.2,484.8 L1859.0,475.8 L1859.8,483.8 L1860.5,487.8 L1861.3,458.8 L1862.0,485.8 L1862.8,482.5 L1863.6,476.4 L1864.3,481.3 L1865.1,486.3 L1865.8,481.1 L1866.6,482.8 L1867.4,492.9 L1868.1,488.7 L1868.9,512.8 L1869.6,482.9 L1870.4,491.4 L1871.2,497.0 L1871.9,481.4 L1872.7,444.7 L1873.4,482.9 L1874.2,487.4 L1875.0,502.5 L1875.7,477.4 L1876.5,499.0 L1877.2,486.5 L1878.0,484.5 L1878.4,474.9 L1878.8,494.5 L1879.1,554.3 L1879.5,498.2 L1879.9,496.0 L1880.3,498.5 L1880.7,486.3 L1881.0,506.1 L1881.4,495.7 L1881.8,522.1 L1882.2,497.2 L1882.6,499.0 L1882.9,523.9 L1883.3,518.0 L1883.7,485.0 L1884.1,483.9 L1884.5,497.8 L1884.8,493.8 L1885.2,504.0 L1885.6,488.8 L1886.0,476.9 L1886.4,507.9 L1886.7,488.4 L1887.1,501.9 L1887.5,472.3 L1887.9,511.4 L1888.3,488.5 L1888.6,487.0 L1889.0,555.0 L1889.4,454.7 L1889.8,493.9 L1890.2,456.9 L1890.5,463.3 L1890.9,490.0 L1891.3,564.8 L1891.7,473.7 L1892.1,572.0 L1892.4,451.1 L1892.8,473.1 L1893.2,482.4 L1893.6,498.3 L1894.0,531.8 L1894.3,535.8 L1894.7,469.9 L1895.1,560.0 L1895.5,476.4 L1895.9,483.8 L1896.2,456.0 L1896.6,493.3 L1897.0,511.7 L1897.4,516.7 L1897.8,493.4 L1898.1,545.0 L1898.5,511.6 L1898.9,504.6 L1899.3,466.8 L1899.7,459.6 L1900.0,499.7 L1900.4,497.6 L1900.8,485.9 L1901.2,538.8 L1901.6,470.7 L1901.9,511.6 L1902.3,514.5 L1902.7,467.9 L1903.1,499.9 L1903.5,504.4 L1903.8,517.3 L1904.2,472.6 L1904.6,487.3 L1905.0,470.9 L1905.4,459.2 L1905.7,493.5 L1906.1,481.0 L1906.5,471.8 L1906.9,489.8 L1907.3,457.4 L1907.6,459.4 L1908.0,484.3 L1908.4,470.6 L1908.8,486.7 L1909.2,483.5 L1909.5,504.2 L1909.9,460.3 L1910.3,467.9 L1910.7,455.0 L1911.1,449.1 L1911.4,491.3 L1911.8,474.1 L1912.2,521.1 L1912.6,476.2 L1913.0,452.6 L1913.3,467.7 L1913.7,539.9 L1914.1,487.0 L1914.5,484.0 L1914.9,473.1 L1915.2,470.5 L1915.6,511.7 L1916.0,473.4 L1916.4,466.9 L1916.8,485.7 L1917.1,488.6 L1917.5,503.8 L1917.9,500.1 L1918.3,512.2 L1918.7,498.5 L1919.0,504.7 L1919.4,505.5 L1919.8,508.6 L1920.2,497.1 L1920.6,501.9 L1920.9,490.0 L1921.3,499.8 L1921.7,497.7 L1922.1,499.4 L1922.5,511.8 L1922.8,509.5 L1923.2,497.2 L1923.6,514.5 L1924.0,473.6 L1924.4,506.5 L1924.7,504.1 L1925.1,492.6 L1925.5,501.6 L1925.9,503.1 L1926.3,496.5 L1926.6,501.0 L1927.0,492.9 L1927.4,525.1 L1927.8,492.4 L1928.2,496.7 L1928.5,498.5 L1928.9,494.0 L1929.3,473.3 L1929.7,473.3 L1930.1,464.7 L1930.4,475.3 L1930.8,504.8 L1931.2,491.2 L1931.6,488.8 L1932.0,478.9 L1932.3,480.9 L1932.7,473.2 L1933.1,460.0 L1933.5,432.7 L1933.9,464.3 L1934.2,490.5 L1934.6,472.7 L1935.0,493.1 L1935.4,470.9 L1935.8,489.6 L1936.1,486.8 L1936.5,470.1 L1936.9,496.1 L1937.3,511.6 L1937.7,474.2 L1938.0,479.0 L1938.4,503.6 L1938.8,523.6 L1939.2,503.8 L1939.6,554.7 L1939.9,490.4 L1940.3,538.7 L1940.7,486.2 L1941.1,501.2 L1941.5,483.5 L1941.8,506.1 L1942.2,513.4 L1942.6,465.0 L1943.0,600.0 L1943.4,541.3 L1943.7,491.3 L1944.1,462.7 L1944.5,477.1 L1944.9,471.2 L1945.3,524.3 L1945.6,500.2 L1946.0,637.0 L1946.4,469.2 L1946.8,500.0 L1947.2,449.7 L1947.5,523.1 L1947.9,500.7 L1948.3,469.8 L1948.7,447.1 L1949.1,590.0 L1949.4,479.1 L1949.8,524.0 L1950.2,506.8 L1950.6,460.7 L1951.0,460.3 L1951.3,451.0 L1951.7,480.4 L1952.1,474.3 L1952.5,502.5 L1952.9,492.6 L1953.2,448.3 L1953.6,475.4 L1954.0,465.0 L1954.4,509.9 L1954.8,472.5 L1955.1,522.2 L1955.5,472.9 L1955.9,448.8 L1956.3,479.8 L1956.7,499.9 L1957.0,518.4 L1957.4,500.6 L1957.8,499.7 L1958.2,519.0 L1958.6,488.7 L1958.9,514.2 L1959.3,549.4 L1959.7,502.8 L1960.1,477.1 L1960.5,491.6 L1960.8,472.7" fill="none" stroke="#000" stroke-width="4.2" stroke-linejoin="miter" stroke-miterlimit="2"/>
<path d="M301.0,281.1 L301.8,280.6 L302.5,280.2 L303.3,279.7 L304.0,279.8 L304.8,279.8 L305.6,279.3 L306.3,279.1 L307.1,278.9 L307.8,278.4 L308.6,278.6 L309.4,277.8 L310.1,277.7 L310.9,277.8 L311.6,277.1 L312.4,277.0 L313.2,276.9 L313.9,277.0 L314.7,276.6 L315.4,276.8 L316.2,277.1 L317.0,276.9 L317.7,276.8 L318.5,276.9 L319.2,276.9 L320.0,276.8 L320.8,276.8 L321.5,276.5 L322.3,276.8 L323.0,276.6 L323.8,276.8 L324.6,276.6 L325.3,276.5 L326.1,276.6 L326.8,276.4 L327.6,276.7 L328.4,276.5 L329.1,276.7 L329.9,276.3 L330.6,276.7 L331.4,276.5 L332.2,276.7 L332.9,276.6 L333.7,276.3 L334.4,276.5 L335.2,276.4 L336.0,276.6 L336.7,276.7 L337.5,276.6 L338.2,276.7 L339.0,276.3 L339.8,276.5 L340.5,276.6 L341.3,276.7 L342.0,276.4 L342.8,276.6 L343.6,276.6 L344.3,276.3 L345.1,276.3 L345.8,276.6 L346.6,276.3 L347.4,276.3 L348.1,276.6 L348.9,276.5 L349.6,276.5 L350.4,276.5 L351.2,276.4 L351.9,276.4 L352.7,276.4 L353.4,276.6 L354.2,276.7 L355.0,276.4 L355.7,276.5 L356.5,276.5 L357.2,276.3 L358.0,276.5 L358.8,276.6 L359.5,276.4 L360.3,276.6 L361.0,276.4 L361.8,276.7 L362.6,276.7 L363.3,276.4 L364.1,276.2 L364.8,276.4 L365.6,276.3 L366.4,276.3 L367.1,276.5 L367.9,276.7 L368.6,276.5 L369.4,276.5 L370.2,276.2 L370.9,276.4 L371.7,276.3 L372.4,276.6 L373.2,276.4 L374.0,276.5 L374.7,276.5 L375.5,276.5 L376.2,276.6 L377.0,276.6 L377.8,276.5 L378.5,276.5 L379.3,276.6 L380.0,276.7 L380.8,276.5 L381.6,276.7 L382.3,276.4 L383.1,276.5 L383.8,276.3 L384.6,276.6 L385.4,276.3 L386.1,276.3 L386.9,276.6 L387.6,276.4 L388.4,276.4 L389.2,276.6 L389.9,276.4 L390.7,276.6 L391.4,276.4 L392.2,276.5 L393.0,276.6 L393.7,276.4 L394.5,276.7 L395.2,276.3 L396.0,276.4 L396.8,276.4 L397.5,276.5 L398.3,276.3 L399.0,276.3 L399.8,276.4 L400.6,276.5 L401.3,276.3 L402.1,276.1 L402.8,276.3 L403.6,276.4 L404.4,276.2 L405.1,276.3 L405.9,276.0 L406.6,276.3 L407.4,276.3 L408.2,276.3 L408.9,276.3 L409.7,276.4 L410.4,276.1 L411.2,276.3 L412.0,276.0 L412.7,276.1 L413.5,276.4 L414.2,276.3 L415.0,275.9 L415.8,276.3 L416.5,276.1 L417.3,276.0 L418.0,276.2 L418.8,276.1 L419.6,276.3 L420.3,275.9 L421.1,276.0 L421.8,276.1 L422.6,275.8 L423.4,276.3 L424.1,276.3 L424.9,276.0 L425.6,276.1 L426.4,276.0 L427.2,276.1 L427.9,275.9 L428.7,276.1 L429.4,275.8 L430.2,276.2 L431.0,276.0 L431.7,276.3 L432.5,275.7 L433.2,275.9 L434.0,275.7 L434.8,275.9 L435.5,276.0 L436.3,275.8 L437.0,275.7 L437.8,275.6 L438.6,275.9 L439.3,276.0 L440.1,276.0 L440.8,275.8 L441.6,275.7 L442.4,275.7 L443.1,275.5 L443.9,275.5 L444.6,275.9 L445.4,275.7 L446.2,275.8 L446.9,275.7 L447.7,275.9 L448.4,275.9 L449.2,275.5 L450.0,275.6 L450.7,275.5 L451.5,275.8 L452.2,275.8 L453.0,275.6 L453.8,275.9 L454.5,275.6 L455.3,275.4 L456.0,275.2 L456.8,275.5 L457.6,275.6 L458.3,275.4 L459.1,275.5 L459.8,275.7 L460.6,275.5 L461.4,275.6 L462.1,275.7 L462.9,275.5 L463.6,275.3 L464.4,275.5 L465.2,275.5 L465.9,275.7 L466.7,275.3 L467.4,275.1 L468.2,275.4 L469.0,275.4 L469.7,275.2 L470.5,275.4 L471.2,275.3 L472.0,275.5 L472.8,275.1 L473.5,275.1 L474.3,275.2 L475.0,275.1 L475.8,275.4 L476.6,275.3 L477.3,275.2 L478.1,275.4 L478.8,275.2 L479.6,275.3 L480.4,275.2 L481.1,275.1 L481.9,275.1 L482.6,275.1 L483.4,274.9 L484.2,275.0 L484.9,275.2 L485.7,275.1 L486.4,274.9 L487.2,275.4 L488.0,274.9 L488.7,275.2 L489.5,275.3 L490.2,275.4 L491.0,275.2 L491.8,275.4 L492.5,275.4 L493.3,275.7 L494.0,275.7 L494.8,275.7 L495.6,275.8 L496.3,276.1 L497.1,276.0 L497.8,276.1 L498.6,275.9 L499.4,276.2 L500.1,276.0 L500.9,276.4 L501.6,276.3 L502.4,276.3 L503.2,276.3 L503.9,276.5 L504.7,276.6 L505.4,276.6 L506.2,276.7 L507.0,276.8 L507.7,276.8 L508.5,276.9 L509.2,277.1 L510.0,277.3 L510.8,277.3 L511.5,277.2 L512.3,277.6 L513.0,277.6 L513.8,277.4 L514.6,277.7 L515.3,277.5 L516.1,277.6 L516.8,277.6 L517.6,278.1 L518.4,277.9 L519.1,278.0 L519.9,278.1 L520.6,278.1 L521.4,278.3 L522.2,278.4 L522.9,278.6 L523.7,278.3 L524.4,278.7 L525.2,278.6 L526.0,278.4 L526.7,278.8 L527.5,279.0 L528.2,279.0 L529.0,278.9 L529.8,279.0 L530.5,278.7 L531.3,279.2 L532.0,279.2 L532.8,279.1 L533.6,279.4 L534.3,279.3 L535.1,279.8 L535.8,279.4 L536.6,279.5 L537.4,279.4 L538.1,279.7 L538.9,279.8 L539.6,279.9 L540.4,279.9 L541.2,280.2 L541.9,280.2 L542.7,280.5 L543.4,280.4 L544.2,280.3 L545.0,280.6 L545.7,280.6 L546.5,281.0 L547.2,280.9 L548.0,281.1 L548.8,281.3 L549.5,281.2 L550.3,281.5 L551.0,281.8 L551.8,281.7 L552.6,281.9 L553.3,282.0 L554.1,282.0 L554.8,282.2 L555.6,282.5 L556.4,282.5 L557.1,282.6 L557.9,282.7 L558.6,282.7 L559.4,282.8 L560.2,283.4 L560.9,283.5 L561.7,283.4 L562.4,283.6 L563.2,283.8 L564.0,283.9 L564.7,283.8 L565.5,283.8 L566.2,283.9 L567.0,284.2 L567.8,284.6 L568.5,284.7 L569.3,284.6 L570.0,284.7 L570.8,285.0 L571.6,285.3 L572.3,285.0 L573.1,285.3 L573.8,285.4 L574.6,285.4 L575.4,285.6 L576.1,285.7 L576.9,285.9 L577.6,285.8 L578.4,286.1 L579.2,286.4 L579.9,286.5 L580.7,286.6 L581.4,286.7 L582.2,286.8 L583.0,287.1 L583.7,287.0 L584.5,287.1 L585.2,287.4 L586.0,287.4 L586.8,287.3 L587.5,287.5 L588.3,287.7 L589.0,287.8 L589.8,287.9 L590.6,288.3 L591.3,288.5 L592.1,288.7 L592.8,288.8 L593.6,289.2 L594.4,289.4 L595.1,289.8 L595.9,289.6 L596.6,289.9 L597.4,290.4 L598.2,290.2 L598.9,290.6 L599.7,290.8 L600.4,291.0 L601.2,291.1 L602.0,291.5 L602.7,291.5 L603.5,292.1 L604.2,292.1 L605.0,292.4 L605.8,292.6 L606.5,292.8 L607.3,293.0 L608.0,293.3 L608.8,293.4 L609.6,293.7 L610.3,293.7 L611.1,293.9 L611.8,294.2 L612.6,294.4 L613.4,294.6 L614.1,294.9 L614.9,295.3 L615.6,295.5 L616.4,295.6 L617.2,295.9 L617.9,296.1 L618.7,296.7 L619.4,296.3 L620.2,296.8 L621.0,296.8 L621.7,297.4 L622.5,297.4 L623.2,297.7 L624.0,297.9 L624.8,298.2 L625.5,297.8 L626.3,298.3 L627.0,298.7 L627.8,298.7 L628.6,299.2 L629.3,299.6 L630.1,299.4 L630.8,299.8 L631.6,300.1 L632.4,300.5 L633.1,300.6 L633.9,300.8 L634.6,300.8 L635.4,301.1 L636.2,301.4 L636.9,301.5 L637.7,301.9 L638.4,302.1 L639.2,302.4 L640.0,303.1 L640.7,303.0 L641.5,303.6 L642.2,303.5 L643.0,303.9 L643.8,304.0 L644.5,304.4 L645.3,305.0 L646.0,305.1 L646.8,305.0 L647.6,305.8 L648.3,305.8 L649.1,306.1 L649.8,306.5 L650.6,306.5 L651.4,307.3 L652.1,307.6 L652.9,307.6 L653.6,308.0 L654.4,308.2 L655.2,308.4 L655.9,308.8 L656.7,308.9 L657.4,309.3 L658.2,309.6 L659.0,310.3 L659.7,310.0 L660.5,310.7 L661.2,310.9 L662.0,311.2 L662.8,311.3 L663.5,312.0 L664.3,312.2 L665.0,312.3 L665.8,312.6 L666.6,312.9 L667.3,313.4 L668.1,313.3 L668.8,313.8 L669.6,314.2 L670.4,314.1 L671.1,314.6 L671.9,315.1 L672.6,315.1 L673.4,315.5 L674.2,315.5 L674.9,316.1 L675.7,316.2 L676.4,316.6 L677.2,317.0 L678.0,317.1 L678.7,317.6 L679.5,317.9 L680.2,318.2 L681.0,318.5 L681.8,318.6 L682.5,318.6 L683.3,319.4 L684.0,319.6 L684.8,319.8 L685.6,320.0 L686.3,320.6 L687.1,320.6 L687.8,320.9 L688.6,321.2 L689.4,321.9 L690.1,321.7 L690.9,321.8 L691.6,322.4 L692.4,322.6 L693.2,322.7 L693.9,323.3 L694.7,323.5 L695.4,324.0 L696.2,324.1 L697.0,324.6 L697.7,324.9 L698.5,325.0 L699.2,325.4 L700.0,325.9 L700.8,326.0 L701.5,324.4 L702.3,323.8 L703.0,322.6 L703.8,322.3 L704.6,319.8 L705.3,320.0 L706.1,317.4 L706.8,316.4 L707.6,314.8 L708.4,314.1 L709.1,312.6 L709.9,312.3 L710.6,308.7 L711.4,306.5 L712.2,307.5 L712.9,308.1 L713.7,306.8 L714.4,308.7 L715.2,308.6 L716.0,311.9 L716.7,304.6 L717.5,313.1 L718.2,303.2 L719.0,305.1 L719.8,310.5 L720.5,308.3 L721.3,310.5 L722.0,310.9 L722.8,309.5 L723.6,309.3 L724.3,311.5 L725.1,313.1 L725.8,313.3 L726.6,311.8 L727.4,310.1 L728.1,313.2 L728.9,304.6 L729.6,309.5 L730.4,312.3 L731.2,313.1 L731.9,312.3 L732.7,312.8 L733.4,312.3 L734.2,310.5 L735.0,306.0 L735.7,314.4 L736.5,312.7 L737.2,318.1 L738.0,314.0 L738.8,314.9 L739.5,318.2 L740.3,315.1 L741.0,318.4 L741.8,316.0 L742.6,319.2 L743.3,320.8 L744.1,327.9 L744.8,319.9 L745.6,323.4 L746.4,327.9 L747.1,324.8 L747.9,324.3 L748.6,325.0 L749.4,328.9 L750.2,324.0 L750.9,327.9 L751.7,326.6 L752.4,327.4 L753.2,325.2 L754.0,327.0 L754.7,329.9 L755.5,325.8 L756.2,325.4 L757.0,320.4 L757.8,333.8 L758.5,325.9 L759.3,328.7 L760.0,334.7 L760.8,326.5 L761.6,327.2 L762.3,325.5 L763.1,333.8 L763.8,331.0 L764.6,330.5 L765.4,331.2 L766.1,331.5 L766.9,330.1 L767.6,330.4 L768.4,333.9 L769.2,323.3 L769.9,328.1 L770.7,326.0 L771.4,310.2 L772.2,321.4 L773.0,325.2 L773.7,330.4 L774.5,333.9 L775.2,331.0 L776.0,325.6 L776.8,331.4 L777.5,329.4 L778.3,333.1 L779.0,332.4 L779.8,338.9 L780.6,334.0 L781.3,339.8 L782.1,337.7 L782.8,338.5 L783.6,342.2 L784.4,337.5 L785.1,323.2 L785.9,337.3 L786.6,338.6 L787.4,335.0 L788.2,340.2 L788.9,335.8 L789.7,333.8 L790.4,332.5 L791.2,333.3 L792.0,334.8 L792.7,335.8 L793.5,333.3 L794.2,331.7 L795.0,333.5 L795.8,328.8 L796.5,337.9 L797.3,338.1 L798.0,336.6 L798.8,340.1 L799.6,336.8 L800.3,345.0 L801.1,340.9 L801.8,340.8 L802.6,354.0 L803.4,343.2 L804.1,344.0 L804.9,340.8 L805.6,341.6 L806.4,342.3 L807.2,341.5 L807.9,346.7 L808.7,345.7 L809.4,341.1 L810.2,348.4 L811.0,341.6 L811.7,347.4 L812.5,341.5 L813.2,337.2 L814.0,342.9 L814.8,336.9 L815.5,336.1 L816.3,342.6 L817.0,338.2 L817.8,340.9 L818.6,338.1 L819.3,342.8 L820.1,345.4 L820.8,339.9 L821.6,347.0 L822.4,346.0 L823.1,352.3 L823.9,354.1 L824.6,350.2 L825.4,350.1 L826.2,362.8 L826.9,350.8 L827.7,344.2 L828.4,344.7 L829.2,347.4 L830.0,345.9 L830.7,349.6 L831.5,356.6 L832.2,350.3 L833.0,354.4 L833.8,357.6 L834.5,354.5 L835.3,355.8 L836.0,354.9 L836.8,355.0 L837.6,354.0 L838.3,352.5 L839.1,357.0 L839.8,358.5 L840.6,355.7 L841.4,356.2 L842.1,352.5 L842.9,355.7 L843.6,357.1 L844.4,356.0 L845.2,356.1 L845.9,352.8 L846.7,351.5 L847.4,353.5 L848.2,357.4 L849.0,351.9 L849.7,348.6 L850.5,350.7 L851.2,356.0 L852.0,356.5 L852.8,357.0 L853.5,352.9 L854.3,353.4 L855.0,356.5 L855.8,358.2 L856.6,356.6 L857.3,362.6 L858.1,359.5 L858.8,361.7 L859.6,360.6 L860.4,362.4 L861.1,360.4 L861.9,360.9 L862.6,363.0 L863.4,359.9 L864.2,362.7 L864.9,355.1 L865.7,357.7 L866.4,331.7 L867.2,342.1 L868.0,357.8 L868.7,363.1 L869.5,359.0 L870.2,367.3 L871.0,354.5 L871.8,361.1 L872.5,358.2 L873.3,362.8 L874.0,365.9 L874.8,362.8 L875.6,368.0 L876.3,363.8 L877.1,367.1 L877.8,365.8 L878.6,368.2 L879.4,367.7 L880.1,362.0 L880.9,366.5 L881.6,365.4 L882.4,370.4 L883.2,358.0 L883.9,364.1 L884.7,365.4 L885.4,367.9 L886.2,366.3 L887.0,363.1 L887.7,368.0 L888.5,364.9 L889.2,366.1 L890.0,367.0 L890.8,368.2 L891.5,374.4 L892.3,366.5 L893.0,367.1 L893.8,374.0 L894.6,372.4 L895.3,365.2 L896.1,369.6 L896.8,371.7 L897.6,369.0 L898.4,368.2 L899.1,368.5 L899.9,370.3 L900.6,370.4 L901.4,369.4 L902.2,375.1 L902.9,372.2 L903.7,370.2 L904.4,367.6 L905.2,371.2 L906.0,367.1 L906.7,369.4 L907.5,369.0 L908.2,370.0 L909.0,373.2 L909.8,363.8 L910.5,376.9 L911.3,374.1 L912.0,371.5 L912.8,371.0 L913.6,374.6 L914.3,372.3 L915.1,377.5 L915.8,372.4 L916.6,370.4 L917.4,369.2 L918.1,373.0 L918.9,376.2 L919.6,365.5 L920.4,376.5 L921.2,374.8 L921.9,371.1 L922.7,375.0 L923.4,365.9 L924.2,342.2 L925.0,370.7 L925.7,370.8 L926.5,370.5 L927.2,369.2 L928.0,365.2 L928.8,370.8 L929.5,368.3 L930.3,371.9 L931.0,370.3 L931.8,366.6 L932.6,372.0 L933.3,373.0 L934.1,373.4 L934.8,369.6 L935.6,383.4 L936.4,374.7 L937.1,372.7 L937.9,373.0 L938.6,376.7 L939.4,377.4 L940.2,376.3 L940.9,374.7 L941.7,379.9 L942.4,372.7 L943.2,370.1 L944.0,376.0 L944.7,370.5 L945.5,371.7 L946.2,375.6 L947.0,372.4 L947.8,369.2 L948.5,377.0 L949.3,372.8 L950.0,372.8 L950.8,385.9 L951.6,368.8 L952.3,371.8 L953.1,370.8 L953.8,377.5 L954.6,371.4 L955.4,380.8 L956.1,375.8 L956.9,375.7 L957.6,378.3 L958.4,375.5 L959.2,374.3 L959.9,375.8 L960.7,378.2 L961.4,375.6 L962.2,379.1 L963.0,376.9 L963.7,365.2 L964.5,378.2 L965.2,382.8 L966.0,384.7 L966.8,383.3 L967.5,377.3 L968.3,375.6 L969.0,380.5 L969.8,381.1 L970.6,379.8 L971.3,375.0 L972.1,377.5 L972.8,375.6 L973.6,379.4 L974.4,379.0 L975.1,377.0 L975.9,375.4 L976.6,382.0 L977.4,377.8 L978.2,380.0 L978.9,379.7 L979.7,380.9 L980.4,382.6 L981.2,378.8 L982.0,379.1 L982.7,382.9 L983.5,372.1 L984.2,381.8 L985.0,380.8 L985.8,384.3 L986.5,382.8 L987.3,380.6 L988.0,377.0 L988.8,379.2 L989.6,378.1 L990.3,378.8 L991.1,397.5 L991.8,376.0 L992.6,379.8 L993.4,376.8 L994.1,379.8 L994.9,379.6 L995.6,382.6 L996.4,378.8 L997.2,383.5 L997.9,377.7 L998.7,376.2 L999.4,381.0 L1000.2,378.8 L1001.0,381.3 L1001.7,382.3 L1002.5,382.9 L1003.2,385.2 L1004.0,386.1 L1004.8,392.2 L1005.5,387.9 L1006.3,380.9 L1007.0,389.1 L1007.8,395.7 L1008.6,397.0 L1009.3,395.6 L1010.1,392.1 L1010.8,386.5 L1011.6,399.9 L1012.4,388.2 L1013.1,385.5 L1013.9,378.6 L1014.6,402.8 L1015.4,390.0 L1016.2,383.0 L1016.9,398.2 L1017.7,403.3 L1018.4,377.5 L1019.2,397.7 L1020.0,393.1 L1020.7,396.0 L1021.5,386.4 L1022.2,388.2 L1023.0,401.5 L1023.8,388.2 L1024.5,384.9 L1025.3,394.3 L1026.0,384.0 L1026.8,385.7 L1027.6,392.0 L1028.3,382.6 L1029.1,379.8 L1029.8,388.3 L1030.6,386.2 L1031.4,382.6 L1032.1,390.2 L1032.9,378.0 L1033.6,388.1 L1034.4,377.8 L1035.2,386.1 L1035.9,376.8 L1036.7,387.0 L1037.4,383.1 L1038.2,381.1 L1039.0,383.9 L1039.7,383.0 L1040.5,388.8 L1041.2,381.6 L1042.0,388.8 L1042.8,386.1 L1043.5,385.8 L1044.3,387.5 L1045.0,385.0 L1045.8,393.0 L1046.6,391.4 L1047.3,392.1 L1048.1,380.5 L1048.8,385.8 L1049.6,395.5 L1050.4,393.2 L1051.1,385.3 L1051.9,385.6 L1052.6,386.4 L1053.4,391.1 L1054.2,393.5 L1054.9,387.4 L1055.7,387.5 L1056.4,386.3 L1057.2,388.3 L1058.0,396.0 L1058.7,382.1 L1059.5,388.2 L1060.2,377.0 L1061.0,375.7 L1061.8,370.7 L1062.5,375.0 L1063.3,385.2 L1064.0,385.4 L1064.8,380.8 L1065.6,376.8 L1066.3,383.7 L1067.1,373.4 L1067.8,372.6 L1068.6,376.6 L1069.4,381.1 L1070.1,372.9 L1070.9,379.0 L1071.6,392.9 L1072.4,382.9 L1073.2,382.2 L1073.9,381.1 L1074.7,388.8 L1075.4,388.4 L1076.2,385.5 L1077.0,384.1 L1077.7,373.4 L1078.5,370.4 L1079.2,392.4 L1080.0,382.8 L1080.8,384.8 L1081.5,384.7 L1082.3,397.7 L1083.0,394.8 L1083.8,383.3 L1084.6,401.7 L1085.3,392.2 L1086.1,390.2 L1086.8,374.9 L1087.6,398.2 L1088.4,401.5 L1089.1,388.7 L1089.9,390.9 L1090.6,391.1 L1091.4,382.3 L1092.2,391.1 L1092.9,385.9 L1093.7,390.9 L1094.4,390.8 L1095.2,397.5 L1096.0,385.7 L1096.7,384.9 L1097.5,390.1 L1098.2,396.9 L1099.0,387.4 L1099.8,389.7 L1100.5,390.9 L1101.3,391.4 L1102.0,386.9 L1102.8,371.0 L1103.6,387.7 L1104.3,390.1 L1105.1,394.3 L1105.8,388.2 L1106.6,388.8 L1107.4,392.9 L1108.1,392.0 L1108.9,393.0 L1109.6,385.5 L1110.4,402.2 L1111.2,390.7 L1111.9,390.3 L1112.7,387.0 L1113.4,394.0 L1114.2,396.9 L1115.0,391.1 L1115.7,390.5 L1116.5,389.5 L1117.2,402.8 L1118.0,393.9 L1118.8,388.7 L1119.5,392.1 L1120.3,397.4 L1121.0,393.1 L1121.8,394.4 L1122.6,394.0 L1123.3,392.3 L1124.1,396.2 L1124.8,401.6 L1125.6,395.0 L1126.4,390.2 L1127.1,386.7 L1127.9,390.1 L1128.6,386.9 L1129.4,384.9 L1130.2,392.7 L1130.9,391.0 L1131.7,395.5 L1132.4,392.8 L1133.2,388.9 L1134.0,396.9 L1134.7,394.9 L1135.5,401.1 L1136.2,389.1 L1137.0,403.3 L1137.8,395.7 L1138.5,403.8 L1139.3,397.9 L1140.0,389.1 L1140.8,390.1 L1141.6,383.6 L1142.3,386.2 L1143.1,390.8 L1143.8,394.0 L1144.6,393.2 L1145.4,397.1 L1146.1,395.1 L1146.9,398.0 L1147.6,390.2 L1148.4,404.2 L1149.2,402.8 L1149.9,392.8 L1150.7,395.2 L1151.4,389.8 L1152.2,404.3 L1153.0,394.5 L1153.7,399.6 L1154.5,400.4 L1155.2,405.3 L1156.0,401.0 L1156.8,398.6 L1157.5,404.9 L1158.3,408.0 L1159.0,401.1 L1159.8,404.5 L1160.6,397.6 L1161.3,413.5 L1162.1,402.7 L1162.8,411.4 L1163.6,410.8 L1164.4,410.2 L1165.1,411.2 L1165.9,402.3 L1166.6,408.0 L1167.4,403.6 L1168.2,407.1 L1168.9,404.2 L1169.7,420.8 L1170.4,407.9 L1171.2,413.1 L1172.0,403.9 L1172.7,416.2 L1173.5,405.5 L1174.2,404.3 L1175.0,403.1 L1175.8,395.9 L1176.5,393.0 L1177.3,404.6 L1178.0,397.8 L1178.8,402.3 L1179.6,414.6 L1180.3,403.1 L1181.1,416.0 L1181.8,408.1 L1182.6,401.9 L1183.4,411.4 L1184.1,414.7 L1184.9,427.8 L1185.6,406.7 L1186.4,404.9 L1187.2,413.9 L1187.9,418.4 L1188.7,417.7 L1189.4,408.3 L1190.2,409.2 L1191.0,411.8 L1191.7,415.7 L1192.5,413.4 L1193.2,413.8 L1194.0,412.6 L1194.8,402.7 L1195.5,409.1 L1196.3,415.2 L1197.0,411.5 L1197.8,423.7 L1198.6,413.8 L1199.3,419.3 L1200.1,420.2 L1200.8,420.6 L1201.6,412.1 L1202.4,414.8 L1203.1,420.0 L1203.9,414.2 L1204.6,416.2 L1205.4,404.5 L1206.2,416.1 L1206.9,414.0 L1207.7,413.9 L1208.4,409.4 L1209.2,414.6 L1210.0,418.0 L1210.7,417.7 L1211.5,418.4 L1212.2,427.5 L1213.0,428.0 L1213.8,424.1 L1214.5,430.5 L1215.3,433.0 L1216.0,425.7 L1216.8,429.7 L1217.6,425.2 L1218.3,421.6 L1219.1,422.8 L1219.8,419.4 L1220.6,416.7 L1221.4,414.7 L1222.1,416.5 L1222.9,415.1 L1223.6,416.1 L1224.4,411.7 L1225.2,415.4 L1225.9,418.0 L1226.7,413.0 L1227.4,421.5 L1228.2,414.3 L1229.0,415.5 L1229.7,417.2 L1230.5,416.3 L1231.2,416.4 L1232.0,418.8 L1232.8,422.9 L1233.5,421.5 L1234.3,429.8 L1235.0,424.0 L1235.8,423.4 L1236.6,423.0 L1237.3,426.5 L1238.1,425.1 L1238.8,425.8 L1239.6,427.4 L1240.4,429.7 L1241.1,421.0 L1241.9,426.4 L1242.6,423.8 L1243.4,424.3 L1244.2,421.0 L1244.9,421.4 L1245.7,424.7 L1246.4,423.8 L1247.2,420.0 L1248.0,425.6 L1248.7,414.3 L1249.5,419.2 L1250.2,428.1 L1251.0,425.5 L1251.8,421.1 L1252.5,424.8 L1253.3,428.0 L1254.0,432.0 L1254.8,428.6 L1255.6,427.4 L1256.3,427.9 L1257.1,427.2 L1257.8,432.2 L1258.6,430.8 L1259.4,436.5 L1260.1,432.8 L1260.9,440.0 L1261.6,436.6 L1262.4,438.6 L1263.2,439.1 L1263.9,439.9 L1264.7,449.6 L1265.4,434.9 L1266.2,440.1 L1267.0,441.2 L1267.7,444.3 L1268.5,453.8 L1269.2,447.0 L1270.0,438.6 L1270.8,440.1 L1271.5,442.5 L1272.3,443.0 L1273.0,439.5 L1273.8,446.2 L1274.6,450.0 L1275.3,444.0 L1276.1,447.2 L1276.8,447.7 L1277.6,454.8 L1278.4,447.4 L1279.1,449.0 L1279.9,447.5 L1280.6,450.7 L1281.4,449.5 L1282.2,450.0 L1282.9,451.0 L1283.7,455.4 L1284.4,451.4 L1285.2,455.5 L1286.0,452.0 L1286.7,456.4 L1287.5,448.1 L1288.2,448.1 L1289.0,453.8 L1289.8,456.5 L1290.5,449.4 L1291.3,443.4 L1292.0,454.3 L1292.8,452.1 L1293.6,447.9 L1294.3,455.5 L1295.1,455.4 L1295.8,448.7 L1296.6,449.4 L1297.4,452.9 L1298.1,452.7 L1298.9,454.9 L1299.6,451.8 L1300.4,457.0 L1301.2,449.2 L1301.9,447.9 L1302.7,449.4 L1303.4,449.6 L1304.2,452.5 L1305.0,450.8 L1305.7,457.0 L1306.5,458.9 L1307.2,460.9 L1308.0,453.8 L1308.8,451.4 L1309.5,454.6 L1310.3,456.4 L1311.0,454.8 L1311.8,458.5 L1312.6,459.5 L1313.3,460.1 L1314.1,457.3 L1314.8,479.0 L1315.6,460.3 L1316.4,456.3 L1317.1,465.3 L1317.9,470.9 L1318.6,467.3 L1319.4,466.5 L1320.2,466.2 L1320.9,471.0 L1321.7,467.1 L1322.4,465.7 L1323.2,461.8 L1324.0,465.9 L1324.7,464.3 L1325.5,472.8 L1326.2,470.2 L1327.0,473.8 L1327.8,467.7 L1328.5,475.9 L1329.3,481.5 L1330.0,487.4 L1330.8,488.8 L1331.6,484.0 L1332.3,498.7 L1333.1,489.6 L1333.8,490.0 L1334.6,490.3 L1335.4,487.4 L1336.1,489.7 L1336.9,487.8 L1337.6,499.5 L1338.4,485.9 L1339.2,486.5 L1339.9,488.8 L1340.7,483.3 L1341.4,481.1 L1342.2,486.7 L1343.0,484.5 L1343.7,487.1 L1344.5,482.0 L1345.2,485.4 L1346.0,483.8 L1346.8,483.3 L1347.5,487.5 L1348.3,490.4 L1349.0,493.7 L1349.8,490.4 L1350.6,499.0 L1351.3,501.8 L1352.1,500.8 L1352.8,499.5 L1353.6,498.9 L1354.4,505.8 L1355.1,499.9 L1355.9,507.3 L1356.6,496.6 L1357.4,496.4 L1358.2,495.5 L1358.9,499.6 L1359.7,508.3 L1360.4,504.5 L1361.2,505.6 L1362.0,509.9 L1362.7,514.1 L1363.5,514.6 L1364.2,512.3 L1365.0,512.9 L1365.8,517.6 L1366.5,512.8 L1367.3,512.6 L1368.0,513.0 L1368.8,527.5 L1369.6,521.5 L1370.3,518.2 L1371.1,515.3 L1371.8,506.8 L1372.6,510.5 L1373.4,516.0 L1374.1,520.3 L1374.9,518.4 L1375.6,514.3 L1376.4,518.9 L1377.2,519.3 L1377.9,525.7 L1378.7,524.9 L1379.4,523.8 L1380.2,531.9 L1381.0,523.9 L1381.7,530.7 L1382.5,529.2 L1383.2,528.2 L1384.0,527.5 L1384.8,531.7 L1385.5,536.1 L1386.3,526.3 L1387.0,533.4 L1387.8,537.4 L1388.6,532.6 L1389.3,533.8 L1390.1,542.1 L1390.8,537.1 L1391.6,537.2 L1392.4,540.3 L1393.1,540.1 L1393.9,541.2 L1394.6,541.3 L1395.4,544.6 L1396.2,541.4 L1396.9,543.9 L1397.7,539.2 L1398.4,544.2 L1399.2,543.5 L1400.0,552.3 L1400.7,550.7 L1401.5,556.0 L1402.2,553.2 L1403.0,552.5 L1403.8,559.8 L1404.5,557.5 L1405.3,553.4 L1406.0,556.9 L1406.8,553.7 L1407.6,559.3 L1408.3,556.6 L1409.1,553.1 L1409.8,551.0 L1410.6,552.3 L1411.4,549.1 L1412.1,548.9 L1412.9,548.6 L1413.6,542.8 L1414.4,547.8 L1415.2,544.0 L1415.9,544.5 L1416.7,549.3 L1417.4,543.4 L1418.2,552.1 L1419.0,553.7 L1419.7,550.4 L1420.5,553.5 L1421.2,547.7 L1422.0,551.5 L1422.8,543.0 L1423.5,548.5 L1424.3,550.3 L1425.0,559.2 L1425.8,561.5 L1426.6,549.4 L1427.3,568.2 L1428.1,555.8 L1428.8,564.9 L1429.6,563.4 L1430.4,560.0 L1431.1,564.8 L1431.9,566.9 L1432.6,561.3 L1433.4,567.9 L1434.2,567.5 L1434.9,569.3 L1435.7,562.0 L1436.4,568.7 L1437.2,561.8 L1438.0,571.9 L1438.7,568.7 L1439.5,576.4 L1440.2,577.1 L1441.0,566.6 L1441.8,578.5 L1442.5,572.5 L1443.3,578.9 L1444.0,577.8 L1444.8,578.3 L1445.6,581.2 L1446.3,583.2 L1447.1,592.7 L1447.8,590.9 L1448.6,589.9 L1449.4,597.8 L1450.1,595.0 L1450.9,599.4 L1451.6,595.4 L1452.4,599.5 L1453.2,594.8 L1453.9,594.7 L1454.7,597.8 L1455.4,598.9 L1456.2,595.5 L1457.0,593.7 L1457.7,602.4 L1458.5,592.2 L1459.2,583.0 L1460.0,593.5 L1460.8,588.9 L1461.5,585.1 L1462.3,593.2 L1463.0,591.8 L1463.8,586.8 L1464.6,585.6 L1465.3,586.6 L1466.1,590.1 L1466.8,583.2 L1467.6,591.2 L1468.4,587.5 L1469.1,588.3 L1469.9,592.6 L1470.6,586.5 L1471.4,590.2 L1472.2,588.7 L1472.9,578.7 L1473.7,589.4 L1474.4,590.9 L1475.2,591.0 L1476.0,596.7 L1476.7,591.5 L1477.5,595.9 L1478.2,595.9 L1479.0,597.5 L1479.8,590.9 L1480.5,596.3 L1481.3,597.1 L1482.0,605.4 L1482.8,599.4 L1483.6,603.7 L1484.3,603.3 L1485.1,598.5 L1485.8,600.6 L1486.6,606.8 L1487.4,610.1 L1488.1,628.9 L1488.9,609.6 L1489.6,607.4 L1490.4,612.7 L1491.2,608.7 L1491.9,618.4 L1492.7,612.2 L1493.4,612.5 L1494.2,618.4 L1495.0,612.4 L1495.7,604.8 L1496.5,611.0 L1497.2,606.7 L1498.0,604.6 L1498.8,606.3 L1499.5,604.8 L1500.3,612.2 L1501.0,607.9 L1501.8,610.0 L1502.6,615.3 L1503.3,611.1 L1504.1,610.0 L1504.8,612.1 L1505.6,609.5 L1506.4,611.9 L1507.1,611.2 L1507.9,615.5 L1508.6,611.9 L1509.4,610.9 L1510.2,613.4 L1510.9,607.8 L1511.7,615.4 L1512.4,604.4 L1513.2,623.1 L1514.0,614.6 L1514.7,620.3 L1515.5,609.0 L1516.2,626.6 L1517.0,616.2 L1517.8,622.8 L1518.5,612.3 L1519.3,615.5 L1520.0,614.8 L1520.8,612.9 L1521.6,614.5 L1522.3,620.8 L1523.1,611.2 L1523.8,616.5 L1524.6,620.7 L1525.4,625.4 L1526.1,618.3 L1526.9,619.2 L1527.6,618.6 L1528.4,628.5 L1529.2,628.6 L1529.9,630.6 L1530.7,631.6 L1531.4,626.6 L1532.2,637.0 L1533.0,636.7 L1533.7,628.8 L1534.5,630.8 L1535.2,629.2 L1536.0,630.3 L1536.8,639.4 L1537.5,636.4 L1538.3,629.4 L1539.0,640.2 L1539.8,635.0 L1540.6,634.1 L1541.3,630.8 L1542.1,631.4 L1542.8,634.0 L1543.6,645.5 L1544.4,632.2 L1545.1,634.3 L1545.9,641.1 L1546.6,639.6 L1547.4,637.1 L1548.2,650.8 L1548.9,640.6 L1549.7,639.6 L1550.4,641.3 L1551.2,644.2 L1552.0,644.6 L1552.7,645.8 L1553.5,643.4 L1554.2,640.9 L1555.0,648.2 L1555.8,642.7 L1556.5,641.8 L1557.3,658.3 L1558.0,650.4 L1558.8,645.0 L1559.6,649.7 L1560.3,656.6 L1561.1,646.7 L1561.8,648.7 L1562.6,653.4 L1563.4,638.1 L1564.1,622.6 L1564.9,655.5 L1565.6,654.5 L1566.4,644.0 L1567.2,653.5 L1567.9,642.1 L1568.7,653.0 L1569.4,645.4 L1570.2,650.1 L1571.0,650.0 L1571.7,652.7 L1572.5,646.2 L1573.2,660.6 L1574.0,656.2 L1574.8,654.4 L1575.5,658.9 L1576.3,653.7 L1577.0,662.2 L1577.8,659.7 L1578.6,662.5 L1579.3,651.9 L1580.1,656.4 L1580.8,648.9 L1581.6,657.9 L1582.4,654.6 L1583.1,655.5 L1583.9,662.0 L1584.6,658.1 L1585.4,662.7 L1586.2,653.6 L1586.9,646.6 L1587.7,667.5 L1588.4,648.2 L1589.2,652.8 L1590.0,659.2 L1590.7,649.7 L1591.5,659.5 L1592.2,654.0 L1593.0,661.7 L1593.8,655.9 L1594.5,665.0 L1595.3,651.9 L1596.0,673.6 L1596.8,653.4 L1597.6,665.8 L1598.3,660.2 L1599.1,653.9 L1599.8,665.5 L1600.6,662.0 L1601.4,664.9 L1602.1,666.7 L1602.9,671.4 L1603.6,667.1 L1604.4,671.7 L1605.2,665.1 L1605.9,666.8 L1606.7,670.5 L1607.4,680.6 L1608.2,666.9 L1609.0,664.6 L1609.7,666.5 L1610.5,666.0 L1611.2,659.1 L1612.0,674.5 L1612.8,659.8 L1613.5,655.7 L1614.3,660.7 L1615.0,662.7 L1615.8,661.1 L1616.6,657.9 L1617.3,662.7 L1618.1,666.4 L1618.8,662.7 L1619.6,662.9 L1620.4,668.3 L1621.1,669.0 L1621.9,664.1 L1622.6,679.4 L1623.4,673.5 L1624.2,676.6 L1624.9,674.2 L1625.7,663.7 L1626.4,678.8 L1627.2,663.4 L1628.0,666.5 L1628.7,672.1 L1629.5,668.4 L1630.2,674.4 L1631.0,675.6 L1631.8,671.7 L1632.5,679.8 L1633.3,666.3 L1634.0,675.2 L1634.8,676.2 L1635.6,681.1 L1636.3,676.3 L1637.1,665.3 L1637.8,674.3 L1638.6,670.0 L1639.4,663.7 L1640.1,673.8 L1640.9,677.2 L1641.6,670.7 L1642.4,675.4 L1643.2,678.5 L1643.9,693.1 L1644.7,680.7 L1645.4,668.3 L1646.2,676.9 L1647.0,679.5 L1647.7,672.8 L1648.5,676.3 L1649.2,672.7 L1650.0,677.4 L1650.8,676.1 L1651.5,671.3 L1652.3,666.6 L1653.0,678.2 L1653.8,671.1 L1654.6,676.2 L1655.3,676.2 L1656.1,672.6 L1656.8,683.2 L1657.6,656.3 L1658.4,667.2 L1659.1,671.4 L1659.9,680.7 L1660.6,676.7 L1661.4,680.7 L1662.2,682.9 L1662.9,688.5 L1663.7,691.2 L1664.4,670.2 L1665.2,660.5 L1666.0,679.1 L1666.7,675.5 L1667.5,672.8 L1668.2,674.8 L1669.0,677.2 L1669.8,677.6 L1670.5,680.4 L1671.3,670.1 L1672.0,683.4 L1672.8,698.0 L1673.6,687.7 L1674.3,689.5 L1675.1,691.3 L1675.8,692.7 L1676.6,687.0 L1677.4,682.1 L1678.1,686.6 L1678.9,695.1 L1679.6,694.0 L1680.4,692.5 L1681.2,701.7 L1681.9,700.0 L1682.7,690.5 L1683.4,692.6 L1684.2,695.9 L1685.0,700.4 L1685.7,702.7 L1686.5,705.3 L1687.2,703.9 L1688.0,705.8 L1688.8,704.7 L1689.5,699.4 L1690.3,724.5 L1691.0,700.9 L1691.8,701.4 L1692.6,692.7 L1693.3,694.3 L1694.1,695.1 L1694.8,701.5 L1695.6,693.2 L1696.4,689.1 L1697.1,698.9 L1697.9,715.5 L1698.6,698.9 L1699.4,690.5 L1700.2,692.8 L1700.9,697.0 L1701.7,699.0 L1702.4,693.6 L1703.2,701.9 L1704.0,696.0 L1704.7,685.4 L1705.5,701.0 L1706.2,691.8 L1707.0,706.2 L1707.8,702.7 L1708.5,690.8 L1709.3,693.6 L1710.0,706.7 L1710.8,709.9 L1711.6,716.3 L1712.3,712.5 L1713.1,743.0 L1713.8,712.3 L1714.6,706.7 L1715.4,698.4 L1716.1,728.7 L1716.9,710.3 L1717.6,727.9 L1718.4,696.1 L1719.2,714.1 L1719.9,686.6 L1720.7,701.7 L1721.4,697.3 L1722.2,696.7 L1723.0,677.0 L1723.7,710.0 L1724.5,689.6 L1725.2,691.8 L1726.0,694.4 L1726.8,692.6 L1727.5,683.2 L1728.3,699.4 L1729.0,692.0 L1729.8,693.3 L1730.6,680.3 L1731.3,692.3 L1732.1,689.5 L1732.8,698.6 L1733.6,684.1 L1734.4,675.2 L1735.1,689.5 L1735.9,692.0 L1736.6,698.0 L1737.4,686.6 L1738.2,703.4 L1738.9,694.3 L1739.7,687.6 L1740.4,700.3 L1741.2,716.0 L1742.0,690.8 L1742.7,688.5 L1743.5,688.7 L1744.2,695.9 L1745.0,700.8 L1745.8,695.8 L1746.5,684.8 L1747.3,699.1 L1748.0,702.0 L1748.8,681.0 L1749.6,702.2 L1750.3,688.1 L1751.1,684.5 L1751.8,698.7 L1752.6,692.9 L1753.4,716.0 L1754.1,707.0 L1754.9,709.9 L1755.6,703.2 L1756.4,705.4 L1757.2,709.9 L1757.9,730.3 L1758.7,697.6 L1759.4,698.1 L1760.2,713.1 L1761.0,695.8 L1761.7,707.5 L1762.5,702.8 L1763.2,686.8 L1764.0,701.7 L1764.8,708.1 L1765.5,723.4 L1766.3,710.1 L1767.0,715.9 L1767.8,713.1 L1768.6,712.3 L1769.3,720.7 L1770.1,741.3 L1770.8,710.8 L1771.6,710.6 L1772.4,714.8 L1773.1,704.0 L1773.9,713.6 L1774.6,720.3 L1775.4,717.0 L1776.2,717.1 L1776.9,702.2 L1777.7,694.0 L1778.4,703.2 L1779.2,695.3 L1780.0,691.2 L1780.7,693.8 L1781.5,695.2 L1782.2,741.1 L1783.0,693.1 L1783.8,704.6 L1784.5,698.6 L1785.3,699.1 L1786.0,662.6 L1786.8,702.5 L1787.6,713.3 L1788.3,698.5 L1789.1,706.3 L1789.8,708.9 L1790.6,711.6 L1791.4,704.9 L1792.1,695.9 L1792.9,713.4 L1793.6,712.6 L1794.4,714.0 L1795.2,710.8 L1795.9,699.0 L1796.7,716.3 L1797.4,705.1 L1798.2,711.4 L1799.0,719.4 L1799.7,719.7 L1800.5,706.6 L1801.2,714.5 L1802.0,725.1 L1802.8,722.4 L1803.5,715.5 L1804.3,706.8 L1805.0,710.0 L1805.8,713.5 L1806.6,716.8 L1807.3,723.8 L1808.1,722.1 L1808.8,700.7 L1809.6,709.0 L1810.4,705.2 L1811.1,706.1 L1811.9,714.5 L1812.6,709.7 L1813.4,702.1 L1814.2,721.2 L1814.9,705.6 L1815.7,703.6 L1816.4,709.1 L1817.2,727.6 L1818.0,721.7 L1818.7,713.3 L1819.5,722.1 L1820.2,714.8 L1821.0,730.0 L1821.8,727.0 L1822.5,708.3 L1823.3,727.1 L1824.0,734.7 L1824.8,715.9 L1825.6,726.6 L1826.3,723.1 L1827.1,729.8 L1827.8,715.2 L1828.6,732.1 L1829.4,722.9 L1830.1,734.9 L1830.9,733.5 L1831.6,722.6 L1832.4,717.4 L1833.2,722.6 L1833.9,756.9 L1834.7,737.8 L1835.4,734.8 L1836.2,736.6 L1837.0,710.6 L1837.7,729.8 L1838.5,732.6 L1839.2,732.1 L1840.0,729.0 L1840.8,736.2 L1841.5,749.7 L1842.3,768.0 L1843.0,737.5 L1843.8,732.8 L1844.6,723.0 L1845.3,768.8 L1846.1,735.4 L1846.8,719.2 L1847.6,730.6 L1848.4,749.4 L1849.1,738.7 L1849.9,735.6 L1850.6,733.5 L1851.4,732.0 L1852.2,740.8 L1852.9,724.6 L1853.7,726.1 L1854.4,721.0 L1855.2,729.9 L1856.0,736.8 L1856.7,728.2 L1857.5,761.8 L1858.2,729.9 L1859.0,727.9 L1859.8,735.3 L1860.5,724.8 L1861.3,735.5 L1862.0,734.9 L1862.8,734.5 L1863.6,752.6 L1864.3,748.2 L1865.1,743.7 L1865.8,739.6 L1866.6,759.3 L1867.4,770.8 L1868.1,679.3 L1868.9,739.3 L1869.6,737.5 L1870.4,746.3 L1871.2,766.6 L1871.9,750.0 L1872.7,758.4 L1873.4,749.5 L1874.2,749.9 L1875.0,745.4 L1875.7,741.4 L1876.5,744.2 L1877.2,746.5 L1878.0,737.8 L1878.4,726.2 L1878.8,725.1 L1879.1,737.4 L1879.5,750.7 L1879.9,731.1 L1880.3,734.4 L1880.7,764.7 L1881.0,765.2 L1881.4,691.1 L1881.8,783.1 L1882.2,743.1 L1882.6,762.4 L1882.9,697.5 L1883.3,726.1 L1883.7,757.7 L1884.1,763.0 L1884.5,732.4 L1884.8,723.9 L1885.2,732.9 L1885.6,735.3 L1886.0,689.0 L1886.4,696.5 L1886.7,721.1 L1887.1,767.8 L1887.5,732.4 L1887.9,792.5 L1888.3,772.5 L1888.6,767.0 L1889.0,722.9 L1889.4,744.5 L1889.8,770.1 L1890.2,728.9 L1890.5,764.6 L1890.9,796.4 L1891.3,765.0 L1891.7,713.7 L1892.1,758.7 L1892.4,719.0 L1892.8,809.0 L1893.2,735.2 L1893.6,736.9 L1894.0,753.7 L1894.3,738.0 L1894.7,775.7 L1895.1,762.0 L1895.5,803.3 L1895.9,715.2 L1896.2,754.7 L1896.6,762.3 L1897.0,748.1 L1897.4,752.3 L1897.8,711.8 L1898.1,760.7 L1898.5,731.2 L1898.9,701.9 L1899.3,716.2 L1899.7,754.5 L1900.0,760.5 L1900.4,742.2 L1900.8,771.8 L1901.2,739.7 L1901.6,740.9 L1901.9,697.5 L1902.3,709.5 L1902.7,761.1 L1903.1,734.8 L1903.5,730.5 L1903.8,758.7 L1904.2,672.4 L1904.6,757.9 L1905.0,765.8 L1905.4,756.7 L1905.7,766.4 L1906.1,733.3 L1906.5,783.1 L1906.9,783.2 L1907.3,777.7 L1907.6,790.2 L1908.0,805.5 L1908.4,774.1 L1908.8,757.7 L1909.2,765.1 L1909.5,786.3 L1909.9,771.5 L1910.3,778.6 L1910.7,749.7 L1911.1,754.8 L1911.4,727.6 L1911.8,732.7 L1912.2,755.2 L1912.6,754.5 L1913.0,742.4 L1913.3,741.1 L1913.7,746.5 L1914.1,772.4 L1914.5,742.2 L1914.9,753.5 L1915.2,744.5 L1915.6,732.2 L1916.0,713.6 L1916.4,736.2 L1916.8,787.4 L1917.1,734.9 L1917.5,751.4 L1917.9,740.5 L1918.3,762.9 L1918.7,696.8 L1919.0,717.8 L1919.4,673.6 L1919.8,771.8 L1920.2,756.3 L1920.6,709.1 L1920.9,748.5 L1921.3,734.4 L1921.7,777.1 L1922.1,736.8 L1922.5,753.4 L1922.8,805.5 L1923.2,756.4 L1923.6,759.9 L1924.0,760.2 L1924.4,752.9 L1924.7,752.3 L1925.1,775.3 L1925.5,792.7 L1925.9,768.9 L1926.3,753.5 L1926.6,765.4 L1927.0,768.5 L1927.4,750.3 L1927.8,726.7 L1928.2,753.4 L1928.5,712.6 L1928.9,768.9 L1929.3,726.1 L1929.7,726.4 L1930.1,749.5 L1930.4,719.7 L1930.8,755.4 L1931.2,763.7 L1931.6,743.9 L1932.0,767.8 L1932.3,794.0 L1932.7,763.1 L1933.1,755.7 L1933.5,778.2 L1933.9,779.9 L1934.2,732.4 L1934.6,768.0 L1935.0,743.2 L1935.4,827.4 L1935.8,731.9 L1936.1,752.9 L1936.5,769.8 L1936.9,700.2 L1937.3,742.4 L1937.7,744.2 L1938.0,751.7 L1938.4,717.0 L1938.8,754.4 L1939.2,765.7 L1939.6,765.3 L1939.9,793.6 L1940.3,776.2 L1940.7,744.5 L1941.1,788.1 L1941.5,800.5 L1941.8,746.5 L1942.2,731.5 L1942.6,767.5 L1943.0,762.9 L1943.4,790.1 L1943.7,754.5 L1944.1,775.1 L1944.5,778.7 L1944.9,752.2 L1945.3,764.8 L1945.6,691.9 L1946.0,717.8 L1946.4,745.1 L1946.8,737.0 L1947.2,743.2 L1947.5,753.9 L1947.9,714.5 L1948.3,783.9 L1948.7,762.5 L1949.1,771.3 L1949.4,695.7 L1949.8,717.3 L1950.2,695.9 L1950.6,710.5 L1951.0,743.8 L1951.3,747.5 L1951.7,767.8 L1952.1,719.8 L1952.5,768.7 L1952.9,723.2 L1953.2,763.4 L1953.6,778.6 L1954.0,725.9 L1954.4,740.7 L1954.8,763.9 L1955.1,764.2 L1955.5,711.6 L1955.9,696.9 L1956.3,703.6 L1956.7,766.7 L1957.0,756.4 L1957.4,746.0 L1957.8,762.3 L1958.2,764.7 L1958.6,754.3 L1958.9,794.3 L1959.3,679.4 L1959.7,717.8 L1960.1,725.6 L1960.5,767.2 L1960.8,702.3" fill="none" stroke="#0000ff" stroke-width="4.2" stroke-linejoin="miter" stroke-miterlimit="2"/>
<g stroke="#000" stroke-width="4" fill="none" stroke-linecap="butt" stroke-linejoin="round">
<path d="M286.0 55.1 H300.0 V1545.0 H2151.9 V1559.0"/>
<path d="M286.0 1545.5 H300.0"/>
<path d="M271.0 1396.5 H300.0"/>
<path d="M286.0 1247.5 H300.0"/>
<path d="M271.0 1098.4 H300.0"/>
<path d="M286.0 949.4 H300.0"/>
<path d="M271.0 800.3 H300.0"/>
<path d="M286.0 651.3 H300.0"/>
<path d="M271.0 502.3 H300.0"/>
<path d="M286.0 353.2 H300.0"/>
<path d="M271.0 204.2 H300.0"/>
<path d="M437.1 1545.0 V1573.0"/>
<path d="M627.6 1545.0 V1559.0"/>
<path d="M818.2 1545.0 V1573.0"/>
<path d="M1008.7 1545.0 V1559.0"/>
<path d="M1199.2 1545.0 V1573.0"/>
<path d="M1389.8 1545.0 V1559.0"/>
<path d="M1580.3 1545.0 V1573.0"/>
<path d="M1770.9 1545.0 V1559.0"/>
<path d="M1961.4 1545.0 V1573.0"/>
</g>
<g class="lib" font-size="65" fill="#000">
<text transform="translate(250.2 1412.2) scale(0.945 1)" text-anchor="end">0.2</text>
<text transform="translate(250.2 1115.2) scale(0.945 1)" text-anchor="end">0.4</text>
<text transform="translate(250.2 817.9) scale(0.945 1)" text-anchor="end">0.6</text>
<text transform="translate(250.2 520.8) scale(0.945 1)" text-anchor="end">0.8</text>
<text transform="translate(250.2 223.6) scale(0.945 1)" text-anchor="end">1.0</text>
<text transform="translate(436.6 1643.6) scale(0.945 1)" text-anchor="middle">500</text>
<text transform="translate(817.7 1643.6) scale(0.945 1)" text-anchor="middle">1000</text>
<text transform="translate(1198.8 1643.6) scale(0.945 1)" text-anchor="middle">1500</text>
<text transform="translate(1579.8 1643.6) scale(0.945 1)" text-anchor="middle">2000</text>
<text transform="translate(1960.9 1643.6) scale(0.945 1)" text-anchor="middle">2500</text>
</g>
<rect x="167.51" y="218.05" width="12.54" height="6.55" fill="#fff"/><rect x="185.90" y="218.05" width="11.61" height="6.55" fill="#fff"/><rect x="752.05" y="1638.05" width="12.54" height="6.55" fill="#fff"/><rect x="770.44" y="1638.05" width="11.61" height="6.55" fill="#fff"/><rect x="1133.13" y="1638.05" width="12.54" height="6.55" fill="#fff"/><rect x="1151.51" y="1638.05" width="11.61" height="6.55" fill="#fff"/>
<text class="lib" font-size="79" transform="translate(73.5 761) rotate(-90) scale(1 0.985)" text-anchor="middle">Absorptance</text>
<text class="lib" font-size="79" transform="translate(1224.5 1763.5) scale(0.97 1)" text-anchor="middle">wavelength (nm)</text>
<line x1="1722.6" y1="393.2" x2="1781.6" y2="384.4" stroke="#000" stroke-width="1.8"/><path d="M1802.4 381.3 L1783.2 394.8 L1780.1 374.0 Z" fill="#000"/>
<line x1="1769.0" y1="439.4" x2="1738.3" y2="470.1" stroke="#000" stroke-width="1.8"/><path d="M1723.5 485.0 L1730.9 462.7 L1745.8 477.6 Z" fill="#000"/>
<line x1="1454.0" y1="556.4" x2="1512.9" y2="546.7" stroke="#3b4770" stroke-width="1.8"/><path d="M1533.6 543.3 L1514.6 557.1 L1511.2 536.3 Z" fill="#213a80"/>
<line x1="1272.3" y1="580.4" x2="1218.4" y2="601.1" stroke="#3b4770" stroke-width="1.8"/><path d="M1198.8 608.6 L1214.6 591.3 L1222.2 610.9 Z" fill="#213a80"/>
<line x1="1485.0" y1="893.0" x2="1437.1" y2="942.6" stroke="#000" stroke-width="1.8"/><path d="M1422.5 957.7 L1429.5 935.3 L1444.6 949.9 Z" fill="#000"/>
<g class="cal" font-size="69">
<text x="1832" y="402" fill="#000">BL</text>
<text x="1553" y="562.5" fill="#213a80">coated</text>
<text x="1005" y="694" fill="#213a80">coated (TA)</text>
<text x="1336" y="1048" fill="#000">BL (TA)</text>
</g>
</svg></body></html>
